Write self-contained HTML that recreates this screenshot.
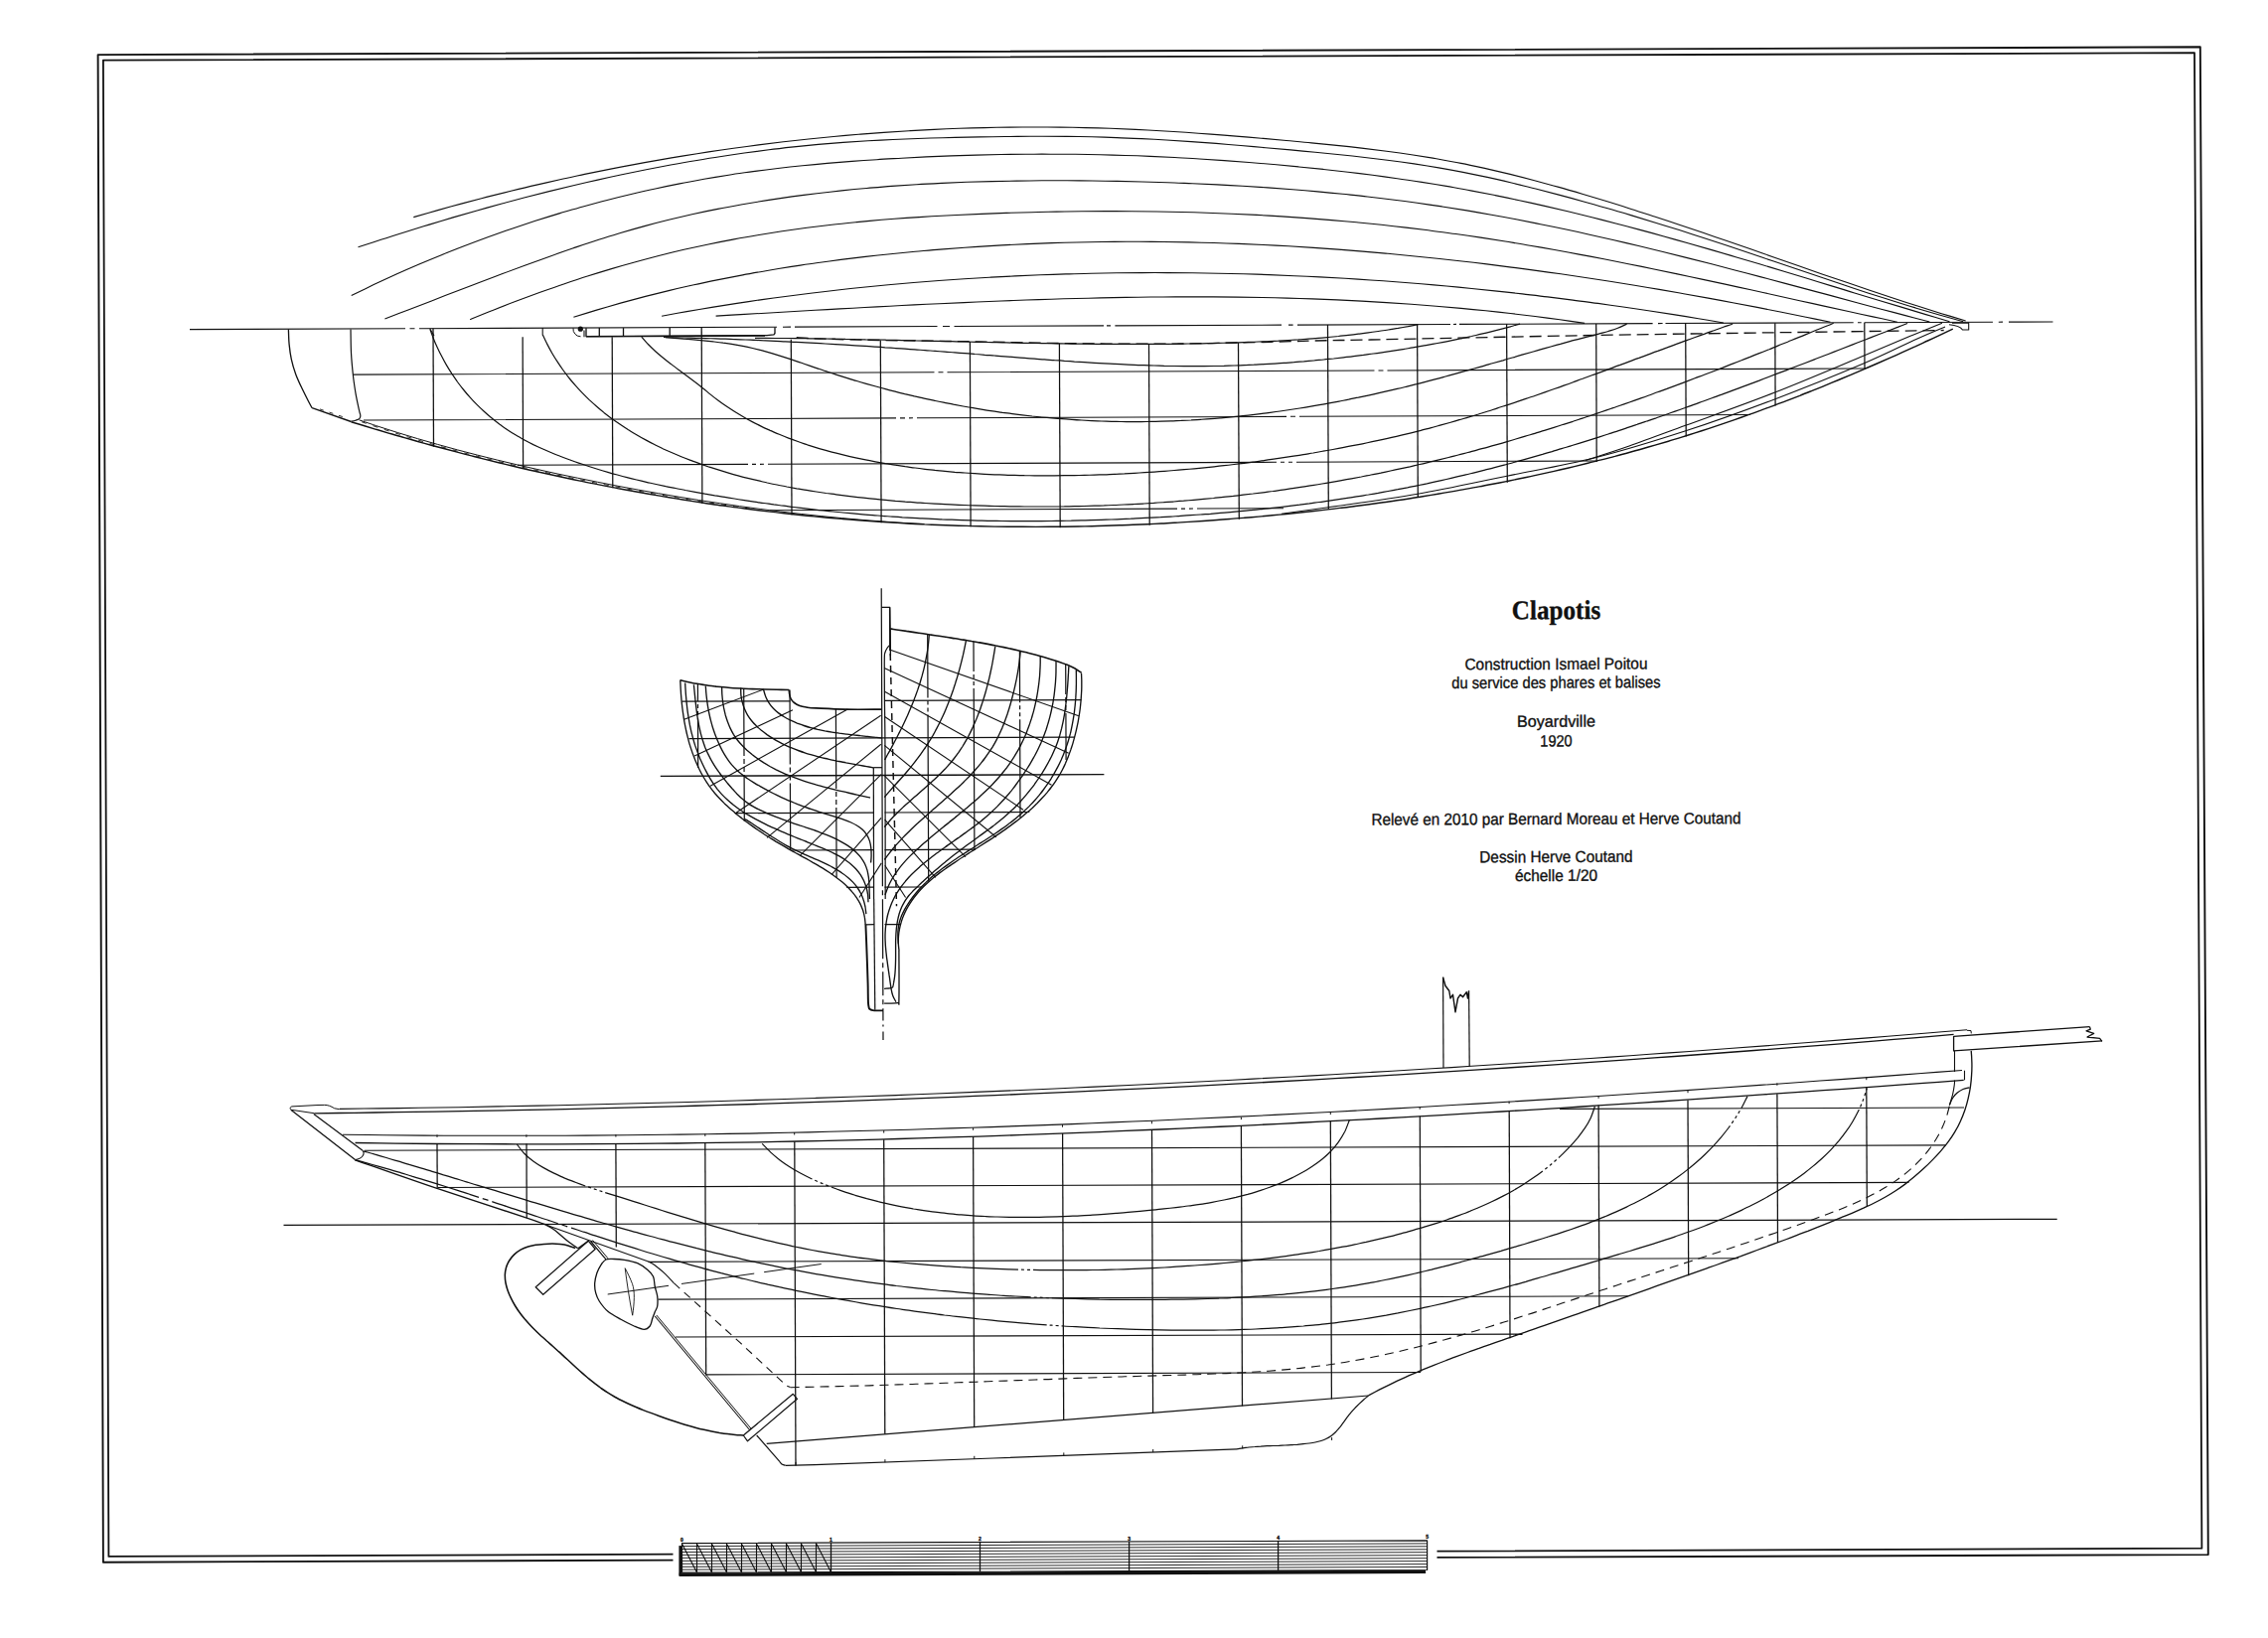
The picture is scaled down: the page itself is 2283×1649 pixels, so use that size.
<!DOCTYPE html>
<html><head><meta charset="utf-8"><title>Clapotis</title>
<style>
html,body{margin:0;padding:0;background:#fff;}
body{width:2283px;height:1649px;overflow:hidden;font-family:"Liberation Sans",sans-serif;}
svg{display:block;}
svg path{fill:none;stroke:#111;stroke-linecap:butt;stroke-linejoin:round;}
svg text{fill:#111;stroke:#111;stroke-width:0.35px;}
</style></head><body>
<svg xmlns="http://www.w3.org/2000/svg" width="2283" height="1649" viewBox="0 0 2283 1649">
<rect width="2283" height="1649" fill="#fff"/>
<path d="M677.5 1570.6L103.9 1572.7L98.6 55.1L2214.8 47.3L2222.8 1565.1L1446.5 1567.9" stroke-width="1.9"/>
<path d="M677.5 1564.7L109.4 1566.9L103.9 60.7L2209 53.2L2216.4 1558.7L1446.5 1561.7" stroke-width="1.8"/>
<path d="M416.3 218.6C420.4 217.4 432.6 213.9 440.7 211.6C448.9 209.3 457 207.1 465.2 204.9C473.3 202.7 481.5 200.5 489.7 198.4C497.9 196.3 506.1 194.3 514.3 192.3C522.5 190.3 530.7 188.3 539 186.4C547.2 184.5 555.5 182.6 563.7 180.8C572 178.9 580.2 177.2 588.5 175.4C596.8 173.7 605.1 172 613.4 170.4C621.7 168.7 630 167.1 638.3 165.6C646.6 164 654.9 162.5 663.2 161.1C671.6 159.6 679.9 158.2 688.2 156.9C696.6 155.5 704.9 154.2 713.3 152.9C721.7 151.6 730 150.4 738.4 149.3C746.8 148.1 755.1 147 763.5 145.9C771.9 144.8 780.3 143.8 788.7 142.8C797.1 141.8 805.5 140.9 813.9 140C822.3 139.1 830.7 138.3 839.1 137.5C847.5 136.7 856 136 864.4 135.3C872.8 134.6 881.2 134 889.7 133.4C898.1 132.8 906.5 132.2 915 131.7C923.4 131.2 931.8 130.8 940.3 130.4C948.7 130 957.2 129.6 965.6 129.3C974.1 129 982.5 128.8 991 128.6C999.4 128.4 1007.9 128.2 1016.3 128.1C1024.8 128 1033.2 128 1041.7 128C1050.1 128 1058.6 128 1067 128.1C1075.5 128.2 1083.9 128.4 1092.4 128.6C1100.8 128.8 1109.3 129 1117.7 129.3C1126.2 129.6 1134.6 130 1143 130.4C1151.5 130.8 1159.9 131.2 1168.4 131.7C1176.8 132.2 1185.3 132.7 1193.7 133.3C1202.1 133.9 1210.6 134.5 1219 135.1C1227.4 135.7 1235.9 136.4 1244.3 137.1C1252.7 137.8 1261.2 138.5 1269.6 139.2C1278 140 1286.4 140.7 1294.9 141.5C1303.3 142.3 1311.7 143 1320.1 143.9C1328.6 144.7 1337 145.5 1345.4 146.4C1353.8 147.2 1362.2 148.1 1370.6 149.1C1379 150.1 1387.4 151.1 1395.8 152.2C1404.1 153.3 1412.5 154.5 1420.8 155.7C1429.2 157 1437.5 158.3 1445.8 159.7C1454.1 161.2 1462.4 162.7 1470.7 164.4C1479 166 1487.2 167.8 1495.5 169.6C1503.7 171.5 1511.9 173.4 1520.1 175.4C1528.3 177.4 1536.5 179.5 1544.7 181.7C1552.9 183.9 1561 186.1 1569.1 188.4C1577.3 190.7 1585.4 193.1 1593.5 195.5C1601.6 197.9 1609.7 200.3 1617.8 202.8C1625.9 205.3 1634 207.8 1642 210.4C1650.1 212.9 1658.2 215.6 1666.2 218.2C1674.2 220.8 1682.3 223.5 1690.3 226.2C1698.3 228.9 1706.3 231.6 1714.3 234.3C1722.3 237 1730.3 239.8 1738.3 242.5C1746.3 245.3 1754.3 248.1 1762.3 250.8C1770.3 253.6 1778.2 256.4 1786.2 259.2C1794.2 262 1802.2 264.8 1810.1 267.5C1818.1 270.3 1826.1 273.1 1834.1 275.9C1842.1 278.6 1850.1 281.4 1858.1 284.1C1866 286.8 1874 289.5 1882.1 292.2C1890.1 294.9 1898.1 297.6 1906.1 300.2C1914.1 302.9 1922.2 305.5 1930.2 308C1938.3 310.6 1946.4 313.2 1954.4 315.7C1962.5 318.1 1974.7 321.8 1978.7 323" stroke-width="1.1"/>
<path d="M360.5 248.8C364.5 247.5 376.4 243.6 384.3 241.1C392.2 238.5 400.2 236 408.2 233.5C416.1 231 424.1 228.5 432.1 226.1C440.1 223.7 448.1 221.3 456.1 218.9C464.1 216.6 472.1 214.3 480.2 212C488.2 209.7 496.3 207.5 504.3 205.3C512.4 203.1 520.4 200.9 528.5 198.8C536.6 196.7 544.7 194.6 552.8 192.6C560.9 190.6 569 188.6 577.1 186.7C585.3 184.8 593.4 182.9 601.6 181.1C609.7 179.2 617.9 177.4 626 175.7C634.2 174 642.4 172.3 650.5 170.7C658.7 169.1 666.9 167.5 675.1 166C683.3 164.5 691.6 163 699.8 161.7C708 160.3 716.2 158.9 724.5 157.7C732.7 156.4 741 155.2 749.2 154C757.5 152.9 765.8 151.8 774 150.8C782.3 149.7 790.6 148.8 798.9 147.9C807.2 147 815.5 146.2 823.8 145.4C832.1 144.7 840.4 144 848.8 143.4C857.1 142.8 865.4 142.3 873.7 141.8C882.1 141.3 890.4 140.9 898.8 140.5C907.1 140.1 915.5 139.8 923.8 139.5C932.2 139.2 940.5 138.9 948.9 138.7C957.2 138.5 965.6 138.3 973.9 138.1C982.3 138 990.6 137.8 999 137.7C1007.3 137.6 1015.7 137.5 1024 137.4C1032.4 137.3 1040.7 137.3 1049.1 137.3C1057.4 137.3 1065.7 137.3 1074.1 137.4C1082.4 137.5 1090.8 137.6 1099.1 137.8C1107.4 138 1115.8 138.3 1124.1 138.6C1132.4 138.8 1140.8 139.2 1149.1 139.6C1157.4 140 1165.8 140.5 1174.1 141C1182.4 141.5 1190.7 142 1199.1 142.6C1207.4 143.2 1215.7 143.8 1224.1 144.4C1232.4 145.1 1240.7 145.8 1249 146.5C1257.3 147.2 1265.7 147.9 1274 148.7C1282.3 149.4 1290.6 150.2 1299 150.9C1307.3 151.7 1315.6 152.5 1323.9 153.3C1332.2 154.1 1340.5 154.9 1348.9 155.8C1357.2 156.6 1365.5 157.5 1373.8 158.5C1382 159.4 1390.3 160.4 1398.6 161.5C1406.9 162.6 1415.1 163.7 1423.4 164.9C1431.6 166.2 1439.9 167.5 1448.1 168.9C1456.3 170.3 1464.5 171.8 1472.7 173.4C1480.8 175 1489 176.7 1497.1 178.4C1505.3 180.2 1513.4 182.1 1521.5 184C1529.6 185.9 1537.7 188 1545.8 190C1553.9 192.1 1562 194.2 1570.1 196.4C1578.1 198.5 1586.2 200.7 1594.2 203C1602.3 205.2 1610.3 207.5 1618.3 209.8C1626.4 212.1 1634.4 214.5 1642.4 216.9C1650.4 219.3 1658.4 221.7 1666.4 224.2C1674.4 226.6 1682.3 229.1 1690.3 231.6C1698.2 234.1 1706.2 236.7 1714.1 239.3C1722.1 241.9 1730 244.5 1737.9 247.1C1745.9 249.7 1753.8 252.4 1761.7 255C1769.6 257.7 1777.5 260.4 1785.4 263.1C1793.3 265.7 1801.2 268.4 1809.1 271.1C1817 273.8 1824.9 276.5 1832.8 279.1C1840.7 281.8 1848.6 284.4 1856.5 287C1864.4 289.7 1872.4 292.3 1880.3 294.9C1888.2 297.4 1896.2 300 1904.2 302.5C1912.1 305 1920.1 307.5 1928.1 309.9C1936.1 312.3 1944.1 314.7 1952.1 317C1960.1 319.3 1972.2 322.6 1976.2 323.8" stroke-width="1.1"/>
<path d="M353.7 297.5C357.5 295.7 368.7 290.2 376.2 286.6C383.8 283.1 391.4 279.6 399 276.1C406.6 272.7 414.2 269.4 421.9 266.1C429.6 262.8 437.3 259.6 445 256.5C452.7 253.3 460.5 250.3 468.3 247.3C476 244.3 483.8 241.4 491.7 238.5C499.5 235.7 507.4 232.9 515.3 230.2C523.2 227.5 531.1 224.9 539 222.3C547 219.8 554.9 217.3 562.9 214.9C570.9 212.6 578.9 210.2 586.9 208C594.9 205.8 603 203.6 611.1 201.5C619.1 199.4 627.2 197.4 635.3 195.5C643.4 193.6 651.6 191.7 659.7 190C667.8 188.2 676 186.5 684.2 184.9C692.3 183.3 700.5 181.8 708.7 180.3C716.9 178.9 725.2 177.5 733.4 176.2C741.6 174.9 749.9 173.8 758.1 172.6C766.4 171.5 774.6 170.5 782.9 169.5C791.2 168.5 799.5 167.6 807.8 166.8C816.1 165.9 824.4 165.1 832.7 164.4C841 163.7 849.3 163 857.6 162.4C865.9 161.8 874.3 161.2 882.6 160.7C890.9 160.1 899.2 159.7 907.6 159.2C915.9 158.7 924.2 158.3 932.5 157.9C940.9 157.6 949.2 157.2 957.5 156.9C965.9 156.6 974.2 156.3 982.5 156.1C990.9 155.9 999.2 155.7 1007.5 155.5C1015.9 155.4 1024.2 155.3 1032.5 155.2C1040.9 155.2 1049.2 155.1 1057.5 155.2C1065.9 155.2 1074.2 155.2 1082.5 155.3C1090.8 155.4 1099.2 155.6 1107.5 155.8C1115.8 156 1124.2 156.2 1132.5 156.5C1140.8 156.7 1149.1 157 1157.5 157.4C1165.8 157.7 1174.1 158.1 1182.4 158.5C1190.8 159 1199.1 159.4 1207.4 160C1215.7 160.5 1224 161 1232.4 161.6C1240.7 162.2 1249 162.8 1257.3 163.5C1265.6 164.1 1273.9 164.8 1282.2 165.5C1290.5 166.3 1298.8 167.1 1307.1 167.9C1315.4 168.7 1323.7 169.5 1332 170.4C1340.3 171.3 1348.6 172.2 1356.9 173.2C1365.2 174.2 1373.4 175.2 1381.7 176.3C1390 177.4 1398.2 178.5 1406.5 179.7C1414.7 180.8 1423 182.1 1431.2 183.4C1439.4 184.7 1447.7 186 1455.9 187.4C1464.1 188.9 1472.3 190.3 1480.4 191.9C1488.6 193.4 1496.8 195 1505 196.6C1513.1 198.3 1521.3 200 1529.4 201.7C1537.5 203.5 1545.7 205.3 1553.8 207.1C1561.9 209 1570 210.9 1578.1 212.8C1586.2 214.8 1594.3 216.8 1602.4 218.8C1610.5 220.8 1618.5 222.9 1626.6 225C1634.7 227.1 1642.7 229.2 1650.8 231.4C1658.8 233.5 1666.9 235.7 1674.9 238C1682.9 240.2 1691 242.5 1699 244.7C1707 247 1715 249.3 1723 251.6C1731.1 254 1739.1 256.3 1747.1 258.7C1755.1 261 1763.1 263.4 1771.1 265.8C1779.1 268.2 1787 270.6 1795 273C1803 275.4 1811 277.8 1819 280.3C1827 282.7 1834.9 285.1 1842.9 287.6C1850.9 290 1858.9 292.4 1866.8 294.9C1874.8 297.3 1882.8 299.7 1890.8 302.2C1898.7 304.6 1906.7 307 1914.7 309.4C1922.6 311.8 1930.6 314.2 1938.6 316.6C1946.5 319 1958.5 322.5 1962.5 323.7" stroke-width="1.1"/>
<path d="M387.4 321C391.4 319.5 403.1 315 410.9 312C418.8 308.9 426.6 305.9 434.4 302.9C442.3 299.8 450.1 296.8 458 293.8C465.8 290.8 473.7 287.7 481.6 284.7C489.4 281.7 497.3 278.7 505.2 275.8C513.1 272.8 521 269.9 528.9 267C536.8 264.1 544.7 261.2 552.6 258.4C560.6 255.5 568.5 252.7 576.5 250C584.5 247.3 592.4 244.6 600.5 242C608.5 239.5 616.5 236.9 624.6 234.5C632.6 232.1 640.7 229.8 648.8 227.6C656.9 225.4 665.1 223.3 673.2 221.3C681.4 219.3 689.6 217.4 697.8 215.5C706 213.7 714.2 212 722.5 210.4C730.7 208.7 739 207.2 747.3 205.7C755.6 204.3 763.9 202.9 772.2 201.6C780.5 200.3 788.8 199.1 797.2 197.9C805.5 196.8 813.9 195.7 822.2 194.7C830.6 193.7 838.9 192.8 847.3 191.9C855.7 191 864 190.2 872.4 189.5C880.8 188.7 889.2 188.1 897.5 187.4C905.9 186.8 914.3 186.3 922.7 185.8C931.1 185.2 939.5 184.8 947.9 184.4C956.3 184 964.7 183.6 973.1 183.3C981.5 183 989.9 182.8 998.3 182.6C1006.7 182.4 1015.1 182.2 1023.5 182.1C1031.9 182 1040.4 181.9 1048.8 181.8C1057.2 181.8 1065.6 181.8 1074 181.8C1082.4 181.9 1090.9 181.9 1099.3 182C1107.7 182.1 1116.1 182.3 1124.5 182.4C1133 182.6 1141.4 182.8 1149.8 183C1158.2 183.2 1166.6 183.5 1175.1 183.8C1183.5 184 1191.9 184.4 1200.3 184.7C1208.7 185.1 1217.1 185.5 1225.5 185.9C1233.9 186.3 1242.4 186.8 1250.8 187.3C1259.2 187.8 1267.6 188.3 1276 188.9C1284.4 189.5 1292.8 190.1 1301.1 190.8C1309.5 191.4 1317.9 192.1 1326.3 192.9C1334.7 193.7 1343 194.5 1351.4 195.3C1359.8 196.2 1368.1 197 1376.5 198C1384.8 198.9 1393.2 199.9 1401.5 201C1409.9 202 1418.2 203.1 1426.5 204.3C1434.8 205.5 1443.2 206.7 1451.5 207.9C1459.8 209.2 1468.1 210.5 1476.4 211.9C1484.7 213.3 1492.9 214.7 1501.2 216.2C1509.5 217.7 1517.7 219.2 1526 220.8C1534.3 222.4 1542.5 224 1550.7 225.7C1559 227.3 1567.2 229 1575.4 230.8C1583.7 232.5 1591.9 234.3 1600.1 236.2C1608.3 238 1616.5 239.9 1624.7 241.8C1632.9 243.7 1641.1 245.6 1649.3 247.5C1657.5 249.5 1665.7 251.5 1673.9 253.5C1682 255.5 1690.2 257.5 1698.4 259.6C1706.5 261.7 1714.7 263.7 1722.9 265.8C1731 267.9 1739.2 270 1747.3 272.2C1755.5 274.3 1763.6 276.4 1771.8 278.6C1779.9 280.7 1788 282.9 1796.2 285.1C1804.3 287.2 1812.4 289.4 1820.6 291.6C1828.7 293.8 1836.8 296 1845 298.1C1853.1 300.3 1861.2 302.5 1869.3 304.7C1877.5 306.8 1885.6 309 1893.7 311.2C1901.8 313.3 1909.9 315.5 1918 317.6C1926.2 319.7 1938.3 322.9 1942.4 324" stroke-width="1.1"/>
<path d="M473.1 321.6C477 320 488.6 315.2 496.5 312.2C504.3 309.1 512.1 306 520 303.1C527.9 300.1 535.8 297.2 543.7 294.3C551.6 291.5 559.5 288.7 567.5 286C575.4 283.3 583.4 280.6 591.4 278.1C599.4 275.5 607.4 273 615.5 270.6C623.5 268.2 631.6 265.9 639.7 263.7C647.8 261.4 655.9 259.3 664 257.2C672.2 255.2 680.3 253.2 688.5 251.3C696.7 249.5 704.9 247.7 713.1 246C721.3 244.2 729.5 242.6 737.7 241.1C746 239.5 754.2 238 762.5 236.7C770.8 235.3 779.1 234 787.4 232.7C795.7 231.5 804 230.3 812.3 229.2C820.6 228.1 828.9 227.1 837.3 226.2C845.6 225.2 854 224.4 862.3 223.6C870.7 222.8 879 222 887.4 221.3C895.8 220.6 904.1 220 912.5 219.4C920.9 218.9 929.3 218.3 937.7 217.8C946.1 217.3 954.5 216.9 962.8 216.5C971.2 216.1 979.6 215.7 988 215.4C996.4 215 1004.8 214.7 1013.2 214.4C1021.6 214.1 1030 213.9 1038.4 213.7C1046.7 213.4 1055.1 213.3 1063.5 213.1C1071.9 213 1080.3 212.8 1088.7 212.8C1097.1 212.7 1105.5 212.6 1113.9 212.6C1122.3 212.6 1130.7 212.6 1139.1 212.7C1147.5 212.7 1155.9 212.8 1164.3 213C1172.7 213.1 1181.1 213.3 1189.5 213.5C1197.9 213.7 1206.2 213.9 1214.6 214.2C1223 214.5 1231.4 214.9 1239.8 215.2C1248.2 215.6 1256.6 216 1265 216.4C1273.4 216.9 1281.7 217.4 1290.1 217.9C1298.5 218.4 1306.9 219 1315.3 219.6C1323.6 220.2 1332 220.9 1340.4 221.6C1348.7 222.3 1357.1 223 1365.4 223.8C1373.8 224.6 1382.2 225.5 1390.5 226.3C1398.8 227.2 1407.2 228.2 1415.5 229.1C1423.9 230.1 1432.2 231.1 1440.5 232.2C1448.8 233.2 1457.2 234.4 1465.5 235.5C1473.8 236.7 1482.1 237.9 1490.4 239.1C1498.7 240.4 1507 241.7 1515.2 243C1523.5 244.4 1531.8 245.7 1540.1 247.2C1548.4 248.6 1556.6 250 1564.9 251.5C1573.1 253 1581.4 254.5 1589.6 256.1C1597.9 257.6 1606.1 259.2 1614.4 260.8C1622.6 262.4 1630.9 264 1639.1 265.7C1647.3 267.3 1655.6 269 1663.8 270.7C1672 272.4 1680.2 274.1 1688.5 275.9C1696.7 277.6 1704.9 279.4 1713.1 281.1C1721.3 282.9 1729.5 284.7 1737.7 286.4C1745.9 288.2 1754.2 290 1762.4 291.8C1770.6 293.6 1778.8 295.4 1787 297.2C1795.2 299.1 1803.4 300.9 1811.6 302.7C1819.8 304.5 1827.9 306.3 1836.1 308.1C1844.3 309.9 1852.5 311.7 1860.7 313.5C1868.9 315.3 1877.1 317.1 1885.3 318.9C1893.5 320.6 1905.8 323.3 1909.9 324.2" stroke-width="1.1"/>
<path d="M577.4 319.3C581.4 318.1 593.4 314.3 601.4 311.9C609.4 309.5 617.5 307.2 625.5 304.9C633.6 302.7 641.7 300.5 649.8 298.4C657.9 296.4 666 294.4 674.1 292.4C682.2 290.5 690.3 288.6 698.5 286.8C706.6 285 714.8 283.3 723 281.6C731.2 280 739.4 278.4 747.6 276.9C755.8 275.3 764 273.9 772.2 272.5C780.4 271.1 788.7 269.7 796.9 268.4C805.2 267.2 813.4 265.9 821.7 264.8C830 263.6 838.2 262.5 846.5 261.4C854.8 260.4 863.1 259.4 871.4 258.4C879.7 257.4 888 256.5 896.3 255.7C904.6 254.8 912.9 254 921.3 253.2C929.6 252.5 937.9 251.7 946.2 251.1C954.6 250.4 962.9 249.8 971.2 249.2C979.6 248.6 987.9 248.1 996.3 247.6C1004.6 247.1 1013 246.6 1021.3 246.2C1029.7 245.8 1038 245.4 1046.4 245.1C1054.7 244.8 1063.1 244.5 1071.4 244.3C1079.8 244.1 1088.2 243.9 1096.5 243.7C1104.9 243.6 1113.2 243.5 1121.6 243.4C1130 243.3 1138.3 243.3 1146.7 243.3C1155 243.3 1163.4 243.4 1171.7 243.5C1180.1 243.6 1188.5 243.7 1196.8 243.9C1205.2 244.1 1213.5 244.3 1221.9 244.5C1230.2 244.8 1238.6 245.1 1246.9 245.4C1255.3 245.7 1263.6 246.1 1271.9 246.5C1280.3 246.9 1288.6 247.4 1297 247.8C1305.3 248.3 1313.6 248.8 1322 249.4C1330.3 249.9 1338.6 250.5 1347 251.1C1355.3 251.8 1363.6 252.4 1371.9 253.1C1380.3 253.8 1388.6 254.5 1396.9 255.3C1405.2 256 1413.5 256.8 1421.8 257.7C1430.1 258.5 1438.4 259.3 1446.8 260.2C1455.1 261.1 1463.4 262 1471.7 263C1480 263.9 1488.2 264.9 1496.5 265.9C1504.8 266.9 1513.1 268 1521.4 269.1C1529.7 270.1 1538 271.2 1546.2 272.4C1554.5 273.5 1562.8 274.7 1571.1 275.8C1579.3 277 1587.6 278.2 1595.9 279.5C1604.1 280.7 1612.4 282 1620.6 283.3C1628.9 284.6 1637.2 285.9 1645.4 287.3C1653.6 288.6 1661.9 290 1670.1 291.4C1678.4 292.8 1686.6 294.2 1694.8 295.7C1703.1 297.1 1711.3 298.6 1719.5 300.1C1727.7 301.6 1736 303.1 1744.2 304.7C1752.4 306.2 1760.6 307.8 1768.8 309.4C1777 311 1785.2 312.6 1793.4 314.2C1801.6 315.8 1809.8 317.5 1818 319.2C1826.1 320.9 1838.4 323.4 1842.5 324.3" stroke-width="1.1"/>
<path d="M666.1 318.2C670.3 317.4 682.9 315.1 691.3 313.6C699.7 312.2 708.1 310.8 716.5 309.4C725 308 733.4 306.7 741.8 305.4C750.2 304.1 758.7 302.8 767.1 301.6C775.5 300.4 784 299.3 792.4 298.2C800.9 297.1 809.3 296 817.8 295C826.3 293.9 834.7 292.9 843.2 292C851.7 291 860.1 290.1 868.6 289.3C877.1 288.4 885.6 287.6 894.1 286.8C902.6 286 911.1 285.2 919.6 284.5C928.1 283.8 936.6 283.2 945.1 282.5C953.6 281.9 962.1 281.3 970.6 280.8C979.1 280.2 987.6 279.7 996.1 279.2C1004.6 278.7 1013.1 278.3 1021.7 277.9C1030.2 277.5 1038.7 277.1 1047.2 276.8C1055.7 276.5 1064.3 276.2 1072.8 275.9C1081.3 275.7 1089.8 275.4 1098.4 275.3C1106.9 275.1 1115.4 274.9 1123.9 274.8C1132.5 274.7 1141 274.6 1149.5 274.6C1158 274.5 1166.6 274.5 1175.1 274.6C1183.6 274.6 1192.1 274.7 1200.7 274.8C1209.2 274.9 1217.7 275 1226.3 275.2C1234.8 275.4 1243.3 275.6 1251.8 275.8C1260.3 276 1268.9 276.3 1277.4 276.6C1285.9 276.9 1294.4 277.3 1302.9 277.7C1311.5 278 1320 278.4 1328.5 278.9C1337 279.3 1345.5 279.8 1354 280.3C1362.5 280.8 1371.1 281.4 1379.6 282C1388.1 282.5 1396.6 283.1 1405.1 283.8C1413.6 284.4 1422.1 285.1 1430.6 285.8C1439.1 286.5 1447.6 287.3 1456.1 288C1464.6 288.8 1473 289.6 1481.5 290.5C1490 291.3 1498.5 292.2 1507 293.1C1515.5 294 1523.9 294.9 1532.4 295.9C1540.9 296.9 1549.3 297.8 1557.8 298.9C1566.3 299.9 1574.7 301 1583.2 302.1C1591.6 303.1 1600.1 304.3 1608.5 305.4C1617 306.6 1625.4 307.8 1633.9 309C1642.3 310.2 1650.8 311.4 1659.2 312.7C1667.6 314 1676 315.3 1684.5 316.6C1692.9 318 1701.3 319.3 1709.7 320.7C1718.1 322.1 1730.7 324.3 1734.9 325" stroke-width="1.1"/>
<path d="M720.6 318.1C724.7 317.8 737.2 317.1 745.5 316.6C753.8 316.2 762.1 315.7 770.5 315.2C778.8 314.7 787.1 314.2 795.4 313.7C803.8 313.3 812.1 312.8 820.4 312.3C828.7 311.8 837.1 311.4 845.4 310.9C853.7 310.5 862.1 310 870.4 309.5C878.7 309.1 887.1 308.6 895.4 308.2C903.7 307.8 912.1 307.3 920.4 306.9C928.7 306.5 937.1 306.1 945.4 305.7C953.8 305.3 962.1 304.9 970.4 304.6C978.8 304.2 987.1 303.8 995.5 303.5C1003.8 303.1 1012.2 302.8 1020.5 302.5C1028.8 302.2 1037.2 301.9 1045.5 301.6C1053.9 301.3 1062.2 301.1 1070.6 300.8C1078.9 300.6 1087.3 300.4 1095.6 300.2C1103.9 300 1112.3 299.8 1120.6 299.6C1129 299.5 1137.3 299.3 1145.7 299.2C1154 299.1 1162.4 299 1170.7 299C1179 298.9 1187.4 298.9 1195.7 298.9C1204.1 298.9 1212.4 298.9 1220.8 298.9C1229.1 299 1237.4 299 1245.8 299.1C1254.1 299.2 1262.4 299.4 1270.8 299.5C1279.1 299.7 1287.5 299.9 1295.8 300.1C1304.1 300.4 1312.5 300.6 1320.8 300.9C1329.1 301.2 1337.5 301.6 1345.8 301.9C1354.1 302.3 1362.4 302.7 1370.8 303.1C1379.1 303.6 1387.4 304.1 1395.7 304.6C1404.1 305.1 1412.4 305.7 1420.7 306.3C1429 306.9 1437.3 307.5 1445.7 308.2C1454 308.9 1462.3 309.6 1470.6 310.4C1478.9 311.1 1487.2 311.9 1495.5 312.8C1503.8 313.7 1512.1 314.6 1520.4 315.5C1528.7 316.5 1537 317.5 1545.3 318.5C1553.6 319.6 1561.9 320.7 1570.2 321.8C1578.5 323 1590.9 324.8 1595.1 325.4" stroke-width="1.1"/>
<path d="M191.0 331.65L408.0 330.76M412.5 330.74L417.5 330.72M422.0 330.70L782.0 329.23M788.0 329.20L796.0 329.17M800.0 329.15L943.5 328.56M949.0 328.54L956.0 328.51M960.5 328.50L1111.0 327.88M1114.0 327.87L1118.0 327.85M1122.4 327.83L1290.0 327.14M1297.0 327.12L1301.6 327.10M1306.0 327.08L1460.0 326.45M1463.0 326.43L1466.0 326.42M1469.0 326.41L1663.6 325.61M1669.0 325.59L1673.6 325.57M1676.5 325.56L1865.7 324.78M1870.0 324.77L1873.7 324.75M1876.5 324.74L2006.0 324.21M2011.8 324.18L2016.0 324.17M2022.0 324.14L2066.5 323.96" stroke-width="1.1"/>
<path d="M353.5 424.7C355.7 425.4 362.4 427.4 366.9 428.8C371.3 430.1 375.8 431.5 380.3 432.8C384.7 434.1 389.2 435.5 393.7 436.8C398.2 438.1 402.6 439.4 407.1 440.6C411.6 441.9 416.1 443.2 420.6 444.5C425.1 445.7 429.6 447 434.1 448.2C438.6 449.4 443.1 450.6 447.6 451.8C452.1 453 456.6 454.2 461.1 455.4C465.6 456.6 470.2 457.8 474.7 458.9C479.2 460.1 483.7 461.2 488.3 462.4C492.8 463.5 497.3 464.6 501.9 465.7C506.4 466.8 511 467.9 515.5 469C520 470 524.6 471.1 529.1 472.2C533.7 473.2 538.3 474.2 542.8 475.3C547.4 476.3 551.9 477.3 556.5 478.3C561.1 479.3 565.6 480.3 570.2 481.3C574.8 482.2 579.3 483.2 583.9 484.1C588.5 485.1 593.1 486 597.7 486.9C602.2 487.8 606.8 488.7 611.4 489.6C616 490.5 620.6 491.4 625.2 492.2C629.8 493.1 634.4 493.9 639 494.8C643.6 495.6 648.2 496.4 652.8 497.2C657.4 498 662 498.8 666.6 499.6C671.2 500.4 675.8 501.1 680.4 501.9C685 502.6 689.6 503.4 694.2 504.1C698.9 504.8 703.5 505.5 708.1 506.2C712.7 506.9 717.3 507.6 722 508.2C726.6 508.9 731.2 509.5 735.8 510.1C740.5 510.8 745.1 511.4 749.7 512C754.4 512.6 759 513.2 763.6 513.8C768.3 514.3 772.9 514.9 777.5 515.4C782.2 516 786.8 516.5 791.5 517C796.1 517.5 800.7 518 805.4 518.5C810 519 814.7 519.4 819.3 519.9C824 520.3 828.6 520.8 833.3 521.2C837.9 521.6 842.5 522 847.2 522.4C851.9 522.8 856.5 523.2 861.2 523.5C865.8 523.9 870.5 524.2 875.1 524.6C879.8 524.9 884.4 525.2 889.1 525.5C893.7 525.8 898.4 526.1 903.1 526.4C907.7 526.7 912.4 526.9 917 527.2C921.7 527.4 926.4 527.6 931 527.9C935.7 528.1 940.3 528.3 945 528.5C949.7 528.7 954.3 528.8 959 529C963.7 529.2 968.3 529.3 973 529.4C977.6 529.6 982.3 529.7 987 529.8C991.6 529.9 996.3 530 1001 530.1C1005.6 530.1 1010.3 530.2 1015 530.2C1019.6 530.3 1024.3 530.3 1029 530.3C1033.6 530.4 1038.3 530.4 1043 530.4C1047.6 530.4 1052.3 530.3 1057 530.3C1061.6 530.3 1066.3 530.2 1071 530.2C1075.7 530.1 1080.3 530 1085 530C1089.7 529.9 1094.3 529.8 1099 529.7C1103.7 529.5 1108.3 529.4 1113 529.3C1117.7 529.1 1122.3 529 1127 528.8C1131.7 528.7 1136.3 528.5 1141 528.3C1145.7 528.1 1150.3 527.9 1155 527.7C1159.7 527.5 1164.3 527.2 1169 527C1173.7 526.8 1178.3 526.5 1183 526.2C1187.6 526 1192.3 525.7 1197 525.4C1201.6 525.1 1206.3 524.8 1211 524.5C1215.6 524.2 1220.3 523.8 1224.9 523.5C1229.6 523.2 1234.2 522.8 1238.9 522.4C1243.6 522.1 1248.2 521.7 1252.9 521.3C1257.5 520.9 1262.2 520.5 1266.8 520.1C1271.5 519.7 1276.1 519.3 1280.8 518.8C1285.5 518.4 1290.1 517.9 1294.8 517.5C1299.4 517 1304 516.5 1308.7 516C1313.3 515.5 1318 515 1322.6 514.5C1327.3 514 1331.9 513.5 1336.6 512.9C1341.2 512.4 1345.8 511.8 1350.5 511.2C1355.1 510.7 1359.7 510.1 1364.4 509.5C1369 508.9 1373.6 508.3 1378.3 507.7C1382.9 507 1387.5 506.4 1392.2 505.7C1396.8 505.1 1401.4 504.4 1406 503.7C1410.6 503.1 1415.3 502.4 1419.9 501.7C1424.5 500.9 1429.1 500.2 1433.7 499.5C1438.3 498.7 1442.9 498 1447.5 497.2C1452.1 496.5 1456.8 495.7 1461.4 494.9C1466 494.1 1470.6 493.3 1475.1 492.4C1479.7 491.6 1484.3 490.8 1488.9 489.9C1493.5 489.1 1498.1 488.2 1502.7 487.3C1507.3 486.4 1511.8 485.5 1516.4 484.6C1521 483.7 1525.6 482.7 1530.1 481.8C1534.7 480.8 1539.3 479.9 1543.8 478.9C1548.4 477.9 1553 476.9 1557.5 475.9C1562.1 474.9 1566.6 473.8 1571.2 472.8C1575.7 471.7 1580.3 470.7 1584.8 469.6C1589.4 468.5 1593.9 467.4 1598.4 466.3C1603 465.2 1607.5 464 1612 462.9C1616.5 461.7 1621 460.5 1625.6 459.4C1630.1 458.2 1634.6 457 1639.1 455.7C1643.6 454.5 1648.1 453.3 1652.6 452C1657.1 450.7 1661.5 449.4 1666 448.1C1670.5 446.8 1675 445.5 1679.4 444.2C1683.9 442.8 1688.4 441.5 1692.8 440.1C1697.3 438.7 1701.7 437.3 1706.2 435.9C1710.6 434.5 1715.1 433 1719.5 431.6C1723.9 430.1 1728.4 428.6 1732.8 427.1C1737.2 425.6 1741.6 424.1 1746 422.6C1750.4 421 1754.8 419.5 1759.2 417.9C1763.6 416.3 1768 414.8 1772.4 413.2C1776.8 411.5 1781.2 409.9 1785.5 408.3C1789.9 406.6 1794.3 405 1798.6 403.3C1803 401.6 1807.3 400 1811.7 398.3C1816 396.5 1820.4 394.8 1824.7 393.1C1829.1 391.4 1833.4 389.6 1837.7 387.9C1842 386.1 1846.4 384.3 1850.7 382.5C1855 380.7 1859.3 378.9 1863.6 377.1C1867.9 375.3 1872.2 373.4 1876.5 371.6C1880.8 369.8 1885.1 367.9 1889.4 366C1893.6 364.2 1897.9 362.3 1902.2 360.4C1906.5 358.5 1910.7 356.6 1915 354.7C1919.3 352.7 1923.5 350.8 1927.8 348.9C1932 346.9 1936.2 345 1940.5 343C1944.7 341.1 1949 339.1 1953.2 337.1C1957.4 335.1 1963.7 332.1 1965.8 331.1" stroke-width="1.43"/>
<path d="M314.1 410.7L353.5 424.5" stroke-width="1.43"/>
<path d="M361.5 422.8C364.8 423.9 374.6 427.3 381.1 429.4C387.7 431.6 394.2 433.7 400.8 435.7C407.4 437.8 414 439.8 420.6 441.7C427.3 443.7 433.9 445.6 440.5 447.4C447.2 449.3 453.8 451.1 460.5 452.9C467.2 454.7 473.8 456.4 480.5 458.1C487.2 459.8 493.9 461.5 500.6 463.1C507.3 464.7 514 466.3 520.7 467.9C527.5 469.5 534.2 471 540.9 472.5C547.7 474 554.4 475.5 561.2 477C567.9 478.4 574.7 479.8 581.4 481.2C588.2 482.6 594.9 484 601.7 485.3C608.5 486.7 615.3 488 622 489.3C628.8 490.6 635.6 491.8 642.4 493.1C649.2 494.3 656 495.5 662.8 496.7C669.6 497.9 676.4 499.1 683.2 500.2C690 501.3 696.8 502.4 703.6 503.5C710.5 504.6 717.3 505.6 724.1 506.6C730.9 507.7 737.8 508.6 744.6 509.6C751.4 510.6 758.3 511.5 765.1 512.4C771.9 513.3 778.8 514.1 785.6 515C792.5 515.8 799.3 516.6 806.2 517.4C813 518.1 819.9 518.9 826.8 519.6C833.6 520.3 840.5 520.9 847.4 521.6C854.3 522.2 861.1 522.8 868 523.4C874.9 524 881.8 524.5 888.7 525C895.5 525.5 902.4 525.9 909.3 526.4C916.2 526.8 926.6 527.3 930 527.5" stroke-width="0.99"/>
<path d="M364 424.7C367.2 425.8 376.8 429.1 383.2 431.2C389.7 433.4 396.1 435.4 402.6 437.4C409 439.5 415.5 441.4 422 443.4C428.5 445.3 435 447.1 441.5 449C448 450.8 454.6 452.6 461.1 454.3C467.6 456.1 474.2 457.8 480.8 459.4C487.3 461.1 493.9 462.7 500.5 464.3C507 465.9 513.6 467.5 520.2 469C526.8 470.5 533.4 472 540 473.5C546.6 475 553.3 476.4 559.9 477.9C566.5 479.3 573.1 480.7 579.8 482C586.4 483.4 593 484.7 599.7 486.1C606.3 487.4 613 488.6 619.6 489.9C626.3 491.2 633 492.4 639.6 493.6C646.3 494.8 653 496 659.6 497.2C666.3 498.3 673 499.5 679.7 500.6C686.3 501.7 693 502.8 699.7 503.8C706.4 504.9 713.1 505.9 719.8 506.9C726.5 508 733.2 508.9 739.9 509.9C746.6 510.9 756.6 512.3 760 512.8" stroke-width="0.88" stroke-dasharray="5 7"/>
<path d="M1290 517.3C1297.8 516.2 1314.2 514.1 1337 510.8C1359.8 507.5 1397 502.6 1427 497.3C1457 492 1487 485.3 1517 479.2C1547 473.1 1576.8 468.1 1606.8 460.5C1636.7 452.9 1666.7 443.6 1696.8 433.8C1726.8 424 1757.1 413 1787 401.7C1816.9 390.4 1852.5 375.9 1876.3 365.8C1900.1 355.7 1916.4 347.1 1930 341C1943.6 334.9 1953.3 331 1958 329" stroke-width="1.1"/>
<path d="M1596 463.5C1603.3 461.1 1623.2 454.9 1640 449C1656.8 443.1 1672.2 437.3 1696.7 428.3C1721.2 419.3 1756.8 406.7 1786.7 395C1816.6 383.3 1853.2 367.6 1876.3 358C1899.3 348.4 1911.9 342.9 1925 337.5C1938.1 332.1 1950 327.3 1955 325.3" stroke-width="1.1"/>
<path d="M290.4 331.5C290.5 334 290.6 341.6 291.1 346.6C291.6 351.6 292.2 356.6 293.3 361.6C294.4 366.6 295.9 371.8 297.7 376.7C299.5 381.6 301.8 386.4 303.9 390.8C306 395.2 308.4 399.9 310.1 403.2C311.8 406.5 313.4 409.4 314.1 410.7" stroke-width="1.32"/>
<path d="M353 331.5C353.1 335.5 353.1 347.9 353.5 355.4C353.9 362.9 354.6 370 355.3 376.7C356 383.4 356.9 389.2 357.9 395.3C358.9 401.4 360.7 409.2 361.5 413C362.3 416.8 362.7 416.9 362.8 418.3C362.9 419.7 362.7 420.6 361.9 421.4C361.1 422.2 359.3 422.8 357.9 423.3C356.5 423.8 354.2 424.1 353.5 424.2" stroke-width="1.21"/>
<path d="M322 411.9L350 421.3" stroke-width="0.88" stroke-dasharray="4 6"/>
<path d="M432.8 331.4C433.4 332.9 435.1 337.6 436.3 340.7C437.5 343.8 438.8 346.8 440.2 349.8C441.6 352.9 443.1 355.9 444.7 358.8C446.2 361.8 447.8 364.8 449.5 367.6C451.2 370.5 453 373.4 454.8 376.2C456.7 379 458.6 381.8 460.5 384.5C462.5 387.2 464.6 389.9 466.7 392.5C468.8 395.1 470.9 397.6 473.2 400.1C475.4 402.6 477.7 405 480.1 407.4C482.4 409.7 484.8 412 487.3 414.3C489.7 416.5 492.3 418.7 494.8 420.8C497.4 422.9 500 425 502.7 427C505.4 428.9 508.1 430.9 510.8 432.7C513.6 434.6 516.4 436.4 519.3 438.1C522.1 439.8 525 441.4 527.9 443C530.9 444.6 533.8 446.1 536.8 447.6C539.8 449 542.9 450.4 545.9 451.8C549 453.2 552 454.5 555.1 455.7C558.2 457 561.3 458.3 564.4 459.5C567.5 460.7 570.6 461.9 573.8 463C576.9 464.2 580 465.3 583.2 466.3C586.3 467.4 589.5 468.5 592.7 469.5C595.8 470.5 599 471.5 602.2 472.5C605.4 473.5 608.6 474.4 611.8 475.3C615 476.3 618.2 477.2 621.4 478C624.6 478.9 627.9 479.8 631.1 480.6C634.3 481.4 637.6 482.2 640.8 483C644.1 483.8 647.3 484.5 650.6 485.3C653.8 486 657.1 486.8 660.4 487.5C663.6 488.2 666.9 488.9 670.2 489.6C673.5 490.2 676.7 490.9 680 491.5C683.3 492.2 686.6 492.8 689.9 493.5C693.2 494.1 696.5 494.7 699.7 495.3C703 495.9 706.3 496.5 709.6 497.1C712.9 497.6 716.2 498.2 719.5 498.8C722.8 499.3 726.1 499.9 729.4 500.4C732.7 501 736 501.5 739.3 502C742.6 502.6 745.9 503.1 749.2 503.6C752.5 504.1 755.8 504.6 759.1 505.1C762.4 505.6 765.7 506 769 506.5C772.3 507 775.6 507.4 778.9 507.9C782.2 508.3 785.5 508.8 788.9 509.2C792.2 509.6 795.5 510.1 798.8 510.5C802.1 510.9 805.4 511.3 808.7 511.7C812 512.1 815.3 512.5 818.7 512.8C822 513.2 825.3 513.6 828.6 513.9C831.9 514.3 835.2 514.7 838.6 515C841.9 515.3 845.2 515.7 848.5 516C851.8 516.3 855.1 516.6 858.5 516.9C861.8 517.2 865.1 517.5 868.4 517.8C871.7 518.1 875.1 518.4 878.4 518.6C881.7 518.9 885 519.1 888.4 519.4C891.7 519.6 895 519.9 898.3 520.1C901.7 520.3 905 520.5 908.3 520.8C911.6 521 915 521.2 918.3 521.4C921.6 521.6 924.9 521.7 928.3 521.9C931.6 522.1 934.9 522.3 938.3 522.4C941.6 522.6 944.9 522.7 948.3 522.9C951.6 523 954.9 523.1 958.2 523.2C961.6 523.4 964.9 523.5 968.2 523.6C971.6 523.7 974.9 523.8 978.2 523.9C981.6 524 984.9 524.1 988.2 524.1C991.6 524.2 994.9 524.3 998.2 524.3C1001.6 524.4 1004.9 524.4 1008.3 524.5C1011.6 524.5 1014.9 524.5 1018.3 524.6C1021.6 524.6 1024.9 524.6 1028.3 524.6C1031.6 524.6 1034.9 524.6 1038.3 524.6C1041.6 524.6 1045 524.6 1048.3 524.6C1051.6 524.5 1055 524.5 1058.3 524.5C1061.6 524.4 1065 524.4 1068.3 524.3C1071.7 524.3 1075 524.2 1078.3 524.2C1081.7 524.1 1085 524 1088.3 523.9C1091.7 523.9 1095 523.8 1098.4 523.7C1101.7 523.6 1105 523.5 1108.4 523.4C1111.7 523.3 1115 523.1 1118.4 523C1121.7 522.9 1125.1 522.8 1128.4 522.6C1131.7 522.5 1135.1 522.3 1138.4 522.2C1141.8 522 1145.1 521.9 1148.4 521.7C1151.8 521.6 1155.1 521.4 1158.4 521.2C1161.8 521 1165.1 520.8 1168.4 520.7C1171.8 520.5 1175.1 520.3 1178.5 520.1C1181.8 519.9 1185.1 519.6 1188.5 519.4C1191.8 519.2 1195.1 519 1198.5 518.7C1201.8 518.5 1205.1 518.3 1208.5 518C1211.8 517.8 1215.1 517.5 1218.5 517.3C1221.8 517 1225.1 516.7 1228.5 516.4C1231.8 516.2 1235.1 515.9 1238.4 515.6C1241.8 515.3 1245.1 515 1248.4 514.7C1251.8 514.4 1255.1 514.1 1258.4 513.7C1261.7 513.4 1265.1 513.1 1268.4 512.7C1271.7 512.4 1275 512 1278.3 511.7C1281.7 511.3 1285 510.9 1288.3 510.5C1291.6 510.2 1294.9 509.8 1298.2 509.4C1301.6 509 1304.9 508.6 1308.2 508.2C1311.5 507.7 1314.8 507.3 1318.1 506.9C1321.4 506.4 1324.7 506 1328 505.5C1331.3 505.1 1334.6 504.6 1337.9 504.2C1341.2 503.7 1344.5 503.2 1347.8 502.7C1351.1 502.2 1354.4 501.7 1357.7 501.2C1361 500.7 1364.3 500.1 1367.6 499.6C1370.9 499.1 1374.2 498.5 1377.5 498C1380.8 497.4 1384.1 496.8 1387.3 496.3C1390.6 495.7 1393.9 495.1 1397.2 494.5C1400.5 493.9 1403.7 493.3 1407 492.7C1410.3 492 1413.5 491.4 1416.8 490.8C1420.1 490.1 1423.4 489.5 1426.6 488.8C1429.9 488.1 1433.1 487.4 1436.4 486.8C1439.7 486.1 1442.9 485.4 1446.2 484.6C1449.4 483.9 1452.7 483.2 1455.9 482.5C1459.2 481.7 1462.4 481 1465.7 480.2C1468.9 479.5 1472.1 478.7 1475.4 477.9C1478.6 477.1 1481.9 476.4 1485.1 475.6C1488.3 474.8 1491.6 473.9 1494.8 473.1C1498 472.3 1501.3 471.5 1504.5 470.6C1507.7 469.8 1510.9 469 1514.1 468.1C1517.4 467.2 1520.6 466.4 1523.8 465.5C1527 464.6 1530.2 463.7 1533.4 462.8C1536.7 461.9 1539.9 461 1543.1 460.1C1546.3 459.2 1549.5 458.3 1552.7 457.4C1555.9 456.4 1559.1 455.5 1562.3 454.6C1565.5 453.6 1568.7 452.7 1571.9 451.7C1575.1 450.7 1578.3 449.8 1581.5 448.8C1584.7 447.8 1587.9 446.8 1591 445.8C1594.2 444.8 1597.4 443.8 1600.6 442.8C1603.8 441.8 1607 440.8 1610.1 439.8C1613.3 438.8 1616.5 437.8 1619.7 436.7C1622.9 435.7 1626 434.6 1629.2 433.6C1632.4 432.6 1635.5 431.5 1638.7 430.4C1641.9 429.4 1645 428.3 1648.2 427.2C1651.4 426.2 1654.5 425.1 1657.7 424C1660.9 422.9 1664 421.8 1667.2 420.8C1670.3 419.7 1673.5 418.6 1676.7 417.5C1679.8 416.4 1683 415.2 1686.1 414.1C1689.3 413 1692.4 411.9 1695.6 410.8C1698.7 409.6 1701.9 408.5 1705 407.4C1708.2 406.3 1711.3 405.1 1714.4 404C1717.6 402.8 1720.7 401.7 1723.9 400.5C1727 399.4 1730.1 398.2 1733.3 397.1C1736.4 395.9 1739.6 394.8 1742.7 393.6C1745.8 392.4 1749 391.3 1752.1 390.1C1755.2 388.9 1758.4 387.8 1761.5 386.6C1764.6 385.4 1767.7 384.2 1770.9 383.1C1774 381.9 1777.1 380.7 1780.2 379.5C1783.4 378.3 1786.5 377.1 1789.6 375.9C1792.7 374.8 1795.8 373.6 1799 372.4C1802.1 371.2 1805.2 370 1808.3 368.8C1811.4 367.6 1814.5 366.4 1817.7 365.2C1820.8 364 1823.9 362.8 1827 361.6C1830.1 360.4 1833.2 359.2 1836.3 358C1839.4 356.8 1842.6 355.6 1845.7 354.4C1848.8 353.2 1851.9 352 1855 350.7C1858.1 349.5 1861.2 348.3 1864.3 347.1C1867.4 345.9 1870.5 344.7 1873.6 343.5C1876.7 342.3 1879.8 341.1 1882.9 339.9C1886 338.7 1889.1 337.5 1892.2 336.3C1895.3 335.1 1898.4 333.9 1901.5 332.7C1904.6 331.5 1907.7 330.3 1910.8 329.1C1913.9 327.8 1918.5 326.1 1920.1 325.5" stroke-width="1.21"/>
<path d="M546.3 337C547 338.5 549.2 343.3 550.8 346.4C552.4 349.5 554 352.5 555.7 355.5C557.4 358.4 559.2 361.3 561.1 364.2C562.9 367 564.8 369.8 566.8 372.5C568.7 375.2 570.8 377.9 572.8 380.5C574.9 383.1 577.1 385.6 579.3 388.1C581.5 390.6 583.7 393 586 395.4C588.3 397.8 590.6 400.1 593 402.4C595.4 404.6 597.9 406.9 600.4 409C602.9 411.2 605.4 413.3 608 415.4C610.6 417.4 613.2 419.4 615.8 421.4C618.5 423.3 621.2 425.2 623.9 427.1C626.7 429 629.4 430.8 632.2 432.6C635.1 434.3 637.9 436 640.8 437.7C643.6 439.4 646.5 441 649.5 442.6C652.4 444.2 655.3 445.8 658.3 447.3C661.3 448.8 664.3 450.2 667.3 451.7C670.4 453.1 673.4 454.5 676.5 455.8C679.6 457.1 682.7 458.4 685.8 459.7C688.9 461 692 462.2 695.1 463.4C698.3 464.6 701.4 465.8 704.6 466.9C707.7 468 710.9 469.1 714.1 470.2C717.3 471.2 720.5 472.2 723.7 473.2C726.9 474.2 730.1 475.2 733.3 476.1C736.5 477.1 739.7 478 743 478.8C746.2 479.7 749.5 480.6 752.7 481.4C755.9 482.2 759.2 483 762.5 483.7C765.7 484.5 769 485.2 772.3 486C775.5 486.7 778.8 487.4 782.1 488C785.4 488.7 788.7 489.3 792 490C795.3 490.6 798.6 491.2 801.9 491.8C805.2 492.3 808.5 492.9 811.8 493.4C815.1 494 818.4 494.5 821.7 495C825 495.5 828.3 496 831.6 496.5C835 496.9 838.3 497.4 841.6 497.8C844.9 498.3 848.2 498.7 851.5 499.1C854.9 499.5 858.2 499.9 861.5 500.3C864.8 500.7 868.1 501 871.4 501.4C874.8 501.8 878.1 502.1 881.4 502.4C884.7 502.8 888 503.1 891.4 503.4C894.7 503.7 898 504 901.3 504.3C904.7 504.5 908 504.8 911.3 505.1C914.6 505.3 917.9 505.6 921.3 505.8C924.6 506 927.9 506.3 931.2 506.5C934.6 506.7 937.9 506.9 941.2 507.1C944.6 507.3 947.9 507.5 951.2 507.6C954.5 507.8 957.9 508 961.2 508.1C964.5 508.3 967.9 508.4 971.2 508.5C974.5 508.7 977.8 508.8 981.2 508.9C984.5 509 987.8 509.1 991.2 509.2C994.5 509.3 997.9 509.4 1001.2 509.5C1004.5 509.6 1007.9 509.7 1011.2 509.7C1014.5 509.8 1017.9 509.8 1021.2 509.9C1024.5 509.9 1027.9 510 1031.2 510C1034.6 510 1037.9 510 1041.2 510C1044.6 510 1047.9 510 1051.3 510C1054.6 510 1057.9 510 1061.3 510C1064.6 509.9 1068 509.9 1071.3 509.9C1074.6 509.8 1078 509.8 1081.3 509.7C1084.7 509.6 1088 509.6 1091.4 509.5C1094.7 509.4 1098 509.3 1101.4 509.2C1104.7 509.1 1108.1 509 1111.4 508.9C1114.7 508.7 1118.1 508.6 1121.4 508.5C1124.8 508.3 1128.1 508.2 1131.4 508C1134.8 507.9 1138.1 507.7 1141.5 507.5C1144.8 507.4 1148.1 507.2 1151.5 507C1154.8 506.8 1158.1 506.6 1161.5 506.4C1164.8 506.1 1168.2 505.9 1171.5 505.7C1174.8 505.4 1178.2 505.2 1181.5 505C1184.8 504.7 1188.2 504.4 1191.5 504.2C1194.8 503.9 1198.2 503.6 1201.5 503.3C1204.8 503 1208.2 502.7 1211.5 502.4C1214.8 502.1 1218.1 501.8 1221.5 501.5C1224.8 501.1 1228.1 500.8 1231.4 500.4C1234.8 500.1 1238.1 499.7 1241.4 499.4C1244.7 499 1248.1 498.6 1251.4 498.2C1254.7 497.8 1258 497.4 1261.3 497C1264.7 496.6 1268 496.2 1271.3 495.8C1274.6 495.4 1277.9 494.9 1281.2 494.5C1284.5 494 1287.9 493.6 1291.2 493.1C1294.5 492.6 1297.8 492.2 1301.1 491.7C1304.4 491.2 1307.7 490.7 1311 490.2C1314.3 489.7 1317.6 489.1 1320.9 488.6C1324.2 488.1 1327.5 487.6 1330.8 487C1334.1 486.5 1337.4 485.9 1340.7 485.3C1344 484.8 1347.3 484.2 1350.5 483.6C1353.8 483 1357.1 482.4 1360.4 481.8C1363.7 481.2 1367 480.6 1370.3 480C1373.5 479.3 1376.8 478.7 1380.1 478C1383.4 477.4 1386.6 476.7 1389.9 476.1C1393.2 475.4 1396.4 474.7 1399.7 474C1403 473.3 1406.2 472.6 1409.5 471.9C1412.8 471.2 1416 470.5 1419.3 469.8C1422.5 469 1425.8 468.3 1429 467.5C1432.3 466.8 1435.5 466 1438.8 465.2C1442 464.5 1445.3 463.7 1448.5 462.9C1451.8 462.1 1455 461.3 1458.2 460.5C1461.5 459.7 1464.7 458.8 1467.9 458C1471.2 457.2 1474.4 456.3 1477.6 455.5C1480.9 454.6 1484.1 453.8 1487.3 452.9C1490.5 452 1493.7 451.2 1497 450.3C1500.2 449.4 1503.4 448.5 1506.6 447.6C1509.8 446.7 1513 445.8 1516.2 444.8C1519.4 443.9 1522.6 443 1525.8 442C1529.1 441.1 1532.3 440.2 1535.4 439.2C1538.6 438.2 1541.8 437.3 1545 436.3C1548.2 435.3 1551.4 434.4 1554.6 433.4C1557.8 432.4 1561 431.4 1564.2 430.4C1567.4 429.4 1570.5 428.4 1573.7 427.3C1576.9 426.3 1580.1 425.3 1583.3 424.3C1586.4 423.2 1589.6 422.2 1592.8 421.1C1596 420.1 1599.1 419 1602.3 418C1605.5 416.9 1608.6 415.9 1611.8 414.8C1615 413.7 1618.1 412.6 1621.3 411.5C1624.4 410.5 1627.6 409.4 1630.8 408.3C1633.9 407.2 1637.1 406.1 1640.2 405C1643.4 403.8 1646.5 402.7 1649.7 401.6C1652.8 400.5 1656 399.4 1659.1 398.2C1662.3 397.1 1665.4 395.9 1668.5 394.8C1671.7 393.7 1674.8 392.5 1678 391.4C1681.1 390.2 1684.2 389 1687.4 387.9C1690.5 386.7 1693.6 385.5 1696.8 384.4C1699.9 383.2 1703 382 1706.1 380.8C1709.3 379.6 1712.4 378.5 1715.5 377.3C1718.6 376.1 1721.8 374.9 1724.9 373.7C1728 372.5 1731.1 371.3 1734.2 370.1C1737.3 368.8 1740.5 367.6 1743.6 366.4C1746.7 365.2 1749.8 364 1752.9 362.8C1756 361.5 1759.1 360.3 1762.2 359.1C1765.3 357.8 1768.4 356.6 1771.5 355.4C1774.6 354.1 1777.8 352.9 1780.9 351.7C1784 350.4 1787.1 349.2 1790.1 347.9C1793.2 346.7 1796.3 345.4 1799.4 344.2C1802.5 342.9 1805.6 341.7 1808.7 340.4C1811.8 339.2 1814.9 337.9 1818 336.6C1821.1 335.4 1824.2 334.1 1827.2 332.8C1830.3 331.6 1833.4 330.3 1836.5 329C1839.6 327.8 1844.2 325.9 1845.7 325.2" stroke-width="1.21"/>
<path d="M645.8 339.2C646.9 340.5 650.2 344.4 652.6 346.8C654.9 349.2 657.4 351.5 659.8 353.7C662.3 356 664.9 358.1 667.5 360.2C670.1 362.4 672.7 364.4 675.4 366.4C678 368.5 680.7 370.5 683.4 372.5C686.1 374.5 688.8 376.4 691.5 378.4C694.2 380.4 696.9 382.4 699.5 384.5C702.2 386.5 704.8 388.6 707.4 390.7C710 392.8 712.6 395 715.2 397.1C717.8 399.2 720.4 401.3 723.1 403.3C725.8 405.3 728.5 407.3 731.3 409.1C734.1 411 736.9 412.8 739.7 414.6C742.6 416.4 745.5 418.1 748.4 419.7C751.3 421.4 754.2 423 757.2 424.6C760.1 426.1 763.1 427.6 766.1 429.1C769.1 430.6 772.2 432 775.2 433.4C778.3 434.7 781.3 436.1 784.4 437.3C787.5 438.6 790.6 439.9 793.8 441.1C796.9 442.3 800 443.4 803.2 444.5C806.3 445.7 809.5 446.7 812.7 447.8C815.9 448.8 819.1 449.8 822.3 450.8C825.5 451.8 828.8 452.7 832 453.6C835.2 454.5 838.5 455.4 841.8 456.2C845 457 848.3 457.8 851.6 458.6C854.8 459.4 858.1 460.1 861.4 460.8C864.7 461.5 868 462.2 871.3 462.9C874.6 463.6 877.9 464.2 881.2 464.8C884.6 465.4 887.9 466 891.2 466.6C894.5 467.1 897.8 467.7 901.1 468.2C904.5 468.7 907.8 469.2 911.1 469.7C914.4 470.1 917.7 470.6 921.1 471C924.4 471.5 927.7 471.9 931.1 472.3C934.4 472.7 937.7 473 941.1 473.4C944.4 473.7 947.7 474.1 951.1 474.4C954.4 474.7 957.7 475 961.1 475.3C964.4 475.5 967.7 475.8 971.1 476C974.4 476.3 977.8 476.5 981.1 476.7C984.5 476.9 987.8 477.1 991.1 477.3C994.5 477.5 997.8 477.6 1001.2 477.8C1004.5 477.9 1007.9 478 1011.2 478.1C1014.6 478.3 1017.9 478.4 1021.3 478.4C1024.6 478.5 1028 478.6 1031.3 478.7C1034.7 478.7 1038 478.8 1041.4 478.8C1044.7 478.8 1048.1 478.8 1051.4 478.8C1054.8 478.8 1058.1 478.8 1061.5 478.8C1064.8 478.8 1068.2 478.8 1071.5 478.7C1074.9 478.7 1078.2 478.7 1081.6 478.6C1084.9 478.5 1088.3 478.5 1091.7 478.4C1095 478.3 1098.4 478.2 1101.7 478.1C1105.1 478 1108.4 477.9 1111.8 477.8C1115.1 477.6 1118.5 477.5 1121.8 477.3C1125.2 477.2 1128.5 477 1131.9 476.9C1135.2 476.7 1138.6 476.5 1141.9 476.3C1145.3 476.1 1148.6 475.9 1152 475.7C1155.3 475.5 1158.7 475.3 1162 475.1C1165.4 474.8 1168.7 474.6 1172.1 474.3C1175.4 474.1 1178.8 473.8 1182.1 473.5C1185.5 473.3 1188.8 473 1192.1 472.7C1195.5 472.4 1198.8 472.1 1202.2 471.8C1205.5 471.5 1208.9 471.1 1212.2 470.8C1215.5 470.5 1218.9 470.1 1222.2 469.8C1225.5 469.4 1228.9 469 1232.2 468.6C1235.5 468.3 1238.9 467.9 1242.2 467.5C1245.5 467.1 1248.9 466.7 1252.2 466.3C1255.5 465.8 1258.9 465.4 1262.2 465C1265.5 464.5 1268.9 464.1 1272.2 463.6C1275.5 463.2 1278.8 462.7 1282.1 462.2C1285.5 461.7 1288.8 461.2 1292.1 460.7C1295.4 460.2 1298.7 459.7 1302.1 459.2C1305.4 458.7 1308.7 458.2 1312 457.6C1315.3 457.1 1318.6 456.5 1321.9 456C1325.2 455.4 1328.5 454.8 1331.8 454.2C1335.1 453.7 1338.4 453.1 1341.7 452.5C1345 451.9 1348.3 451.3 1351.6 450.6C1354.9 450 1358.2 449.4 1361.5 448.7C1364.8 448.1 1368.1 447.5 1371.4 446.8C1374.7 446.1 1377.9 445.4 1381.2 444.7C1384.5 444.1 1387.8 443.4 1391 442.6C1394.3 441.9 1397.6 441.2 1400.9 440.4C1404.1 439.7 1407.4 438.9 1410.6 438.2C1413.9 437.4 1417.2 436.6 1420.4 435.8C1423.7 435 1426.9 434.2 1430.2 433.4C1433.4 432.5 1436.6 431.7 1439.9 430.8C1443.1 430 1446.3 429.1 1449.6 428.2C1452.8 427.3 1456 426.4 1459.3 425.5C1462.5 424.6 1465.7 423.7 1468.9 422.7C1472.1 421.8 1475.3 420.8 1478.6 419.9C1481.8 418.9 1485 417.9 1488.2 417C1491.4 416 1494.6 415 1497.8 414C1501 413 1504.2 411.9 1507.4 410.9C1510.6 409.9 1513.8 408.8 1516.9 407.8C1520.1 406.8 1523.3 405.7 1526.5 404.6C1529.7 403.6 1532.9 402.5 1536 401.4C1539.2 400.3 1542.4 399.3 1545.6 398.2C1548.7 397.1 1551.9 396 1555.1 394.9C1558.3 393.7 1561.4 392.6 1564.6 391.5C1567.8 390.4 1570.9 389.3 1574.1 388.1C1577.3 387 1580.4 385.9 1583.6 384.7C1586.7 383.6 1589.9 382.4 1593.1 381.3C1596.2 380.1 1599.4 379 1602.5 377.8C1605.7 376.7 1608.8 375.5 1612 374.4C1615.1 373.2 1618.3 372 1621.4 370.9C1624.6 369.7 1627.7 368.5 1630.9 367.4C1634 366.2 1637.2 365 1640.3 363.9C1643.5 362.7 1646.6 361.5 1649.8 360.4C1652.9 359.2 1656.1 358 1659.2 356.9C1662.4 355.7 1665.5 354.5 1668.7 353.4C1671.8 352.2 1675 351 1678.1 349.9C1681.2 348.7 1684.4 347.5 1687.5 346.4C1690.7 345.2 1693.8 344.1 1697 342.9C1700.1 341.8 1703.3 340.6 1706.4 339.5C1709.6 338.3 1712.7 337.2 1715.9 336.1C1719 334.9 1722.2 333.8 1725.3 332.7C1728.5 331.6 1731.6 330.4 1734.8 329.3C1737.9 328.2 1742.7 326.6 1744.2 326" stroke-width="1.21"/>
<path d="M668 339.5C669.7 339.6 674.6 340 677.9 340.3C681.2 340.5 684.5 340.8 687.8 341.1C691.1 341.3 694.5 341.6 697.8 341.9C701.2 342.2 704.5 342.5 707.8 342.8C711.2 343.2 714.5 343.5 717.9 343.9C721.2 344.3 724.6 344.7 727.9 345.2C731.2 345.6 734.5 346.1 737.9 346.6C741.2 347.2 744.5 347.8 747.7 348.4C751 349 754.3 349.7 757.5 350.5C760.8 351.3 764 352.1 767.2 352.9C770.5 353.8 773.7 354.7 776.8 355.6C780 356.6 783.2 357.6 786.4 358.6C789.6 359.6 792.7 360.6 795.9 361.6C799 362.7 802.2 363.8 805.3 364.8C808.5 365.9 811.6 367 814.8 368.1C817.9 369.2 821.1 370.3 824.2 371.3C827.4 372.4 830.6 373.5 833.7 374.5C836.9 375.6 840.1 376.6 843.2 377.6C846.4 378.6 849.6 379.6 852.8 380.6C856 381.6 859.2 382.6 862.4 383.5C865.6 384.5 868.8 385.4 872 386.3C875.2 387.2 878.4 388.1 881.6 389C884.8 389.9 888 390.8 891.3 391.6C894.5 392.5 897.7 393.3 901 394.1C904.2 395 907.4 395.8 910.7 396.6C913.9 397.3 917.2 398.1 920.4 398.9C923.7 399.6 927 400.4 930.2 401.1C933.5 401.8 936.7 402.5 940 403.2C943.3 403.9 946.5 404.6 949.8 405.2C953.1 405.9 956.4 406.5 959.7 407.2C962.9 407.8 966.2 408.4 969.5 409C972.8 409.6 976.1 410.2 979.4 410.7C982.7 411.3 986 411.8 989.3 412.3C992.6 412.9 995.9 413.4 999.2 413.9C1002.5 414.4 1005.8 414.8 1009.1 415.3C1012.4 415.7 1015.7 416.2 1019 416.6C1022.4 417 1025.7 417.4 1029 417.8C1032.3 418.2 1035.6 418.6 1039 419C1042.3 419.3 1045.6 419.7 1048.9 420C1052.2 420.3 1055.6 420.6 1058.9 420.9C1062.2 421.2 1065.6 421.5 1068.9 421.7C1072.2 422 1075.5 422.2 1078.9 422.4C1082.2 422.7 1085.5 422.9 1088.9 423C1092.2 423.2 1095.5 423.4 1098.9 423.6C1102.2 423.7 1105.6 423.8 1108.9 424C1112.2 424.1 1115.6 424.2 1118.9 424.3C1122.2 424.4 1125.6 424.4 1128.9 424.5C1132.2 424.5 1135.6 424.6 1138.9 424.6C1142.3 424.6 1145.6 424.6 1148.9 424.6C1152.3 424.5 1155.6 424.5 1158.9 424.4C1162.3 424.4 1165.6 424.3 1168.9 424.2C1172.3 424.1 1175.6 424 1178.9 423.9C1182.3 423.8 1185.6 423.6 1188.9 423.5C1192.3 423.3 1195.6 423.1 1198.9 423C1202.2 422.8 1205.6 422.6 1208.9 422.3C1212.2 422.1 1215.6 421.9 1218.9 421.6C1222.2 421.4 1225.5 421.1 1228.9 420.8C1232.2 420.5 1235.5 420.2 1238.8 419.9C1242.1 419.6 1245.5 419.2 1248.8 418.9C1252.1 418.5 1255.4 418.2 1258.7 417.8C1262 417.4 1265.3 417 1268.7 416.6C1272 416.2 1275.3 415.8 1278.6 415.3C1281.9 414.9 1285.2 414.5 1288.5 414C1291.8 413.5 1295.1 413 1298.4 412.5C1301.7 412 1305 411.5 1308.3 411C1311.6 410.5 1314.9 410 1318.2 409.4C1321.5 408.9 1324.8 408.3 1328.1 407.7C1331.4 407.1 1334.6 406.5 1337.9 405.9C1341.2 405.3 1344.5 404.7 1347.8 404.1C1351 403.5 1354.3 402.8 1357.6 402.2C1360.9 401.5 1364.2 400.8 1367.4 400.2C1370.7 399.5 1374 398.8 1377.2 398.1C1380.5 397.4 1383.8 396.7 1387 395.9C1390.3 395.2 1393.5 394.5 1396.8 393.7C1400 393 1403.3 392.2 1406.5 391.4C1409.8 390.7 1413 389.9 1416.3 389.1C1419.5 388.3 1422.8 387.5 1426 386.7C1429.2 385.8 1432.5 385 1435.7 384.2C1438.9 383.3 1442.2 382.5 1445.4 381.6C1448.6 380.8 1451.8 379.9 1455.1 379C1458.3 378.2 1461.5 377.3 1464.7 376.4C1467.9 375.5 1471.1 374.6 1474.4 373.7C1477.6 372.8 1480.8 371.9 1484 371C1487.2 370.1 1490.4 369.2 1493.6 368.3C1496.8 367.4 1500 366.4 1503.2 365.5C1506.5 364.6 1509.7 363.7 1512.9 362.8C1516.1 361.8 1519.3 360.9 1522.5 360C1525.7 359.1 1528.9 358.2 1532.1 357.2C1535.3 356.3 1538.5 355.4 1541.7 354.5C1544.9 353.6 1548.2 352.7 1551.4 351.7C1554.6 350.8 1557.8 349.9 1561 349C1564.2 348.1 1567.4 347.2 1570.6 346.4C1573.9 345.5 1577.1 344.6 1580.3 343.7C1583.5 342.8 1586.7 342 1590 341.1C1593.2 340.3 1596.4 339.4 1599.6 338.6C1602.9 337.7 1606.1 336.9 1609.3 336.1C1612.6 335.2 1615.8 334.5 1619 333.5C1622.2 332.5 1625.4 331.6 1628.5 330.3C1631.6 329.1 1636.1 326.8 1637.6 326.1" stroke-width="1.21"/>
<path d="M670 339.6C671.7 339.7 676.7 339.8 680.1 339.8C683.4 339.9 686.8 340 690.1 340C693.5 340.1 696.8 340.2 700.2 340.3C703.5 340.4 706.9 340.5 710.2 340.6C713.6 340.7 716.9 340.8 720.3 340.9C723.6 341 727 341.1 730.3 341.2C733.7 341.3 737 341.5 740.4 341.6C743.7 341.7 747.1 341.9 750.4 342C753.8 342.1 757.1 342.3 760.5 342.4C763.8 342.5 767.2 342.7 770.5 342.8C773.9 343 777.2 343.1 780.6 343.3C783.9 343.5 787.3 343.6 790.6 343.8C793.9 344 797.3 344.1 800.6 344.3C804 344.5 807.3 344.7 810.7 344.8C814 345 817.4 345.2 820.7 345.4C824.1 345.6 827.4 345.8 830.8 346C834.1 346.2 837.4 346.4 840.8 346.6C844.1 346.8 847.5 347 850.8 347.2C854.2 347.4 857.5 347.6 860.8 347.8C864.2 348 867.5 348.2 870.9 348.4C874.2 348.7 877.6 348.9 880.9 349.1C884.3 349.3 887.6 349.5 890.9 349.8C894.3 350 897.6 350.2 901 350.5C904.3 350.7 907.7 350.9 911 351.2C914.3 351.4 917.7 351.7 921 351.9C924.4 352.1 927.7 352.4 931.1 352.6C934.4 352.9 937.7 353.1 941.1 353.4C944.4 353.6 947.8 353.9 951.1 354.1C954.4 354.4 957.8 354.6 961.1 354.9C964.5 355.2 967.8 355.4 971.2 355.7C974.5 355.9 977.8 356.2 981.2 356.5C984.5 356.7 987.9 357 991.2 357.3C994.6 357.5 997.9 357.8 1001.2 358C1004.6 358.3 1007.9 358.6 1011.3 358.8C1014.6 359.1 1018 359.4 1021.3 359.6C1024.6 359.9 1028 360.2 1031.3 360.4C1034.7 360.7 1038 360.9 1041.4 361.2C1044.7 361.4 1048 361.7 1051.4 361.9C1054.7 362.2 1058.1 362.4 1061.4 362.7C1064.8 362.9 1068.1 363.1 1071.4 363.4C1074.8 363.6 1078.1 363.8 1081.5 364.1C1084.8 364.3 1088.2 364.5 1091.5 364.7C1094.9 364.9 1098.2 365.1 1101.5 365.3C1104.9 365.5 1108.2 365.7 1111.6 365.9C1114.9 366.1 1118.3 366.3 1121.6 366.4C1125 366.6 1128.3 366.8 1131.7 366.9C1135 367.1 1138.4 367.2 1141.7 367.3C1145 367.5 1148.4 367.6 1151.7 367.7C1155.1 367.8 1158.4 367.9 1161.8 368C1165.1 368.1 1168.5 368.2 1171.8 368.3C1175.2 368.3 1178.5 368.4 1181.9 368.5C1185.2 368.5 1188.6 368.5 1191.9 368.6C1195.3 368.6 1198.6 368.6 1202 368.6C1205.3 368.6 1208.7 368.6 1212 368.6C1215.4 368.5 1218.7 368.5 1222.1 368.5C1225.4 368.4 1228.8 368.3 1232.1 368.3C1235.5 368.2 1238.8 368.1 1242.2 368C1245.5 367.9 1248.9 367.8 1252.2 367.6C1255.6 367.5 1258.9 367.3 1262.3 367.2C1265.6 367 1269 366.9 1272.3 366.7C1275.7 366.5 1279 366.3 1282.4 366.1C1285.7 365.9 1289.1 365.7 1292.4 365.4C1295.8 365.2 1299.1 364.9 1302.5 364.7C1305.8 364.4 1309.1 364.1 1312.5 363.9C1315.8 363.6 1319.2 363.3 1322.5 363C1325.9 362.7 1329.2 362.3 1332.5 362C1335.9 361.7 1339.2 361.3 1342.5 361C1345.9 360.6 1349.2 360.2 1352.5 359.8C1355.9 359.4 1359.2 359.1 1362.5 358.6C1365.9 358.2 1369.2 357.8 1372.5 357.4C1375.8 356.9 1379.2 356.5 1382.5 356C1385.8 355.6 1389.1 355.1 1392.5 354.6C1395.8 354.1 1399.1 353.6 1402.4 353.1C1405.7 352.6 1409 352.1 1412.3 351.6C1415.6 351 1419 350.5 1422.3 349.9C1425.6 349.4 1428.9 348.8 1432.2 348.2C1435.5 347.6 1438.8 347.1 1442.1 346.4C1445.4 345.8 1448.6 345.2 1451.9 344.6C1455.2 344 1458.5 343.3 1461.8 342.6C1465.1 342 1468.3 341.3 1471.6 340.6C1474.9 339.9 1478.2 339.2 1481.4 338.5C1484.7 337.7 1488 337 1491.2 336.2C1494.5 335.4 1497.7 334.7 1501 333.9C1504.2 333.1 1507.5 332.2 1510.7 331.4C1513.9 330.5 1517.2 329.7 1520.4 328.8C1523.6 327.9 1528.4 326.5 1530.1 326.1" stroke-width="1.21"/>
<path d="M760 340.4C761.7 340.4 766.8 340.4 770.1 340.4C773.5 340.4 776.9 340.4 780.3 340.5C783.6 340.5 787 340.5 790.4 340.5C793.8 340.6 797.1 340.6 800.5 340.6C803.9 340.7 807.3 340.7 810.6 340.7C814 340.8 817.4 340.8 820.8 340.9C824.1 340.9 827.5 341 830.9 341C834.3 341.1 837.6 341.1 841 341.2C844.4 341.2 847.8 341.3 851.1 341.4C854.5 341.4 857.9 341.5 861.3 341.6C864.6 341.6 868 341.7 871.4 341.8C874.8 341.8 878.2 341.9 881.5 342C884.9 342 888.3 342.1 891.7 342.2C895 342.2 898.4 342.3 901.8 342.4C905.2 342.5 908.5 342.6 911.9 342.6C915.3 342.7 918.7 342.8 922.1 342.9C925.4 342.9 928.8 343 932.2 343.1C935.6 343.2 938.9 343.3 942.3 343.3C945.7 343.4 949.1 343.5 952.4 343.6C955.8 343.7 959.2 343.7 962.6 343.8C966 343.9 969.3 344 972.7 344C976.1 344.1 979.5 344.2 982.8 344.3C986.2 344.4 989.6 344.4 993 344.5C996.3 344.6 999.7 344.7 1003.1 344.7C1006.5 344.8 1009.9 344.9 1013.2 344.9C1016.6 345 1020 345.1 1023.4 345.1C1026.7 345.2 1030.1 345.3 1033.5 345.3C1036.9 345.4 1040.3 345.5 1043.6 345.5C1047 345.6 1050.4 345.6 1053.8 345.7C1057.1 345.7 1060.5 345.8 1063.9 345.8C1067.3 345.9 1070.6 345.9 1074 346C1077.4 346 1080.8 346.1 1084.2 346.1C1087.5 346.2 1090.9 346.2 1094.3 346.2C1097.7 346.3 1101 346.3 1104.4 346.3C1107.8 346.3 1111.2 346.4 1114.6 346.4C1117.9 346.4 1121.3 346.4 1124.7 346.4C1128.1 346.4 1131.4 346.4 1134.8 346.4C1138.2 346.4 1141.6 346.4 1144.9 346.4C1148.3 346.4 1151.7 346.4 1155.1 346.4C1158.5 346.4 1161.8 346.4 1165.2 346.4C1168.6 346.3 1172 346.3 1175.3 346.3C1178.7 346.2 1182.1 346.2 1185.5 346.2C1188.8 346.1 1192.2 346.1 1195.6 346C1199 346 1202.3 345.9 1205.7 345.8C1209.1 345.8 1212.5 345.7 1215.8 345.6C1219.2 345.6 1222.6 345.5 1226 345.4C1229.4 345.3 1232.7 345.2 1236.1 345.1C1239.5 345 1242.9 344.9 1246.2 344.8C1249.6 344.7 1253 344.6 1256.4 344.4C1259.7 344.3 1263.1 344.2 1266.5 344C1269.9 343.9 1273.2 343.7 1276.6 343.6C1280 343.4 1283.3 343.2 1286.7 343.1C1290.1 342.9 1293.5 342.7 1296.8 342.5C1300.2 342.3 1303.6 342.1 1306.9 341.9C1310.3 341.6 1313.7 341.4 1317 341.1C1320.4 340.9 1323.8 340.6 1327.1 340.3C1330.5 340.1 1333.8 339.8 1337.2 339.5C1340.6 339.2 1343.9 338.8 1347.3 338.5C1350.6 338.1 1354 337.8 1357.3 337.4C1360.7 337 1364 336.6 1367.4 336.2C1370.7 335.8 1374.1 335.4 1377.4 334.9C1380.8 334.5 1384.1 334 1387.4 333.5C1390.8 333.1 1394.1 332.5 1397.4 332C1400.8 331.5 1404.1 330.9 1407.4 330.4C1410.7 329.8 1414.1 329.2 1417.4 328.6C1420.7 327.9 1425.7 326.9 1427.3 326.6" stroke-width="1.21"/>
<path d="M546.2 330L546.2 337.5" stroke-width="1.1"/>
<path d="M433 331.3L437 338" stroke-width="1.1"/>
<path d="M801.7 339.7C806.4 340 815.9 340.8 830 341.2C844.1 341.7 862 342.1 886.5 342.5C911 342.9 946.7 343.2 976.8 343.8C1006.8 344.2 1037 345.1 1067 345.5C1097 345.9 1126.8 346.3 1156.8 346.2C1186.7 346.2 1216.7 345.6 1246.8 345C1276.8 344.4 1314.8 343.2 1337 342.7C1359.2 342.2 1335 342.9 1380 342C1425 341.1 1536.8 338.7 1606.8 337.5C1676.8 336.3 1741.7 335.4 1800 334.6C1858.3 333.8 1930.6 332.9 1956.7 332.5" stroke-width="1.32" stroke-dasharray="12 6"/>
<path d="M355.5 377.1L1878 371" stroke-width="1.1" stroke-dasharray="585 4 5 4 430 4 5 4 2000"/>
<path d="M366 423L1762 417.5" stroke-width="1.1" stroke-dasharray="536 4 5 4 4 4 372 4 5 4 2000"/>
<path d="M521 468.3L1607 464" stroke-width="1.1" stroke-dasharray="232 4 4 4 4 4 512 4 4 4 4 4 2000"/>
<path d="M775 513.8L1292 511.7" stroke-width="1.1" stroke-dasharray="410 4 4 4 4 4 2000"/>
<path d="M436 330.7L436.5 449.7" stroke-width="1.26"/>
<path d="M526.1 339.2L526.6 471.8" stroke-width="1.26"/>
<path d="M616.2 339.2L616.8 491.2" stroke-width="1.26"/>
<path d="M706.2 329.6L706.9 506.9" stroke-width="1.26"/>
<path d="M796.3 341.7L797 518.3" stroke-width="1.26"/>
<path d="M886.3 342.5L887.1 526.2" stroke-width="1.26"/>
<path d="M976.4 343.9L977.1 530.3" stroke-width="1.26"/>
<path d="M1066.4 345.5L1067.2 531.3" stroke-width="1.26"/>
<path d="M1156.5 346.2L1157.2 528.8" stroke-width="1.26"/>
<path d="M1246.5 345L1247.3 522.8" stroke-width="1.26"/>
<path d="M1336.5 327.1L1337.3 512.8" stroke-width="1.26"/>
<path d="M1426.6 326.7L1427.3 500.8" stroke-width="1.26"/>
<path d="M1516.6 326.3L1517.3 485.7" stroke-width="1.26"/>
<path d="M1606.7 326L1607.2 465.1" stroke-width="1.26"/>
<path d="M1696.7 325.6L1697.2 439.6" stroke-width="1.26"/>
<path d="M1786.8 325.3L1787.1 408.6" stroke-width="1.26"/>
<path d="M1876.8 324.9L1877 371.7" stroke-width="1.26"/>
<path d="M590 330.2L590 338.7L772 337.6L779 336.9L780 335.5L780 329.4" stroke-width="1.32"/>
<path d="M590 338.9L770 338" stroke-width="1.32"/>
<path d="M603.3 330.1L603.3 338.6" stroke-width="1.32"/>
<path d="M627.5 330.1L627.5 338.6" stroke-width="1.32"/>
<path d="M674.2 330.1L674.2 338.6" stroke-width="1.32"/>
<circle cx="584.3" cy="331.2" r="2.6" fill="#111"/>
<path d="M577 330.3A7.6 7.6 0 0 0 584.5 338.8" stroke-width="1"/>
<path d="M588 332.5L588 339.3" stroke-width="1.1"/>
<path d="M1965 325.2L1981.7 325.1L1981.7 332L1975.5 332C1974 329.5 1969 327.5 1962 326.8" stroke-width="1.1"/>
<path d="M887.2 592.3L888.9 1017.5" stroke-width="1.22" stroke-dasharray="300 4 5 4 60 4 5 4 24 4 5 4 200"/>
<path d="M888.9 1017.5L889 1047" stroke-width="1.22" stroke-dasharray="10 4 2 5 10"/>
<path d="M664.8 781.4L1111.4 779.6" stroke-width="1.34"/>
<path d="M686.2 706.2L795.4 705.8" stroke-width="1.22"/>
<path d="M890.5 705.4L1088.5 704.6" stroke-width="1.22"/>
<path d="M693.5 743.7L1082 742.2" stroke-width="1.22"/>
<path d="M739.8 818.6L879.3 818.1" stroke-width="1.22"/>
<path d="M890.5 818L1036.3 817.5" stroke-width="1.22"/>
<path d="M796.5 856L879.3 855.6" stroke-width="1.22"/>
<path d="M890.5 855.6L981.6 855.2" stroke-width="1.22"/>
<path d="M852.3 893.3L879.3 893.2" stroke-width="1.22"/>
<path d="M890.5 893.1L927.8 893" stroke-width="1.22"/>
<path d="M871.4 930.8L880 930.7" stroke-width="1.22"/>
<path d="M890.5 930.7L906.5 930.6" stroke-width="1.22"/>
<path d="M841.4 714L842.1 883.3" stroke-width="1.22" stroke-dasharray="80 3 5 3 5 3 200"/>
<path d="M795 694.5L795.7 855.4" stroke-width="1.22" stroke-dasharray="75 3 5 3 5 3 200"/>
<path d="M748.7 693L749.3 826.7" stroke-width="1.22" stroke-dasharray="68 3 5 3 5 3 200"/>
<path d="M933.7 638.5L934.7 887.4" stroke-width="1.22" stroke-dasharray="64 3 4 3 4 3 300"/>
<path d="M980 646.1L980.9 856" stroke-width="1.22" stroke-dasharray="30 3 4 3 4 3 300"/>
<path d="M1026.4 655.3L1027 823" stroke-width="1.22" stroke-dasharray="52 3 4 3 4 3 300"/>
<path d="M1072.7 669L1073.1 765" stroke-width="1.22" stroke-dasharray="30 3 5 3 5 3 60"/>
<path d="M684.8 684.8C686.8 685.3 692.7 686.7 696.7 687.5C700.7 688.3 704.8 688.9 708.8 689.5C712.8 690.1 716.9 690.6 720.9 691.1C725 691.5 729 691.9 733.1 692.2C737.1 692.6 741.2 692.8 745.3 693C749.4 693.3 753.4 693.4 757.5 693.6C761.6 693.7 765.7 693.9 769.8 694C773.8 694.1 777.9 694.2 782 694.3C786.1 694.4 792.2 694.5 794.2 694.5" stroke-width="1.59"/>
<path d="M794.2 694.5C794.3 695.3 794.4 698 794.8 699.5C795.1 701 795.5 702.5 796.3 703.8C797.1 705.1 798.1 706.4 799.5 707.5C800.9 708.6 802.8 709.8 804.9 710.6C807 711.4 809.2 711.7 812 712.1C814.8 712.5 815 712.6 821.5 712.9C828 713.2 839.8 713.9 850.8 714.1C861.8 714.3 881.4 714.1 887.5 714.1" stroke-width="1.59"/>
<path d="M684.8 684.6C684.8 685.8 685 689.3 685.1 691.7C685.2 694.1 685.4 696.4 685.5 698.8C685.7 701.2 685.9 703.5 686.1 705.9C686.4 708.3 686.6 710.6 686.9 713C687.2 715.4 687.5 717.7 687.9 720.1C688.2 722.5 688.6 724.8 689 727.2C689.4 729.5 689.9 731.9 690.4 734.2C690.9 736.5 691.4 738.9 692 741.2C692.6 743.5 693.2 745.8 693.8 748.1C694.5 750.4 695.2 752.6 696 754.9C696.7 757.2 697.5 759.4 698.4 761.6C699.2 763.8 700.1 766 701.1 768.2C702 770.4 703 772.6 704.1 774.7C705.1 776.8 706.2 778.9 707.4 781C708.6 783.1 709.8 785.1 711.1 787.1C712.4 789.1 713.7 791 715.1 792.9C716.5 794.8 718 796.7 719.5 798.5C721.1 800.3 722.7 802.1 724.3 803.8C725.9 805.5 727.6 807.2 729.3 808.9C731.1 810.5 732.8 812.1 734.6 813.7C736.4 815.3 738.2 816.8 740 818.4C741.9 819.9 743.7 821.4 745.6 822.9C747.4 824.3 749.3 825.8 751.2 827.2C753.1 828.6 755 830 757 831.4C758.9 832.8 760.9 834.2 762.8 835.5C764.8 836.8 766.8 838.2 768.7 839.5C770.7 840.8 772.7 842.1 774.7 843.3C776.8 844.6 778.8 845.8 780.8 847.1C782.9 848.3 784.9 849.5 787 850.7C789 851.9 791.1 853.1 793.2 854.3C795.3 855.5 797.4 856.7 799.5 857.8C801.5 859 803.6 860.1 805.7 861.3C807.8 862.4 810 863.6 812 864.7C814.1 865.9 816.2 867.1 818.3 868.3C820.4 869.4 822.5 870.6 824.5 871.9C826.5 873.1 828.6 874.3 830.6 875.6C832.6 876.9 834.6 878.2 836.6 879.5C838.5 880.9 840.4 882.3 842.3 883.7C844.2 885.1 846.1 886.6 847.9 888.1C849.7 889.7 851.5 891.3 853.2 892.9C854.8 894.6 856.5 896.3 858 898.1C859.5 899.8 860.9 901.7 862.2 903.6C863.5 905.5 864.7 907.5 865.8 909.6C866.8 911.7 867.7 913.9 868.5 916.1C869.3 918.4 869.9 920.7 870.3 923.2C870.8 925.6 871 929.5 871.2 930.8" stroke-width="1.34"/>
<path d="M750 824.6C751 825.2 754 827.1 755.9 828.3C757.9 829.6 759.8 830.9 761.8 832.2C763.7 833.5 765.7 834.8 767.6 836.1C769.6 837.4 771.5 838.7 773.5 840C775.4 841.3 777.4 842.6 779.4 843.8C781.3 845.1 783.3 846.3 785.3 847.5C787.3 848.7 789.3 849.9 791.4 851.1C793.4 852.2 795.5 853.3 797.6 854.4C799.7 855.4 801.8 856.4 803.9 857.4C806 858.4 808.2 859.4 810.3 860.3C812.5 861.3 814.7 862.2 816.8 863.1C819 864.1 821.1 865 823.3 865.9C825.4 866.9 827.6 867.9 829.7 868.9C831.8 869.9 833.9 870.9 836 872C838 873.1 840.1 874.2 842.1 875.4C844.1 876.6 846.1 877.8 848 879.2C850 880.5 851.8 881.9 853.6 883.4C855.4 884.9 857.1 886.5 858.6 888.1C860.2 889.8 861.7 891.6 863 893.5C864.3 895.4 865.5 897.4 866.6 899.5C867.6 901.5 868.5 903.8 869.2 906C870 908.3 870.5 910.6 871 913C871.4 915.3 871.7 918.9 871.9 920.1" stroke-width="1.34"/>
<path d="M689.7 687.6C689.7 688.8 689.9 692.3 690.1 694.7C690.2 697.1 690.4 699.4 690.6 701.8C690.8 704.1 691 706.5 691.3 708.8C691.5 711.2 691.8 713.6 692.1 715.9C692.4 718.2 692.8 720.6 693.2 722.9C693.6 725.2 694 727.6 694.4 729.9C694.9 732.2 695.4 734.5 695.9 736.8C696.5 739.1 697.1 741.4 697.7 743.6C698.3 745.9 699 748.2 699.7 750.4C700.5 752.7 701.3 754.9 702.1 757.1C702.9 759.3 703.8 761.5 704.7 763.7C705.7 765.9 706.7 768.1 707.7 770.2C708.7 772.4 709.8 774.5 710.9 776.6C712 778.7 713.1 780.8 714.3 782.8C715.5 784.9 716.8 786.9 718.1 788.9C719.4 790.8 720.8 792.7 722.2 794.6C723.7 796.4 725.2 798.2 726.8 799.9C728.4 801.6 730.1 803.2 731.8 804.8C733.5 806.4 735.3 808 737.2 809.4C739 810.9 740.9 812.3 742.8 813.7C744.7 815.1 746.7 816.4 748.7 817.7C750.7 819 752.8 820.2 754.8 821.4C756.9 822.6 759 823.8 761.1 824.9C763.2 826 765.3 827.1 767.4 828.2C769.5 829.3 771.7 830.3 773.8 831.3C775.9 832.3 778.1 833.3 780.2 834.2C782.4 835.2 784.5 836.2 786.7 837.1C788.8 838 791 838.9 793.1 839.8C795.3 840.7 797.4 841.6 799.6 842.5C801.8 843.4 804 844.3 806.2 845.2C808.3 846 810.5 846.9 812.8 847.8C815 848.7 817.2 849.6 819.4 850.5C821.7 851.4 823.9 852.2 826.1 853.2C828.4 854.1 830.6 855 832.8 856C835 857 837.2 858 839.4 859.1C841.5 860.1 843.7 861.2 845.7 862.4C847.7 863.6 849.7 864.9 851.6 866.2C853.5 867.5 855.4 868.9 857.1 870.4C858.8 871.9 860.5 873.5 862 875.2C863.5 876.9 864.9 878.7 866.2 880.6C867.4 882.6 868.6 884.6 869.6 886.7C870.5 888.9 871.4 891.1 872.1 893.5C872.7 895.8 873.2 898.2 873.6 900.7C873.9 903.1 873.9 907 874 908.3" stroke-width="1.34"/>
<path d="M698.4 689.4C698.5 690.6 698.9 694.1 699.1 696.4C699.3 698.8 699.6 701.2 699.8 703.5C700.1 705.9 700.3 708.3 700.6 710.6C700.9 713 701.2 715.4 701.5 717.8C701.8 720.1 702.2 722.5 702.6 724.9C703 727.2 703.4 729.6 703.9 731.9C704.4 734.2 704.9 736.6 705.5 738.9C706.1 741.2 706.7 743.4 707.5 745.7C708.2 747.9 709 750.2 709.8 752.4C710.7 754.6 711.6 756.7 712.7 758.9C713.7 761 714.8 763.1 715.9 765.2C717.1 767.2 718.3 769.3 719.6 771.3C720.9 773.3 722.2 775.2 723.6 777.2C725 779.1 726.4 781.1 727.9 782.9C729.3 784.8 730.9 786.7 732.4 788.5C733.9 790.4 735.5 792.2 737.1 794C738.7 795.7 740.3 797.5 741.9 799.2C743.6 800.9 745.2 802.6 747 804.1C748.8 805.7 750.6 807.1 752.5 808.4C754.4 809.8 756.4 811 758.5 812.1C760.5 813.3 762.7 814.4 764.8 815.4C766.9 816.4 769.1 817.4 771.3 818.3C773.5 819.3 775.7 820.2 777.9 821.1C780.1 822 782.3 822.9 784.6 823.7C786.8 824.6 789 825.4 791.3 826.2C793.5 827 795.8 827.8 798 828.6C800.3 829.4 802.6 830.1 804.8 830.9C807.1 831.6 809.3 832.3 811.6 833.1C813.9 833.8 816.1 834.6 818.4 835.4C820.6 836.2 822.9 836.9 825.1 837.8C827.3 838.6 829.5 839.4 831.8 840.3C834 841.2 836.2 842.2 838.3 843.2C840.5 844.2 842.7 845.2 844.8 846.3C846.9 847.4 849 848.6 851.1 849.9C853.1 851.1 855.1 852.5 857 853.9C858.8 855.3 860.6 856.8 862.3 858.5C863.9 860.1 865.5 861.8 866.9 863.6C868.2 865.5 869.5 867.4 870.5 869.5C871.5 871.6 872.3 873.8 873 876.1C873.6 878.4 874 880.9 874.4 883.4C874.7 885.8 874.8 888.4 875 890.9C875.1 893.3 875.1 895.9 875.2 898.2C875.3 900.6 875.4 903.9 875.4 905" stroke-width="1.34"/>
<path d="M710.3 690.5C710.4 691.7 710.6 695.2 710.8 697.5C711 699.9 711.3 702.2 711.6 704.6C711.9 706.9 712.2 709.2 712.6 711.6C713 713.9 713.4 716.2 713.9 718.5C714.4 720.9 714.9 723.2 715.5 725.4C716.1 727.7 716.7 730 717.4 732.3C718.1 734.5 718.9 736.8 719.7 739C720.5 741.2 721.4 743.4 722.3 745.6C723.2 747.8 724.2 749.9 725.3 752.1C726.3 754.2 727.4 756.3 728.6 758.3C729.8 760.3 731 762.3 732.4 764.3C733.7 766.2 735.1 768.1 736.6 769.9C738.1 771.6 739.7 773.4 741.4 775C743.1 776.6 744.9 778.1 746.7 779.6C748.5 781.1 750.4 782.4 752.4 783.8C754.3 785.1 756.4 786.4 758.4 787.6C760.4 788.9 762.5 790.1 764.5 791.2C766.6 792.4 768.6 793.6 770.7 794.7C772.8 795.8 774.9 796.9 777 798C779.1 799.1 781.3 800.1 783.4 801.1C785.5 802.2 787.7 803.2 789.8 804.1C792 805.1 794.1 806 796.3 806.9C798.5 807.8 800.6 808.7 802.8 809.6C805 810.4 807.2 811.3 809.4 812.1C811.6 812.9 813.8 813.6 816 814.4C818.2 815.2 820.5 815.9 822.7 816.6C824.9 817.3 827.1 818.1 829.4 818.8C831.7 819.5 833.9 820.2 836.2 820.9C838.5 821.6 840.8 822.3 843.1 823.1C845.4 823.8 847.8 824.6 850 825.4C852.3 826.2 854.6 827.1 856.7 828C858.9 829 861 830.1 862.9 831.3C864.9 832.5 866.7 833.8 868.3 835.3C869.9 836.8 871.3 838.4 872.5 840.3C873.7 842.2 874.6 844.3 875.4 846.6C876.1 848.8 876.5 851.3 876.8 853.8C877.1 856.2 877.1 858.9 877.1 861.3C877.1 863.8 876.7 867.3 876.6 868.5" stroke-width="1.34"/>
<path d="M726.6 691.4C726.6 692.6 726.7 696.1 726.8 698.5C727 700.9 727.2 703.3 727.5 705.6C727.8 708 728.2 710.4 728.6 712.7C729.1 715.1 729.6 717.4 730.2 719.7C730.9 722 731.6 724.3 732.4 726.5C733.2 728.7 734.1 730.9 735.1 733.1C736.1 735.2 737.2 737.3 738.4 739.3C739.6 741.2 740.9 743.2 742.3 745C743.8 746.9 745.3 748.6 746.9 750.3C748.5 752.1 750.2 753.7 751.9 755.3C753.7 756.8 755.5 758.3 757.3 759.8C759.2 761.3 761.1 762.7 763 764C764.9 765.3 766.9 766.6 768.9 767.9C770.9 769.1 772.9 770.3 774.9 771.5C777 772.6 779.1 773.7 781.2 774.8C783.3 775.8 785.4 776.8 787.6 777.8C789.7 778.8 791.9 779.7 794.1 780.6C796.3 781.5 798.5 782.4 800.7 783.2C803 784 805.2 784.8 807.5 785.6C809.7 786.4 812 787.1 814.3 787.8C816.6 788.5 818.9 789.2 821.2 789.9C823.5 790.5 825.8 791.2 828.1 791.8C830.4 792.4 832.7 793 835 793.6C837.3 794.2 839.6 794.8 841.9 795.3C844.3 795.9 846.6 796.4 848.9 796.9C851.2 797.5 853.5 798 855.7 798.5C858 799 860.3 799.5 862.6 800.1C864.8 800.6 867.1 801.1 869.3 801.6C871.6 802.1 874.9 802.8 876 803.1" stroke-width="1.34"/>
<path d="M745.7 692.4C745.7 693.7 745.7 697.4 745.9 699.8C746.2 702.3 746.6 704.6 747.2 706.9C747.8 709.2 748.5 711.4 749.4 713.6C750.3 715.7 751.3 717.8 752.5 719.8C753.7 721.8 755.1 723.7 756.5 725.5C757.9 727.3 759.5 729 761.2 730.6C762.8 732.3 764.6 733.8 766.4 735.3C768.3 736.8 770.2 738.2 772.1 739.6C774 740.9 776 742.2 778 743.4C780 744.7 782 745.8 784.1 746.9C786.2 748 788.3 749.1 790.4 750.1C792.5 751.1 794.7 752 796.8 752.9C799 753.8 801.2 754.7 803.4 755.5C805.6 756.3 807.8 757.1 810.1 757.8C812.3 758.6 814.6 759.2 816.9 759.9C819.1 760.6 821.4 761.2 823.7 761.8C826 762.4 828.3 763 830.6 763.5C833 764 835.3 764.6 837.6 765.1C839.9 765.6 842.3 766 844.6 766.5C846.9 767 849.2 767.4 851.6 767.9C853.9 768.3 856.2 768.7 858.5 769.1C860.8 769.6 863.1 770 865.4 770.4C867.7 770.8 870 771.2 872.3 771.6C874.6 772 877.9 772.6 879.1 772.8" stroke-width="1.34"/>
<path d="M768.5 694C768.9 695.3 769.8 699.1 770.8 701.4C771.7 703.7 772.9 705.8 774.2 707.8C775.4 709.7 776.9 711.5 778.5 713.2C780.1 714.9 781.8 716.4 783.7 717.9C785.5 719.3 787.5 720.6 789.5 721.8C791.5 723.1 793.6 724.2 795.8 725.2C797.9 726.2 800.1 727.2 802.4 728.1C804.6 728.9 806.9 729.8 809.2 730.5C811.5 731.3 813.8 732 816.1 732.6C818.4 733.2 820.8 733.8 823.1 734.4C825.5 734.9 827.9 735.4 830.3 735.9C832.7 736.3 835.1 736.7 837.5 737.1C839.9 737.5 842.3 737.8 844.7 738.2C847.1 738.5 849.5 738.8 851.9 739.1C854.4 739.4 856.8 739.7 859.2 739.9C861.6 740.2 864 740.4 866.3 740.7C868.7 740.9 871.1 741.2 873.5 741.4C875.8 741.7 878.2 741.9 880.5 742.2C882.8 742.4 886.2 742.9 887.4 743" stroke-width="1.34"/>
<path d="M879.2 772.7L888 772.7" stroke-width="1.22"/>
<path d="M702.4 689L702.7 773" stroke-width="1.22" stroke-dasharray="17 3 4 3 4 3 200"/>
<path d="M896.2 632.9C897.6 633.1 901.7 633.8 904.4 634.2C907.1 634.6 909.8 635 912.5 635.4C915.3 635.8 918 636.2 920.7 636.6C923.4 637 926.2 637.4 928.9 637.8C931.6 638.3 934.4 638.7 937.1 639.1C939.8 639.5 942.6 639.9 945.3 640.3C948 640.7 950.7 641.1 953.5 641.5C956.2 641.9 958.9 642.4 961.7 642.8C964.4 643.2 967.1 643.7 969.8 644.1C972.6 644.6 975.3 645 978 645.5C980.7 645.9 983.4 646.4 986.2 646.9C988.9 647.4 991.6 647.9 994.3 648.4C997 648.9 999.7 649.4 1002.4 650C1005.1 650.5 1007.8 651 1010.5 651.6C1013.2 652.2 1015.9 652.8 1018.6 653.4C1021.3 654 1024 654.6 1026.7 655.2C1029.4 655.8 1032 656.5 1034.7 657.2C1037.4 657.9 1040.1 658.6 1042.7 659.3C1045.4 660 1048 660.7 1050.7 661.5C1053.3 662.3 1056 663.1 1058.6 663.9C1061.3 664.7 1063.9 665.5 1066.5 666.4C1069.1 667.3 1071.7 668.2 1074.3 669.3C1076.8 670.4 1079.3 671.5 1081.7 672.8C1084.1 674.2 1087.4 676.6 1088.6 677.4" stroke-width="1.59"/>
<path d="M935.3 639C935.2 640.2 935 643.7 934.7 646.1C934.5 648.5 934.2 650.8 933.9 653.2C933.5 655.5 933.2 657.9 932.7 660.2C932.3 662.5 931.9 664.8 931.4 667.2C930.9 669.5 930.4 671.8 929.8 674.1C929.2 676.3 928.6 678.6 928 680.9C927.3 683.2 926.7 685.4 926 687.7C925.3 689.9 924.5 692.2 923.8 694.4C923 696.7 922.2 698.9 921.4 701.1C920.5 703.3 919.7 705.5 918.8 707.7C917.9 709.9 917 712.1 916.1 714.3C915.2 716.5 914.2 718.6 913.3 720.8C912.3 723 911.3 725.1 910.3 727.3C909.3 729.4 908.2 731.6 907.2 733.7C906.1 735.8 905.1 737.9 904 740C902.9 742.2 901.8 744.3 900.7 746.3C899.6 748.4 898.5 750.5 897.4 752.6C896.2 754.7 895.1 756.8 893.9 758.8C892.8 760.9 891.1 763.9 890.5 765" stroke-width="1.34"/>
<path d="M972.4 645.2C972.2 646.3 971.5 649.8 971 652.2C970.5 654.5 970 656.9 969.5 659.2C968.9 661.5 968.4 663.9 967.8 666.2C967.2 668.5 966.6 670.9 966 673.2C965.4 675.5 964.7 677.9 964 680.2C963.4 682.5 962.6 684.8 961.9 687.1C961.2 689.4 960.4 691.7 959.7 694C958.9 696.3 958.1 698.6 957.2 700.9C956.4 703.1 955.5 705.4 954.7 707.6C953.8 709.9 952.8 712.1 951.9 714.4C951 716.6 950 718.8 949 721C948 723.2 946.9 725.4 945.9 727.5C944.8 729.7 943.7 731.8 942.6 733.9C941.4 736.1 940.3 738.2 939.1 740.3C937.9 742.3 936.6 744.4 935.4 746.4C934.1 748.5 932.8 750.5 931.5 752.5C930.1 754.5 928.8 756.5 927.4 758.4C926 760.4 924.6 762.3 923.1 764.2C921.7 766.2 920.2 768.1 918.7 769.9C917.2 771.8 915.7 773.7 914.1 775.5C912.6 777.3 911 779.2 909.4 781C907.8 782.8 906.2 784.6 904.6 786.3C903 788.1 901.3 789.9 899.7 791.7C898.1 793.5 896.5 795.3 894.9 797.1C893.3 798.9 891 801.7 890.3 802.6" stroke-width="1.34"/>
<path d="M1001.8 650.8C1001.6 651.9 1001.1 655.4 1000.7 657.7C1000.3 660 999.9 662.3 999.5 664.6C999.1 666.9 998.7 669.3 998.2 671.6C997.7 673.9 997.2 676.2 996.7 678.5C996.2 680.8 995.7 683.2 995.1 685.5C994.5 687.8 993.9 690.1 993.3 692.4C992.7 694.7 992.1 697 991.4 699.3C990.7 701.6 990 703.9 989.3 706.1C988.5 708.4 987.8 710.7 987 712.9C986.2 715.2 985.4 717.4 984.5 719.6C983.7 721.9 982.8 724.1 981.8 726.3C980.9 728.5 979.9 730.6 978.9 732.8C977.9 734.9 976.9 737.1 975.8 739.2C974.7 741.3 973.6 743.4 972.5 745.4C971.3 747.5 970.1 749.5 968.9 751.5C967.6 753.5 966.3 755.4 965 757.4C963.6 759.3 962.2 761.2 960.8 763C959.4 764.9 957.9 766.7 956.4 768.5C954.8 770.2 953.3 772 951.7 773.7C950 775.4 948.4 777.1 946.7 778.8C945 780.4 943.3 782.1 941.6 783.7C939.9 785.3 938.1 786.9 936.4 788.5C934.6 790.1 932.8 791.7 931 793.2C929.2 794.8 927.4 796.4 925.6 797.9C923.9 799.5 922.1 801.1 920.3 802.6C918.5 804.2 916.7 805.8 914.9 807.4C913.1 808.9 911.4 810.5 909.6 812.1C907.9 813.8 906.2 815.4 904.5 817C902.8 818.7 901.1 820.3 899.5 822C897.9 823.7 896.3 825.5 894.8 827.2C893.2 829 891 831.7 890.2 832.6" stroke-width="1.34"/>
<path d="M1027.2 655.7C1027.1 656.9 1026.8 660.4 1026.5 662.7C1026.2 665.1 1025.9 667.4 1025.6 669.8C1025.3 672.1 1024.9 674.5 1024.5 676.8C1024.1 679.2 1023.6 681.5 1023.2 683.9C1022.7 686.2 1022.2 688.6 1021.7 690.9C1021.2 693.3 1020.6 695.6 1020 698C1019.4 700.3 1018.8 702.7 1018.2 705C1017.5 707.4 1016.9 709.7 1016.2 712C1015.5 714.4 1014.7 716.7 1014 719C1013.2 721.3 1012.4 723.6 1011.5 725.9C1010.7 728.1 1009.8 730.4 1008.9 732.6C1007.9 734.8 1007 737 1005.9 739.2C1004.9 741.4 1003.8 743.5 1002.7 745.6C1001.6 747.7 1000.4 749.8 999.2 751.8C997.9 753.8 996.6 755.8 995.3 757.7C994 759.7 992.6 761.6 991.2 763.5C989.8 765.4 988.3 767.2 986.8 769.1C985.3 770.9 983.8 772.7 982.2 774.5C980.6 776.3 979 778 977.4 779.7C975.8 781.5 974.1 783.2 972.4 784.9C970.7 786.6 969 788.2 967.3 789.9C965.5 791.6 963.8 793.2 962 794.8C960.2 796.5 958.5 798.1 956.7 799.7C954.9 801.3 953.1 802.9 951.2 804.5C949.4 806.1 947.6 807.7 945.8 809.3C944 810.9 942.1 812.5 940.3 814.1C938.5 815.7 936.6 817.3 934.8 818.9C933 820.5 931.2 822.1 929.4 823.7C927.6 825.3 925.8 826.9 924 828.6C922.2 830.2 920.5 831.8 918.7 833.5C917 835.2 915.3 836.8 913.6 838.5C911.9 840.2 910.2 841.9 908.5 843.6C906.9 845.3 905.3 847.1 903.7 848.9C902.1 850.6 900.5 852.4 899 854.2C897.5 856 896 857.9 894.5 859.8C893.1 861.6 891 864.5 890.3 865.5" stroke-width="1.34"/>
<path d="M1047.2 660.4C1047.2 661.6 1047.2 665 1047.2 667.3C1047.1 669.7 1047.1 672 1046.9 674.4C1046.8 676.7 1046.7 679.1 1046.5 681.4C1046.2 683.8 1046 686.1 1045.7 688.5C1045.4 690.8 1045.1 693.2 1044.7 695.5C1044.4 697.9 1043.9 700.3 1043.5 702.6C1043 704.9 1042.5 707.3 1042 709.6C1041.5 711.9 1040.9 714.3 1040.3 716.6C1039.6 718.9 1039 721.2 1038.3 723.5C1037.5 725.7 1036.8 728 1036 730.3C1035.2 732.5 1034.4 734.7 1033.5 736.9C1032.6 739.2 1031.7 741.3 1030.7 743.5C1029.7 745.7 1028.7 747.8 1027.6 749.9C1026.6 752 1025.4 754.1 1024.3 756.2C1023.1 758.2 1021.9 760.2 1020.7 762.2C1019.4 764.2 1018.1 766.2 1016.8 768.1C1015.5 770 1014.1 771.9 1012.7 773.8C1011.2 775.6 1009.8 777.4 1008.3 779.2C1006.8 781 1005.2 782.8 1003.7 784.5C1002.1 786.3 1000.5 788 998.9 789.7C997.2 791.4 995.6 793.1 993.9 794.7C992.2 796.4 990.5 798 988.8 799.6C987 801.2 985.3 802.8 983.5 804.4C981.7 806 979.9 807.6 978.1 809.1C976.3 810.7 974.5 812.2 972.6 813.8C970.8 815.3 969 816.8 967.1 818.3C965.3 819.9 963.4 821.4 961.5 822.9C959.7 824.4 957.8 825.9 955.9 827.4C954.1 828.9 952.2 830.4 950.3 831.9C948.5 833.5 946.6 835 944.8 836.5C942.9 838 941.1 839.5 939.2 841.1C937.4 842.6 935.6 844.1 933.8 845.7C932 847.2 930.2 848.8 928.4 850.3C926.6 851.9 924.9 853.5 923.1 855.1C921.4 856.7 919.7 858.3 918 859.9C916.3 861.6 914.7 863.2 913.1 864.9C911.5 866.6 909.9 868.4 908.4 870.1C906.9 871.9 905.4 873.7 904.1 875.6C902.7 877.5 901.3 879.4 900.1 881.3C898.8 883.3 897.6 885.3 896.5 887.5C895.4 889.6 894.4 891.7 893.5 894C892.6 896.2 891.4 899.8 891 900.9" stroke-width="1.34"/>
<path d="M1063 665.4C1063 666.6 1063.1 670.1 1063 672.4C1063 674.8 1063 677.1 1062.9 679.5C1062.8 681.8 1062.6 684.2 1062.5 686.5C1062.3 688.9 1062.1 691.2 1061.8 693.6C1061.6 695.9 1061.3 698.3 1061 700.6C1060.6 702.9 1060.3 705.3 1059.9 707.6C1059.5 709.9 1059 712.2 1058.5 714.5C1058 716.9 1057.5 719.1 1056.9 721.4C1056.3 723.7 1055.7 726 1055 728.2C1054.4 730.5 1053.6 732.7 1052.9 735C1052.1 737.2 1051.3 739.4 1050.5 741.6C1049.6 743.8 1048.7 745.9 1047.8 748.1C1046.8 750.2 1045.8 752.4 1044.8 754.5C1043.8 756.6 1042.7 758.7 1041.6 760.7C1040.4 762.8 1039.3 764.9 1038.1 766.9C1036.9 768.9 1035.7 771 1034.4 773C1033.2 775 1031.9 776.9 1030.6 778.9C1029.2 780.9 1027.9 782.8 1026.5 784.7C1025.1 786.7 1023.7 788.6 1022.3 790.5C1020.9 792.4 1019.4 794.2 1018 796.1C1016.5 797.9 1015 799.7 1013.4 801.5C1011.9 803.3 1010.3 805.1 1008.7 806.8C1007.1 808.5 1005.5 810.2 1003.9 811.9C1002.2 813.6 1000.5 815.2 998.8 816.8C997.1 818.4 995.4 819.9 993.6 821.5C991.9 823 990.1 824.5 988.3 825.9C986.5 827.4 984.6 828.8 982.8 830.3C980.9 831.7 979.1 833.1 977.2 834.5C975.3 835.9 973.4 837.2 971.5 838.6C969.6 840 967.7 841.3 965.8 842.7C963.8 844.1 961.9 845.4 960 846.8C958 848.2 956.1 849.5 954.1 850.9C952.2 852.3 950.2 853.7 948.3 855.1C946.3 856.5 944.4 857.9 942.4 859.3C940.5 860.8 938.6 862.2 936.7 863.7C934.8 865.2 932.9 866.7 931 868.2C929.2 869.8 927.3 871.3 925.5 872.9C923.7 874.5 922 876.1 920.3 877.8C918.6 879.4 916.9 881.1 915.3 882.8C913.7 884.6 912.1 886.3 910.7 888.1C909.2 889.9 907.7 891.8 906.4 893.6C905.1 895.5 903.8 897.5 902.6 899.4C901.4 901.4 900.3 903.4 899.3 905.5C898.3 907.6 897.3 909.7 896.5 911.9C895.7 914.1 894.9 916.3 894.3 918.5C893.6 920.8 893.1 923 892.7 925.3C892.2 927.6 891.9 929.9 891.6 932.3C891.3 934.6 891.2 936.9 891.1 939.3C891 941.6 891 944 891.1 946.4C891.2 948.7 891.3 951.1 891.5 953.5C891.7 955.9 891.9 958.2 892.2 960.6C892.4 963 892.7 965.4 893.1 967.7C893.4 970.1 893.7 972.5 894.1 974.8C894.4 977.2 894.8 979.5 895.1 981.9C895.5 984.2 895.8 986.5 896.1 988.8C896.5 991.1 896.7 993.4 897.1 995.7C897.5 997.9 897.9 1000.2 898.7 1002.3C899.5 1004.5 901.4 1007.6 901.9 1008.7" stroke-width="1.34"/>
<path d="M1075.9 670.6C1075.8 671.7 1075.6 675.1 1075.5 677.4C1075.3 679.7 1075.2 682.1 1075.1 684.4C1074.9 686.7 1074.8 689.1 1074.6 691.4C1074.4 693.8 1074.2 696.1 1074 698.5C1073.8 700.8 1073.6 703.2 1073.3 705.5C1073 707.9 1072.8 710.2 1072.4 712.6C1072.1 714.9 1071.8 717.3 1071.4 719.6C1071 721.9 1070.6 724.2 1070.1 726.6C1069.6 728.9 1069.1 731.2 1068.6 733.4C1068 735.7 1067.4 738 1066.8 740.2C1066.1 742.4 1065.4 744.7 1064.6 746.9C1063.8 749.1 1063 751.2 1062.1 753.4C1061.2 755.5 1060.3 757.7 1059.3 759.8C1058.3 761.9 1057.2 763.9 1056.1 766C1055.1 768.1 1053.9 770.1 1052.7 772.1C1051.6 774.1 1050.3 776.1 1049.1 778.1C1047.8 780.1 1046.6 782.1 1045.2 784C1043.9 786 1042.5 787.9 1041.2 789.8C1039.8 791.7 1038.3 793.6 1036.9 795.4C1035.4 797.3 1033.9 799.1 1032.4 800.9C1030.9 802.7 1029.3 804.5 1027.7 806.3C1026.2 808 1024.5 809.7 1022.9 811.4C1021.2 813.1 1019.6 814.7 1017.8 816.3C1016.1 817.9 1014.4 819.5 1012.6 821C1010.9 822.6 1009.1 824.1 1007.3 825.6C1005.5 827.1 1003.6 828.5 1001.8 830C999.9 831.4 998.1 832.8 996.2 834.2C994.3 835.6 992.4 837 990.5 838.4C988.6 839.8 986.7 841.2 984.8 842.5C982.9 843.9 981 845.3 979.1 846.7C977.2 848 975.3 849.4 973.4 850.8C971.6 852.2 969.7 853.6 967.8 855C965.9 856.4 964.1 857.8 962.2 859.3C960.4 860.7 958.5 862.1 956.7 863.6C954.9 865.1 953.1 866.5 951.3 868C949.4 869.5 947.6 871 945.9 872.5C944.1 874.1 942.3 875.6 940.5 877.1C938.8 878.7 937 880.2 935.2 881.8C933.5 883.4 931.7 885 930 886.5C928.3 888.1 926.5 889.7 924.8 891.4C923.1 893 921.4 894.6 919.7 896.3C918.1 898 916.4 899.7 914.9 901.5C913.5 903.3 912.1 905.2 910.9 907.1C909.7 909.1 908.6 911.2 907.6 913.3C906.7 915.4 905.9 917.6 905.2 919.8C904.6 922 904 924.2 903.6 926.5C903.1 928.8 902.8 931.1 902.5 933.4C902.2 935.7 902.1 938.1 901.9 940.5C901.8 942.8 901.7 945.2 901.6 947.6C901.6 950 901.6 952.4 901.6 954.8C901.6 957.2 901.6 959.6 901.6 962C901.6 964.4 901.6 966.8 901.5 969.1C901.4 971.5 901.4 973.9 901.2 976.2C901.1 978.5 900.9 980.8 900.6 983.1C900.3 985.4 899.7 988.8 899.5 989.9" stroke-width="1.34"/>
<path d="M1083.3 674.5C1083.3 675.7 1083.4 679.2 1083.4 681.6C1083.4 683.9 1083.4 686.3 1083.4 688.7C1083.3 691 1083.3 693.4 1083.2 695.8C1083.1 698.1 1082.9 700.5 1082.8 702.9C1082.6 705.3 1082.4 707.7 1082.2 710C1081.9 712.4 1081.7 714.8 1081.4 717.1C1081.1 719.5 1080.7 721.9 1080.3 724.2C1079.9 726.6 1079.5 728.9 1079 731.2C1078.6 733.5 1078 735.9 1077.5 738.2C1076.9 740.5 1076.3 742.8 1075.6 745C1074.9 747.3 1074.2 749.6 1073.4 751.8C1072.7 754 1071.8 756.3 1070.9 758.5C1070.1 760.7 1069.1 762.8 1068.2 765C1067.2 767.2 1066.2 769.3 1065.1 771.4C1064 773.5 1062.9 775.6 1061.7 777.7C1060.6 779.7 1059.3 781.8 1058.1 783.8C1056.8 785.8 1055.5 787.8 1054.2 789.7C1052.8 791.7 1051.4 793.6 1050 795.5C1048.6 797.4 1047.1 799.2 1045.6 801.1C1044.1 802.9 1042.5 804.7 1040.9 806.5C1039.4 808.2 1037.7 809.9 1036.1 811.6C1034.4 813.3 1032.7 815 1030.9 816.6C1029.2 818.2 1027.4 819.8 1025.6 821.3C1023.8 822.9 1022 824.4 1020.1 825.9C1018.2 827.4 1016.3 828.8 1014.4 830.2C1012.5 831.7 1010.6 833.1 1008.6 834.4C1006.6 835.8 1004.7 837.2 1002.7 838.5C1000.7 839.9 998.7 841.2 996.7 842.5C994.7 843.8 992.6 845.2 990.6 846.5C988.6 847.8 986.5 849 984.5 850.3C982.5 851.6 980.4 852.9 978.4 854.2C976.4 855.5 974.3 856.8 972.3 858.1C970.3 859.4 968.3 860.7 966.3 862C964.3 863.3 962.3 864.7 960.3 866C958.3 867.3 956.4 868.7 954.5 870.1C952.5 871.5 950.6 872.9 948.7 874.3C946.8 875.7 945 877.1 943.1 878.6C941.3 880.1 939.5 881.6 937.7 883.1C936 884.7 934.2 886.2 932.5 887.9C930.9 889.5 929.2 891.1 927.6 892.8C926 894.5 924.4 896.2 922.9 898C921.4 899.8 919.9 901.6 918.5 903.5C917.1 905.4 915.7 907.3 914.4 909.3C913.1 911.3 911.8 913.3 910.7 915.4C909.6 917.5 908.5 919.6 907.6 921.8C906.7 924 905.9 926.2 905.3 928.5C904.8 930.8 904.3 933.2 904.1 935.6C903.8 937.9 903.8 940.4 903.9 942.8C903.9 945.2 904.3 948.8 904.4 950.1" stroke-width="1.34"/>
<path d="M1088.5 677.7C1088.6 678.8 1088.7 682.4 1088.8 684.7C1088.8 687 1088.8 689.4 1088.8 691.7C1088.8 694.1 1088.7 696.5 1088.5 698.8C1088.4 701.2 1088.2 703.5 1088 705.9C1087.8 708.2 1087.6 710.6 1087.3 713C1087 715.3 1086.7 717.7 1086.3 720C1085.9 722.4 1085.5 724.7 1085.1 727.1C1084.6 729.4 1084.1 731.8 1083.6 734.1C1083.1 736.5 1082.5 738.8 1081.9 741.1C1081.3 743.4 1080.6 745.8 1080 748.1C1079.3 750.4 1078.5 752.7 1077.8 754.9C1077 757.2 1076.2 759.4 1075.3 761.7C1074.5 763.9 1073.5 766.1 1072.6 768.3C1071.6 770.4 1070.6 772.6 1069.5 774.7C1068.4 776.8 1067.3 778.8 1066.1 780.9C1064.9 782.9 1063.6 784.9 1062.3 786.8C1061 788.8 1059.6 790.7 1058.2 792.5C1056.8 794.4 1055.3 796.2 1053.8 798.1C1052.3 799.9 1050.7 801.6 1049.1 803.3C1047.5 805.1 1045.9 806.8 1044.2 808.5C1042.5 810.1 1040.8 811.8 1039.1 813.4C1037.3 815 1035.5 816.6 1033.7 818.1C1031.9 819.7 1030.1 821.2 1028.2 822.7C1026.4 824.2 1024.5 825.7 1022.6 827.1C1020.7 828.6 1018.8 830 1016.9 831.4C1014.9 832.8 1013 834.2 1011.1 835.6C1009.1 836.9 1007.2 838.3 1005.2 839.6C1003.2 840.9 1001.2 842.3 999.3 843.6C997.3 844.9 995.3 846.2 993.3 847.4C991.3 848.7 989.3 850 987.3 851.3C985.3 852.6 983.3 853.8 981.3 855.1C979.3 856.4 977.3 857.6 975.3 858.9C973.3 860.2 971.3 861.5 969.3 862.8C967.3 864 965.3 865.3 963.3 866.7C961.4 868 959.4 869.3 957.4 870.6C955.4 872 953.4 873.3 951.5 874.7C949.5 876.1 947.6 877.5 945.7 878.9C943.8 880.4 941.9 881.8 940 883.3C938.2 884.8 936.4 886.4 934.6 888C932.9 889.5 931.1 891.2 929.5 892.8C927.8 894.5 926.2 896.2 924.6 898C923.1 899.8 921.6 901.6 920.1 903.5C918.7 905.4 917.4 907.3 916.1 909.3C914.8 911.3 913.6 913.3 912.5 915.4C911.5 917.4 910.4 919.6 909.5 921.7C908.7 923.9 907.8 926.1 907.2 928.3C906.5 930.6 905.9 932.8 905.5 935.2C905 937.5 904.7 939.9 904.5 942.3C904.3 944.7 904.2 947.1 904.3 949.6C904.4 952 904.9 955.8 905 957.1" stroke-width="1.34"/>
<path d="M768.8 693.9L688.6 724.2" stroke-width="1.1"/>
<path d="M896.2 654.3L1085.9 720.7" stroke-width="1.1"/>
<path d="M798 714.7L699.2 760.9" stroke-width="1.1"/>
<path d="M890.1 672.5L1075.7 758.2" stroke-width="1.1"/>
<path d="M853.3 713.9L715 791.2" stroke-width="1.1"/>
<path d="M890.1 696.1L1058.5 790.2" stroke-width="1.1"/>
<path d="M886.7 720.3L741 818.2" stroke-width="1.1"/>
<path d="M890.2 721.3L1030 815.2" stroke-width="1.1"/>
<path d="M886.8 749.2L772 843.4" stroke-width="1.1"/>
<path d="M890.3 750.4L1002.8 842.7" stroke-width="1.1"/>
<path d="M887 779.6L805.5 861.1" stroke-width="1.1"/>
<path d="M890.5 781.1L972 862.6" stroke-width="1.1"/>
<path d="M887.1 823.4L837 880.6" stroke-width="1.1"/>
<path d="M890.6 825.1L941.7 883.4" stroke-width="1.1"/>
<path d="M887.3 868.9L865 903.5" stroke-width="1.1"/>
<path d="M890.8 871.3L911.6 903.5" stroke-width="1.1"/>
<path d="M887.3 611.4L895.7 611.4L896.4 660L896.2 633" stroke-width="1.34"/>
<path d="M895.6 611.4L895.8 655" stroke-width="1.34"/>
<path d="M895.6 649.5C895.2 650 893.8 651.2 893 652.5C892.2 653.8 891.4 655.1 890.9 657C890.4 658.9 890.4 656.8 890.3 664C890.2 671.2 890.3 684 890.4 700C890.5 716 890.9 725.8 891 760C891.1 794.2 891.2 880.8 891.2 905" stroke-width="1.22"/>
<path d="M896.2 658L902.5 912.3" stroke-width="1.46" stroke-dasharray="7 5"/>
<path d="M879.3 772.7L879.6 905" stroke-width="1.22"/>
<path d="M871.4 930.5C871.5 933.8 871.8 940.1 872.2 950C872.6 959.9 873.3 979.6 873.6 989.9C873.9 1000.2 873.6 1007.4 874.2 1011.9C874.9 1016.4 875 1015.9 877.5 1016.8C880 1017.7 887.1 1017.3 889 1017.4" stroke-width="1.95"/>
<path d="M879.7 905L880.8 1016.8" stroke-width="1.22"/>
<path d="M904.9 956.9C904.9 965.1 905.2 997.6 904.9 1006.4C904.6 1015.2 905.8 1009.1 903.3 1009.7C900.8 1010.3 892.3 1010.1 890.1 1010.2" stroke-width="1.34"/>
<path d="M899.5 989.9C899.4 990.3 899.3 991.8 899 992.5C898.7 993.2 899.3 993.8 897.8 994.3C896.3 994.8 891.4 995.2 890.1 995.4" stroke-width="1.22"/>
<path d="M341.7 1116.4C348.4 1116.3 368.4 1116 381.7 1115.9C395 1115.7 408.4 1115.5 421.7 1115.3C435.1 1115.1 448.4 1114.9 461.7 1114.7C475.1 1114.4 488.4 1114.2 501.7 1113.9C515.1 1113.7 528.4 1113.4 541.7 1113.1C555.1 1112.9 568.4 1112.6 581.8 1112.3C595.1 1112 608.4 1111.6 621.8 1111.3C635.1 1111 648.4 1110.6 661.8 1110.3C675.1 1109.9 688.4 1109.6 701.8 1109.2C715.1 1108.8 728.4 1108.4 741.8 1108C755.1 1107.6 768.4 1107.2 781.7 1106.8C795.1 1106.3 808.4 1105.9 821.7 1105.4C835.1 1105 848.4 1104.5 861.7 1104C875.1 1103.6 888.4 1103.1 901.7 1102.6C915 1102.1 928.4 1101.6 941.7 1101C955 1100.5 968.3 1100 981.7 1099.4C995 1098.9 1008.3 1098.3 1021.6 1097.7C1035 1097.2 1048.3 1096.6 1061.6 1096C1074.9 1095.4 1088.3 1094.8 1101.6 1094.1C1114.9 1093.5 1128.2 1092.9 1141.6 1092.2C1154.9 1091.6 1168.2 1090.9 1181.5 1090.3C1194.8 1089.6 1208.2 1088.9 1221.5 1088.2C1234.8 1087.5 1248.1 1086.8 1261.4 1086.1C1274.8 1085.4 1288.1 1084.7 1301.4 1084C1314.7 1083.2 1328 1082.5 1341.3 1081.7C1354.7 1080.9 1368 1080.2 1381.3 1079.4C1394.6 1078.6 1407.9 1077.8 1421.2 1077C1434.5 1076.2 1447.9 1075.4 1461.2 1074.6C1474.5 1073.7 1487.8 1072.9 1501.1 1072C1514.4 1071.2 1527.7 1070.3 1541 1069.5C1554.3 1068.6 1567.6 1067.7 1581 1066.8C1594.3 1065.9 1607.6 1065 1620.9 1064.1C1634.2 1063.2 1647.5 1062.2 1660.8 1061.3C1674.1 1060.4 1687.4 1059.4 1700.7 1058.5C1714 1057.5 1727.3 1056.5 1740.6 1055.5C1753.9 1054.6 1767.2 1053.6 1780.5 1052.6C1793.8 1051.6 1807.1 1050.6 1820.4 1049.5C1833.7 1048.5 1847 1047.5 1860.3 1046.4C1873.6 1045.4 1886.9 1044.3 1900.2 1043.3C1913.5 1042.2 1926.8 1041.1 1940.1 1040C1953.4 1038.9 1973.3 1037.3 1980 1036.7" stroke-width="1.1"/>
<path d="M316.7 1120.8C323.4 1120.7 343.6 1120.5 357 1120.3C370.4 1120.1 383.9 1119.9 397.3 1119.7C410.7 1119.6 424.1 1119.3 437.6 1119.1C451 1118.9 464.4 1118.7 477.9 1118.4C491.3 1118.2 504.7 1117.9 518.2 1117.7C531.6 1117.4 545 1117.1 558.5 1116.8C571.9 1116.5 585.3 1116.2 598.7 1115.9C612.2 1115.6 625.6 1115.2 639 1114.9C652.5 1114.5 665.9 1114.2 679.3 1113.8C692.7 1113.4 706.2 1113.1 719.6 1112.7C733 1112.3 746.4 1111.9 759.9 1111.5C773.3 1111 786.7 1110.6 800.1 1110.2C813.6 1109.7 827 1109.3 840.4 1108.8C853.8 1108.3 867.3 1107.9 880.7 1107.4C894.1 1106.9 907.5 1106.4 921 1105.9C934.4 1105.3 947.8 1104.8 961.2 1104.3C974.6 1103.7 988.1 1103.2 1001.5 1102.6C1014.9 1102.1 1028.3 1101.5 1041.7 1100.9C1055.2 1100.3 1068.6 1099.7 1082 1099.1C1095.4 1098.5 1108.8 1097.9 1122.2 1097.2C1135.7 1096.6 1149.1 1095.9 1162.5 1095.3C1175.9 1094.6 1189.3 1093.9 1202.7 1093.3C1216.2 1092.6 1229.6 1091.9 1243 1091.2C1256.4 1090.5 1269.8 1089.7 1283.2 1089C1296.6 1088.3 1310 1087.5 1323.5 1086.8C1336.9 1086 1350.3 1085.3 1363.7 1084.5C1377.1 1083.7 1390.5 1082.9 1403.9 1082.1C1417.3 1081.3 1430.7 1080.5 1444.1 1079.6C1457.5 1078.8 1470.9 1078 1484.4 1077.1C1497.8 1076.3 1511.2 1075.4 1524.6 1074.5C1538 1073.7 1551.4 1072.8 1564.8 1071.9C1578.2 1071 1591.6 1070.1 1605 1069.1C1618.4 1068.2 1631.8 1067.3 1645.2 1066.3C1658.6 1065.4 1672 1064.4 1685.4 1063.5C1698.8 1062.5 1712.2 1061.5 1725.6 1060.5C1739 1059.5 1752.4 1058.5 1765.7 1057.5C1779.1 1056.5 1792.5 1055.5 1805.9 1054.4C1819.3 1053.4 1832.7 1052.3 1846.1 1051.3C1859.5 1050.2 1872.9 1049.1 1886.3 1048.1C1899.7 1047 1913 1045.9 1926.4 1044.8C1939.8 1043.7 1959.9 1042 1966.6 1041.4" stroke-width="1.32"/>
<path d="M345 1142.2C351.8 1142.3 372.2 1142.6 385.8 1142.7C399.4 1142.9 413 1143 426.6 1143.1C440.2 1143.2 453.8 1143.2 467.4 1143.3C481 1143.3 494.6 1143.3 508.2 1143.3C521.8 1143.3 535.4 1143.3 549 1143.3C562.6 1143.2 576.2 1143.2 589.8 1143.1C603.4 1143 617 1142.9 630.6 1142.8C644.2 1142.6 657.8 1142.5 671.4 1142.3C685 1142.1 698.6 1142 712.2 1141.7C725.8 1141.5 739.4 1141.3 753 1141.1C766.6 1140.8 780.2 1140.5 793.8 1140.3C807.4 1140 820.9 1139.7 834.5 1139.3C848.1 1139 861.7 1138.7 875.3 1138.3C888.9 1137.9 902.5 1137.6 916.1 1137.2C929.7 1136.8 943.3 1136.3 956.9 1135.9C970.5 1135.5 984 1135 997.6 1134.6C1011.2 1134.1 1024.8 1133.6 1038.4 1133.1C1052 1132.6 1065.6 1132.1 1079.2 1131.6C1092.8 1131 1106.3 1130.5 1119.9 1129.9C1133.5 1129.3 1147.1 1128.8 1160.7 1128.2C1174.3 1127.6 1187.9 1127 1201.4 1126.3C1215 1125.7 1228.6 1125.1 1242.2 1124.4C1255.8 1123.7 1269.4 1123.1 1282.9 1122.4C1296.5 1121.7 1310.1 1121 1323.7 1120.3C1337.3 1119.6 1350.8 1118.9 1364.4 1118.1C1378 1117.4 1391.6 1116.6 1405.1 1115.9C1418.7 1115.1 1432.3 1114.3 1445.9 1113.5C1459.5 1112.7 1473 1111.9 1486.6 1111.1C1500.2 1110.3 1513.8 1109.5 1527.3 1108.6C1540.9 1107.8 1554.5 1107 1568 1106.1C1581.6 1105.2 1595.2 1104.4 1608.8 1103.5C1622.3 1102.6 1635.9 1101.7 1649.5 1100.8C1663 1099.9 1676.6 1099 1690.2 1098.1C1703.7 1097.1 1717.3 1096.2 1730.9 1095.3C1744.4 1094.3 1758 1093.4 1771.6 1092.4C1785.1 1091.5 1798.7 1090.5 1812.3 1089.5C1825.8 1088.5 1839.4 1087.5 1852.9 1086.6C1866.5 1085.6 1880.1 1084.6 1893.6 1083.6C1907.2 1082.6 1920.7 1081.6 1934.3 1080.5C1947.9 1079.5 1968.2 1078 1975 1077.5" stroke-width="1.1"/>
<path d="M357.5 1150.5C364.2 1150.6 384.5 1150.9 398 1151.1C411.5 1151.2 425 1151.4 438.6 1151.5C452.1 1151.6 465.6 1151.7 479.1 1151.7C492.6 1151.8 506.1 1151.8 519.6 1151.8C533.1 1151.9 546.6 1151.8 560.1 1151.8C573.7 1151.8 587.2 1151.7 600.7 1151.7C614.2 1151.6 627.7 1151.5 641.2 1151.4C654.7 1151.3 668.2 1151.1 681.7 1151C695.2 1150.8 708.7 1150.6 722.2 1150.4C735.7 1150.2 749.2 1150 762.7 1149.8C776.2 1149.5 789.8 1149.2 803.3 1149C816.8 1148.7 830.3 1148.4 843.8 1148.1C857.3 1147.7 870.8 1147.4 884.3 1147.1C897.8 1146.7 911.3 1146.3 924.8 1145.9C938.3 1145.5 951.8 1145.1 965.3 1144.7C978.8 1144.3 992.3 1143.8 1005.8 1143.4C1019.3 1142.9 1032.8 1142.4 1046.3 1141.9C1059.8 1141.4 1073.3 1140.9 1086.8 1140.4C1100.3 1139.8 1113.8 1139.3 1127.3 1138.7C1140.8 1138.2 1154.3 1137.6 1167.8 1137C1181.3 1136.4 1194.7 1135.8 1208.2 1135.2C1221.7 1134.6 1235.2 1133.9 1248.7 1133.3C1262.2 1132.6 1275.7 1132 1289.2 1131.3C1302.7 1130.6 1316.2 1129.9 1329.7 1129.2C1343.2 1128.5 1356.7 1127.8 1370.1 1127.1C1383.6 1126.4 1397.1 1125.6 1410.6 1124.9C1424.1 1124.1 1437.6 1123.3 1451.1 1122.6C1464.6 1121.8 1478 1121 1491.5 1120.2C1505 1119.4 1518.5 1118.6 1532 1117.8C1545.5 1116.9 1559 1116.1 1572.4 1115.3C1585.9 1114.4 1599.4 1113.6 1612.9 1112.7C1626.4 1111.8 1639.8 1111 1653.3 1110.1C1666.8 1109.2 1680.3 1108.3 1693.8 1107.4C1707.2 1106.5 1720.7 1105.6 1734.2 1104.7C1747.7 1103.8 1761.1 1102.9 1774.6 1101.9C1788.1 1101 1801.6 1100.1 1815 1099.1C1828.5 1098.2 1842 1097.2 1855.5 1096.3C1868.9 1095.3 1882.4 1094.3 1895.9 1093.3C1909.4 1092.4 1922.8 1091.4 1936.3 1090.4C1949.8 1089.4 1970 1087.9 1976.7 1087.4" stroke-width="1.32"/>
<path d="M771.7 1453.3L1377.5 1405" stroke-width="1.21"/>
<path d="M1377.5 1404.9C1379.2 1404 1384.6 1401.1 1388.2 1399.2C1391.8 1397.4 1395.4 1395.6 1399 1393.8C1402.6 1392 1406.3 1390.3 1410 1388.6C1413.6 1387 1417.3 1385.3 1421 1383.7C1424.7 1382.1 1428.4 1380.5 1432.1 1378.9C1435.9 1377.4 1439.6 1375.9 1443.4 1374.4C1447.1 1372.9 1450.9 1371.4 1454.6 1370C1458.4 1368.5 1462.2 1367.1 1466 1365.7C1469.7 1364.3 1473.5 1362.9 1477.3 1361.5C1481.1 1360.1 1484.9 1358.7 1488.8 1357.4C1492.6 1356 1496.4 1354.7 1500.2 1353.4C1504 1352 1507.8 1350.7 1511.7 1349.4C1515.5 1348 1519.3 1346.7 1523.1 1345.4C1526.9 1344 1530.7 1342.7 1534.6 1341.4C1538.4 1340 1542.2 1338.7 1546 1337.4C1549.8 1336.1 1553.6 1334.7 1557.5 1333.4C1561.3 1332.1 1565.1 1330.7 1568.9 1329.4C1572.7 1328.1 1576.5 1326.7 1580.3 1325.4C1584.2 1324.1 1588 1322.7 1591.8 1321.4C1595.6 1320.1 1599.4 1318.7 1603.2 1317.4C1607 1316 1610.8 1314.7 1614.6 1313.4C1618.4 1312 1622.3 1310.7 1626.1 1309.4C1629.9 1308 1633.7 1306.7 1637.5 1305.3C1641.3 1304 1645.1 1302.6 1648.9 1301.3C1652.7 1300 1656.5 1298.6 1660.3 1297.3C1664.2 1295.9 1668 1294.6 1671.8 1293.2C1675.6 1291.9 1679.4 1290.5 1683.2 1289.2C1687 1287.9 1690.8 1286.5 1694.6 1285.2C1698.4 1283.8 1702.2 1282.5 1706 1281.1C1709.8 1279.8 1713.6 1278.4 1717.4 1277.1C1721.3 1275.7 1725.1 1274.3 1728.9 1273C1732.7 1271.6 1736.5 1270.3 1740.3 1268.9C1744.1 1267.5 1747.9 1266.1 1751.7 1264.8C1755.5 1263.4 1759.3 1262 1763.1 1260.6C1766.9 1259.2 1770.6 1257.8 1774.4 1256.4C1778.2 1255 1782 1253.6 1785.8 1252.2C1789.6 1250.8 1793.4 1249.4 1797.1 1248C1800.9 1246.5 1804.7 1245.1 1808.5 1243.6C1812.2 1242.2 1816 1240.7 1819.8 1239.3C1823.5 1237.8 1827.3 1236.3 1831 1234.8C1834.8 1233.3 1838.5 1231.8 1842.3 1230.3C1846 1228.8 1849.8 1227.3 1853.5 1225.7C1857.2 1224.2 1861 1222.7 1864.7 1221.1C1868.4 1219.5 1872.1 1217.8 1875.8 1216.2C1879.4 1214.5 1883.1 1212.8 1886.7 1211C1890.4 1209.2 1894 1207.3 1897.5 1205.3C1901 1203.3 1904.4 1201.2 1907.8 1199C1911.2 1196.8 1914.5 1194.5 1917.7 1192.1C1920.9 1189.7 1924 1187.2 1927.1 1184.6C1930.2 1182 1933.2 1179.3 1936.2 1176.6C1939.2 1173.8 1942.1 1171 1944.9 1168.1C1947.8 1165.2 1950.6 1162.2 1953.3 1159.1C1955.9 1156.1 1958.6 1153 1961 1149.7C1963.4 1146.5 1965.7 1143.1 1967.7 1139.7C1969.8 1136.2 1971.7 1132.7 1973.3 1129C1975 1125.4 1976.5 1121.6 1977.8 1117.8C1979.1 1114 1980.2 1110.1 1981.1 1106.2C1982 1102.3 1982.8 1098.3 1983.4 1094.3C1984 1090.2 1984.4 1086.2 1984.6 1082.1C1984.9 1078.1 1985 1074 1984.9 1070C1984.8 1065.9 1984.4 1059.9 1984.2 1057.9" stroke-width="1.32"/>
<path d="M761.7 1445L785 1471.7" stroke-width="1.21"/>
<path d="M785 1471.7C785.4 1472.1 786.5 1473.7 787.5 1474.3C788.5 1474.9 790.2 1475.1 790.8 1475.3" stroke-width="1.21"/>
<path d="M790.8 1475.3L820 1474.6L1000 1468L1245 1458.8" stroke-width="1.21"/>
<path d="M1245 1458.8C1246 1458.6 1249 1458.1 1251 1457.8C1253 1457.5 1255.1 1457.3 1257.1 1457C1259.1 1456.8 1261.1 1456.6 1263.1 1456.5C1265.2 1456.3 1267.2 1456.2 1269.2 1456.1C1271.2 1455.9 1273.2 1455.8 1275.3 1455.7C1277.3 1455.6 1279.3 1455.6 1281.3 1455.5C1283.4 1455.4 1285.4 1455.3 1287.4 1455.3C1289.4 1455.2 1291.5 1455.1 1293.5 1455C1295.5 1454.9 1297.6 1454.8 1299.6 1454.7C1301.6 1454.6 1303.7 1454.4 1305.7 1454.3C1307.7 1454.1 1309.7 1453.9 1311.8 1453.7C1313.8 1453.5 1315.8 1453.3 1317.9 1453C1319.9 1452.7 1321.9 1452.4 1323.9 1452C1325.9 1451.6 1327.9 1451.1 1329.9 1450.5C1331.8 1449.9 1333.6 1449.2 1335.4 1448.3C1337.2 1447.4 1338.8 1446.3 1340.4 1445.2C1342 1444 1343.5 1442.6 1344.9 1441.2C1346.3 1439.7 1347.6 1438.2 1348.9 1436.6C1350.1 1435 1351.3 1433.3 1352.6 1431.6C1353.8 1430 1355 1428.2 1356.2 1426.6C1357.5 1425 1358.7 1423.4 1360 1421.8C1361.3 1420.3 1362.7 1418.8 1364.1 1417.3C1365.5 1415.9 1366.9 1414.5 1368.3 1413.1C1369.8 1411.7 1371.3 1410.3 1372.8 1409C1374.4 1407.6 1376.7 1405.7 1377.5 1405" stroke-width="1.21"/>
<path d="M440 1151L440.2 1196.8" stroke-width="1.26"/>
<path d="M440 1142.4L440 1144.9" stroke-width="0.99"/>
<path d="M530 1151.3L530.2 1226.3" stroke-width="1.26"/>
<path d="M529.9 1142.3L529.9 1144.8" stroke-width="0.99"/>
<path d="M619.9 1151.3L620.3 1255.5" stroke-width="1.26"/>
<path d="M619.9 1142.1L619.9 1144.6" stroke-width="0.99"/>
<path d="M709.8 1150.8L710.7 1384" stroke-width="1.26"/>
<path d="M709.8 1141.4L709.8 1143.9" stroke-width="0.99"/>
<path d="M799.8 1149.3L801 1475.5" stroke-width="1.26"/>
<path d="M799.7 1140L799.7 1142.5" stroke-width="0.99"/>
<path d="M801 1471.8L801 1474.8" stroke-width="0.99"/>
<path d="M889.7 1147.2L890.8 1443.8" stroke-width="1.26"/>
<path d="M889.7 1138.1L889.7 1140.6" stroke-width="0.99"/>
<path d="M890.9 1469.2L890.9 1472.2" stroke-width="0.99"/>
<path d="M979.6 1144.3L980.7 1436.7" stroke-width="1.26"/>
<path d="M979.6 1135.3L979.6 1137.8" stroke-width="0.99"/>
<path d="M980.8 1465.8L980.8 1468.8" stroke-width="0.99"/>
<path d="M1069.6 1141L1070.7 1429.7" stroke-width="1.26"/>
<path d="M1069.5 1132.2L1069.5 1134.7" stroke-width="0.99"/>
<path d="M1070.8 1462.4L1070.8 1465.4" stroke-width="0.99"/>
<path d="M1159.5 1137.1L1160.6 1422.6" stroke-width="1.26"/>
<path d="M1159.4 1128.8L1159.4 1131.3" stroke-width="0.99"/>
<path d="M1160.7 1459L1160.7 1462" stroke-width="0.99"/>
<path d="M1249.4 1133.1L1250.5 1415.5" stroke-width="1.26"/>
<path d="M1249.4 1124.6L1249.4 1127.1" stroke-width="0.99"/>
<path d="M1250.7 1455.3L1250.7 1458.3" stroke-width="0.99"/>
<path d="M1339.3 1128.7L1340.4 1408.5" stroke-width="1.26"/>
<path d="M1339.3 1119.6L1339.3 1122.1" stroke-width="0.99"/>
<path d="M1340.6 1447L1340.6 1450" stroke-width="0.99"/>
<path d="M1429.3 1123.7L1430.2 1380.7" stroke-width="1.26"/>
<path d="M1429.2 1114.3L1429.2 1116.8" stroke-width="0.99"/>
<path d="M1519.2 1117.9L1520 1347.3" stroke-width="1.26"/>
<path d="M1519.1 1108.7L1519.1 1111.2" stroke-width="0.99"/>
<path d="M1609.1 1112.7L1609.9 1315.4" stroke-width="1.26"/>
<path d="M1609.1 1103.3L1609.1 1105.8" stroke-width="0.99"/>
<path d="M1699 1107.6L1699.7 1284.3" stroke-width="1.26"/>
<path d="M1699 1097.7L1699 1100.2" stroke-width="0.99"/>
<path d="M1788.9 1101.3L1789.5 1251" stroke-width="1.26"/>
<path d="M1788.9 1090.3L1788.9 1092.8" stroke-width="0.99"/>
<path d="M1878.8 1094.6L1879.3 1214.5" stroke-width="1.26"/>
<path d="M1878.8 1084.7L1878.8 1087.2" stroke-width="0.99"/>
<path d="M285.5 1233.4L2070.7 1227.3" stroke-width="1.21"/>
<path d="M1570 1116.4L1977 1115" stroke-width="1.1"/>
<path d="M367 1158.3L1958.5 1152.9" stroke-width="1.1"/>
<path d="M441 1195.5L1921.5 1190.4" stroke-width="1.1"/>
<path d="M652.5 1270.4L1750 1266.7" stroke-width="1.1"/>
<path d="M662.5 1308.1L1638.8 1304.8" stroke-width="1.1"/>
<path d="M680 1346L1532.5 1343.1" stroke-width="1.1"/>
<path d="M710 1383.9L1430 1381.5" stroke-width="1.1"/>
<path d="M767.2 1151.4C768.7 1152.9 772.9 1157.4 775.8 1160.1C778.8 1162.9 781.9 1165.4 785.1 1167.9C788.3 1170.3 791.6 1172.6 794.9 1174.7C798.3 1176.9 801.7 1178.9 805.2 1180.8C808.7 1182.7 812.3 1184.5 815.9 1186.2C819.5 1188 823.2 1189.6 826.9 1191.1C830.6 1192.7 834.3 1194.1 838.1 1195.5C841.8 1197 845.6 1198.3 849.4 1199.6C853.2 1200.9 857 1202.1 860.8 1203.3C864.7 1204.5 868.5 1205.6 872.4 1206.7C876.3 1207.7 880.2 1208.7 884.1 1209.7C888 1210.6 891.9 1211.6 895.8 1212.4C899.7 1213.3 903.7 1214.1 907.6 1214.8C911.6 1215.6 915.6 1216.3 919.5 1217C923.5 1217.6 927.5 1218.3 931.5 1218.8C935.5 1219.4 939.5 1220 943.5 1220.4C947.5 1220.9 951.5 1221.4 955.6 1221.8C959.6 1222.2 963.6 1222.6 967.6 1222.9C971.7 1223.3 975.7 1223.6 979.7 1223.8C983.8 1224.1 987.8 1224.3 991.8 1224.5C995.9 1224.7 999.9 1224.9 1003.9 1225C1008 1225.1 1012 1225.2 1016 1225.3C1020 1225.4 1024.1 1225.4 1028.1 1225.4C1032.1 1225.4 1036.1 1225.4 1040.1 1225.4C1044.1 1225.3 1048.1 1225.3 1052.1 1225.2C1056.1 1225.1 1060.1 1225 1064 1224.9C1068 1224.7 1072 1224.6 1075.9 1224.4C1079.9 1224.2 1083.9 1224.1 1087.8 1223.8C1091.8 1223.6 1095.8 1223.4 1099.7 1223.1C1103.7 1222.9 1107.7 1222.6 1111.6 1222.3C1115.6 1222.1 1119.6 1221.8 1123.6 1221.4C1127.5 1221.1 1131.5 1220.8 1135.5 1220.4C1139.5 1220.1 1143.5 1219.7 1147.5 1219.4C1151.5 1219 1155.5 1218.6 1159.6 1218.2C1163.6 1217.8 1167.6 1217.4 1171.7 1216.9C1175.7 1216.5 1179.8 1216 1183.8 1215.6C1187.9 1215.1 1192 1214.6 1196 1214C1200.1 1213.5 1204.1 1212.9 1208.1 1212.3C1212.2 1211.7 1216.2 1211 1220.2 1210.3C1224.3 1209.6 1228.3 1208.8 1232.2 1208C1236.2 1207.2 1240.2 1206.3 1244.1 1205.4C1248.1 1204.4 1252 1203.4 1255.9 1202.4C1259.8 1201.3 1263.6 1200.1 1267.5 1198.9C1271.3 1197.7 1275.1 1196.4 1278.8 1195C1282.6 1193.6 1286.3 1192.1 1290 1190.6C1293.7 1189 1297.3 1187.4 1300.9 1185.6C1304.4 1183.8 1308 1182 1311.5 1180C1314.9 1178 1318.3 1176 1321.6 1173.7C1324.9 1171.5 1328.1 1169.2 1331.2 1166.7C1334.2 1164.2 1337.1 1161.5 1339.9 1158.7C1342.6 1155.8 1345.1 1152.8 1347.4 1149.6C1349.7 1146.3 1351.8 1142.9 1353.7 1139.3C1355.5 1135.6 1357.5 1129.6 1358.3 1127.7" stroke-width="1.21" stroke-dasharray="62 3 3 3 3 3 3 3 590 3 3 3 3 3 3 3 500"/>
<path d="M520.4 1152C521.6 1153.6 525.2 1158.7 528 1161.5C530.8 1164.4 533.9 1166.9 537.1 1169.2C540.3 1171.6 543.7 1173.6 547.2 1175.6C550.6 1177.6 554.2 1179.4 557.7 1181.1C561.3 1182.9 565 1184.5 568.6 1186.1C572.3 1187.6 576 1189.1 579.8 1190.5C583.5 1191.9 587.3 1193.3 591.1 1194.6C594.9 1195.9 598.8 1197.2 602.6 1198.4C606.4 1199.7 610.3 1200.9 614.1 1202.1C618 1203.3 621.8 1204.5 625.7 1205.7C629.6 1207 633.4 1208.2 637.3 1209.4C641.1 1210.6 645 1211.8 648.8 1213C652.7 1214.3 656.5 1215.5 660.4 1216.7C664.2 1217.9 668.1 1219.1 671.9 1220.3C675.8 1221.5 679.6 1222.7 683.5 1223.9C687.3 1225.1 691.2 1226.2 695 1227.4C698.9 1228.6 702.7 1229.7 706.6 1230.9C710.5 1232 714.3 1233.2 718.2 1234.3C722 1235.4 725.9 1236.5 729.8 1237.6C733.6 1238.7 737.5 1239.7 741.4 1240.8C745.3 1241.9 749.1 1242.9 753 1243.9C756.9 1244.9 760.8 1245.9 764.7 1246.9C768.6 1247.9 772.5 1248.8 776.4 1249.7C780.3 1250.7 784.2 1251.6 788.1 1252.4C792 1253.3 795.9 1254.2 799.8 1255C803.7 1255.8 807.7 1256.6 811.6 1257.4C815.5 1258.1 819.5 1258.9 823.4 1259.6C827.4 1260.3 831.3 1261 835.3 1261.7C839.2 1262.3 843.2 1262.9 847.1 1263.6C851.1 1264.2 855.1 1264.8 859 1265.3C863 1265.9 867 1266.4 871 1266.9C875 1267.5 878.9 1268 882.9 1268.4C886.9 1268.9 890.9 1269.4 894.9 1269.8C898.9 1270.2 902.9 1270.6 906.9 1271C910.9 1271.4 914.9 1271.8 918.9 1272.2C922.9 1272.5 926.9 1272.9 930.9 1273.2C935 1273.5 939 1273.8 943 1274.1C947 1274.4 951 1274.7 955 1274.9C959 1275.2 963.1 1275.4 967.1 1275.7C971.1 1275.9 975.1 1276.1 979.2 1276.3C983.2 1276.5 987.2 1276.7 991.2 1276.9C995.3 1277.1 999.3 1277.2 1003.3 1277.4C1007.3 1277.5 1011.4 1277.7 1015.4 1277.8C1019.4 1277.9 1023.4 1278.1 1027.5 1278.2C1031.5 1278.3 1035.5 1278.3 1039.5 1278.4C1043.6 1278.5 1047.6 1278.6 1051.6 1278.6C1055.6 1278.6 1059.7 1278.7 1063.7 1278.7C1067.7 1278.7 1071.8 1278.7 1075.8 1278.7C1079.8 1278.7 1083.8 1278.7 1087.9 1278.7C1091.9 1278.6 1095.9 1278.6 1099.9 1278.5C1104 1278.5 1108 1278.4 1112 1278.3C1116 1278.2 1120.1 1278.1 1124.1 1278C1128.1 1277.9 1132.1 1277.8 1136.1 1277.6C1140.2 1277.5 1144.2 1277.3 1148.2 1277.2C1152.2 1277 1156.2 1276.8 1160.2 1276.6C1164.3 1276.4 1168.3 1276.2 1172.3 1276C1176.3 1275.7 1180.3 1275.5 1184.3 1275.2C1188.3 1275 1192.3 1274.7 1196.4 1274.4C1200.4 1274.2 1204.4 1273.9 1208.4 1273.5C1212.4 1273.2 1216.4 1272.9 1220.4 1272.6C1224.4 1272.2 1228.4 1271.9 1232.4 1271.5C1236.4 1271.1 1240.4 1270.8 1244.4 1270.4C1248.4 1270 1252.3 1269.5 1256.3 1269.1C1260.3 1268.7 1264.3 1268.2 1268.3 1267.8C1272.3 1267.3 1276.3 1266.8 1280.2 1266.3C1284.2 1265.8 1288.2 1265.3 1292.2 1264.8C1296.1 1264.3 1300.1 1263.7 1304.1 1263.1C1308 1262.6 1312 1262 1316 1261.4C1319.9 1260.8 1323.9 1260.1 1327.9 1259.5C1331.8 1258.8 1335.8 1258.1 1339.7 1257.4C1343.7 1256.7 1347.6 1256 1351.6 1255.2C1355.5 1254.5 1359.4 1253.7 1363.4 1252.9C1367.3 1252.1 1371.2 1251.2 1375.2 1250.4C1379.1 1249.5 1383 1248.6 1386.9 1247.7C1390.9 1246.8 1394.8 1245.9 1398.7 1244.9C1402.6 1243.9 1406.5 1242.9 1410.4 1241.8C1414.3 1240.8 1418.2 1239.7 1422.1 1238.6C1426 1237.5 1429.9 1236.4 1433.8 1235.2C1437.7 1234 1441.6 1232.8 1445.5 1231.6C1449.3 1230.4 1453.2 1229.1 1457 1227.7C1460.9 1226.4 1464.7 1225 1468.5 1223.6C1472.3 1222.2 1476.1 1220.8 1479.9 1219.2C1483.6 1217.7 1487.4 1216.2 1491.1 1214.5C1494.8 1212.9 1498.4 1211.2 1502.1 1209.5C1505.7 1207.8 1509.3 1206 1512.9 1204.1C1516.4 1202.3 1520 1200.4 1523.4 1198.4C1526.9 1196.4 1530.3 1194.3 1533.7 1192.2C1537.1 1190.1 1540.4 1187.9 1543.7 1185.6C1547 1183.4 1550.2 1181 1553.3 1178.6C1556.5 1176.2 1559.6 1173.7 1562.6 1171.1C1565.6 1168.5 1568.6 1165.9 1571.5 1163.1C1574.4 1160.4 1577.2 1157.5 1580 1154.6C1582.7 1151.7 1585.4 1148.7 1588 1145.6C1590.5 1142.4 1593 1139.2 1595.2 1135.9C1597.5 1132.5 1599.5 1129 1601.2 1125.4C1602.9 1121.7 1604.7 1115.8 1605.4 1113.9" stroke-width="1.21" stroke-dasharray="82 3 3 3 3 3 3 3 425 3 3 3 3 3 530 3 3 3 3 3 3 3 500"/>
<path d="M365.9 1158.8C367.8 1159.4 373.6 1161 377.4 1162.2C381.2 1163.3 385.1 1164.4 388.9 1165.5C392.7 1166.7 396.6 1167.8 400.4 1168.9C404.3 1170.1 408.1 1171.2 411.9 1172.4C415.8 1173.5 419.6 1174.7 423.5 1175.8C427.3 1177 431.1 1178.1 435 1179.3C438.8 1180.4 442.7 1181.6 446.5 1182.8C450.3 1183.9 454.2 1185.1 458 1186.3C461.9 1187.5 465.7 1188.6 469.5 1189.8C473.4 1191 477.2 1192.2 481.1 1193.3C484.9 1194.5 488.8 1195.7 492.6 1196.9C496.4 1198 500.3 1199.2 504.1 1200.4C508 1201.6 511.8 1202.7 515.7 1203.9C519.5 1205.1 523.4 1206.2 527.2 1207.4C531.1 1208.6 534.9 1209.8 538.8 1210.9C542.6 1212.1 546.5 1213.2 550.3 1214.4C554.2 1215.6 558 1216.7 561.9 1217.9C565.8 1219 569.6 1220.2 573.5 1221.3C577.3 1222.5 581.2 1223.6 585 1224.7C588.9 1225.9 592.8 1227 596.6 1228.1C600.5 1229.3 604.4 1230.4 608.2 1231.5C612.1 1232.6 616 1233.7 619.8 1234.8C623.7 1235.9 627.6 1237 631.4 1238.1C635.3 1239.2 639.2 1240.3 643.1 1241.3C646.9 1242.4 650.8 1243.5 654.7 1244.5C658.6 1245.6 662.5 1246.6 666.4 1247.6C670.2 1248.7 674.1 1249.7 678 1250.7C681.9 1251.7 685.8 1252.7 689.7 1253.7C693.6 1254.7 697.5 1255.7 701.4 1256.7C705.3 1257.7 709.2 1258.6 713.1 1259.6C717 1260.6 720.9 1261.5 724.8 1262.4C728.7 1263.4 732.6 1264.3 736.5 1265.2C740.4 1266.1 744.3 1267 748.2 1267.8C752.1 1268.7 756.1 1269.6 760 1270.4C763.9 1271.3 767.8 1272.1 771.7 1272.9C775.7 1273.8 779.6 1274.6 783.5 1275.4C787.4 1276.2 791.4 1276.9 795.3 1277.7C799.3 1278.5 803.2 1279.2 807.1 1279.9C811.1 1280.7 815 1281.4 819 1282.1C822.9 1282.8 826.9 1283.4 830.8 1284.1C834.8 1284.8 838.7 1285.4 842.7 1286.1C846.6 1286.7 850.6 1287.3 854.6 1287.9C858.5 1288.5 862.5 1289.1 866.4 1289.7C870.4 1290.3 874.4 1290.8 878.4 1291.4C882.3 1291.9 886.3 1292.4 890.3 1292.9C894.2 1293.5 898.2 1294 902.2 1294.5C906.2 1294.9 910.2 1295.4 914.2 1295.9C918.1 1296.3 922.1 1296.8 926.1 1297.2C930.1 1297.6 934.1 1298.1 938.1 1298.5C942.1 1298.9 946.1 1299.3 950.1 1299.6C954.1 1300 958 1300.4 962 1300.7C966 1301.1 970 1301.4 974 1301.7C978.1 1302.1 982.1 1302.4 986.1 1302.7C990.1 1303 994.1 1303.3 998.1 1303.5C1002.1 1303.8 1006.1 1304.1 1010.1 1304.3C1014.1 1304.6 1018.1 1304.8 1022.1 1305C1026.2 1305.2 1030.2 1305.5 1034.2 1305.7C1038.2 1305.9 1042.2 1306.1 1046.2 1306.2C1050.2 1306.4 1054.3 1306.6 1058.3 1306.7C1062.3 1306.9 1066.3 1307 1070.3 1307.2C1074.4 1307.3 1078.4 1307.4 1082.4 1307.5C1086.4 1307.6 1090.5 1307.7 1094.5 1307.8C1098.5 1307.9 1102.5 1308 1106.6 1308.1C1110.6 1308.1 1114.6 1308.2 1118.6 1308.3C1122.7 1308.3 1126.7 1308.3 1130.7 1308.4C1134.8 1308.4 1138.8 1308.4 1142.8 1308.4C1146.8 1308.4 1150.9 1308.4 1154.9 1308.4C1158.9 1308.4 1163 1308.4 1167 1308.4C1171 1308.3 1175.1 1308.3 1179.1 1308.2C1183.1 1308.2 1187.1 1308.1 1191.2 1308.1C1195.2 1308 1199.2 1307.9 1203.3 1307.8C1207.3 1307.7 1211.3 1307.6 1215.3 1307.5C1219.4 1307.3 1223.4 1307.2 1227.4 1307C1231.4 1306.9 1235.4 1306.7 1239.5 1306.5C1243.5 1306.3 1247.5 1306.1 1251.5 1305.9C1255.5 1305.7 1259.5 1305.4 1263.5 1305.2C1267.5 1304.9 1271.6 1304.6 1275.6 1304.3C1279.6 1304 1283.6 1303.7 1287.6 1303.4C1291.5 1303.1 1295.5 1302.7 1299.5 1302.3C1303.5 1301.9 1307.5 1301.5 1311.5 1301.1C1315.5 1300.7 1319.4 1300.3 1323.4 1299.8C1327.4 1299.3 1331.3 1298.8 1335.3 1298.3C1339.3 1297.8 1343.2 1297.2 1347.2 1296.7C1351.1 1296.1 1355.1 1295.5 1359 1294.9C1362.9 1294.3 1366.9 1293.6 1370.8 1292.9C1374.7 1292.3 1378.6 1291.5 1382.6 1290.8C1386.5 1290.1 1390.4 1289.3 1394.3 1288.5C1398.2 1287.8 1402.1 1287 1406 1286.1C1409.9 1285.3 1413.8 1284.4 1417.7 1283.6C1421.6 1282.7 1425.5 1281.8 1429.4 1280.9C1433.3 1280 1437.1 1279 1441 1278.1C1444.9 1277.1 1448.8 1276.1 1452.7 1275.2C1456.6 1274.2 1460.4 1273.2 1464.3 1272.1C1468.2 1271.1 1472.1 1270.1 1476 1269C1479.9 1268 1483.7 1266.9 1487.6 1265.8C1491.5 1264.8 1495.4 1263.7 1499.3 1262.6C1503.2 1261.5 1507.1 1260.4 1511 1259.3C1514.9 1258.1 1518.8 1257 1522.7 1255.9C1526.6 1254.8 1530.5 1253.6 1534.4 1252.5C1538.3 1251.3 1542.2 1250.1 1546.1 1248.9C1550 1247.8 1554 1246.6 1557.8 1245.3C1561.7 1244.1 1565.6 1242.9 1569.5 1241.6C1573.4 1240.3 1577.2 1239 1581.1 1237.7C1584.9 1236.4 1588.8 1235 1592.6 1233.6C1596.4 1232.3 1600.2 1230.8 1604 1229.4C1607.8 1227.9 1611.5 1226.4 1615.2 1224.9C1619 1223.3 1622.7 1221.8 1626.4 1220.1C1630 1218.5 1633.7 1216.8 1637.3 1215.1C1640.9 1213.4 1644.5 1211.6 1648.1 1209.8C1651.6 1208 1655.1 1206.1 1658.6 1204.2C1662.1 1202.2 1665.5 1200.3 1668.9 1198.2C1672.3 1196.1 1675.7 1194 1679 1191.8C1682.3 1189.7 1685.5 1187.4 1688.7 1185.1C1692 1182.8 1695.1 1180.4 1698.2 1177.9C1701.3 1175.5 1704.4 1172.9 1707.4 1170.3C1710.4 1167.7 1713.3 1165 1716.2 1162.2C1719.1 1159.4 1721.9 1156.6 1724.7 1153.6C1727.4 1150.7 1730.1 1147.7 1732.7 1144.6C1735.3 1141.5 1737.8 1138.3 1740.3 1135C1742.7 1131.8 1745 1128.4 1747.2 1125C1749.4 1121.6 1751.5 1118.1 1753.5 1114.5C1755.4 1111 1758 1105.4 1759 1103.6" stroke-width="1.21" stroke-dasharray="690 3 3 3 3 3 3 3 725 3 3 3 3 3 3 3 500"/>
<path d="M357.5 1167.8C359.4 1168.3 365.2 1169.8 369.1 1170.9C373 1172 376.8 1173 380.7 1174.1C384.5 1175.2 388.4 1176.3 392.3 1177.4C396.1 1178.6 400 1179.7 403.8 1180.8C407.7 1182 411.5 1183.1 415.3 1184.3C419.2 1185.4 423 1186.6 426.9 1187.8C430.7 1189 434.5 1190.2 438.4 1191.4C442.2 1192.6 446 1193.8 449.9 1195C453.7 1196.2 457.5 1197.4 461.4 1198.6C465.2 1199.9 469 1201.1 472.8 1202.3C476.7 1203.6 480.5 1204.8 484.3 1206.1C488.1 1207.3 492 1208.6 495.8 1209.8C499.6 1211.1 503.4 1212.4 507.2 1213.6C511.1 1214.9 514.9 1216.2 518.7 1217.4C522.5 1218.7 526.3 1220 530.1 1221.2C534 1222.5 537.8 1223.8 541.6 1225C545.4 1226.3 549.2 1227.6 553.1 1228.8C556.9 1230.1 560.7 1231.4 564.5 1232.6C568.3 1233.9 572.2 1235.2 576 1236.4C579.8 1237.7 583.6 1238.9 587.4 1240.2C591.3 1241.4 595.1 1242.7 598.9 1243.9C602.7 1245.2 606.6 1246.4 610.4 1247.6C614.2 1248.9 618.1 1250.1 621.9 1251.3C625.7 1252.5 629.6 1253.7 633.4 1254.9C637.2 1256.1 641.1 1257.3 644.9 1258.5C648.7 1259.7 652.6 1260.9 656.4 1262C660.3 1263.2 664.1 1264.3 668 1265.5C671.8 1266.6 675.7 1267.8 679.5 1268.9C683.4 1270 687.3 1271.1 691.1 1272.2C695 1273.3 698.8 1274.4 702.7 1275.4C706.6 1276.5 710.5 1277.6 714.3 1278.6C718.2 1279.6 722.1 1280.6 726 1281.7C729.9 1282.7 733.8 1283.7 737.6 1284.6C741.5 1285.6 745.4 1286.6 749.3 1287.5C753.2 1288.5 757.1 1289.4 761 1290.3C764.9 1291.3 768.9 1292.2 772.8 1293.1C776.7 1293.9 780.6 1294.8 784.5 1295.7C788.4 1296.5 792.3 1297.4 796.3 1298.2C800.2 1299.1 804.1 1299.9 808.1 1300.7C812 1301.5 815.9 1302.3 819.9 1303.1C823.8 1303.9 827.7 1304.6 831.7 1305.4C835.6 1306.1 839.6 1306.9 843.5 1307.6C847.5 1308.3 851.4 1309 855.4 1309.7C859.3 1310.4 863.3 1311.1 867.2 1311.8C871.2 1312.5 875.1 1313.1 879.1 1313.8C883.1 1314.4 887 1315 891 1315.6C895 1316.3 898.9 1316.9 902.9 1317.5C906.9 1318.1 910.9 1318.6 914.8 1319.2C918.8 1319.8 922.8 1320.3 926.8 1320.9C930.8 1321.4 934.7 1321.9 938.7 1322.4C942.7 1323 946.7 1323.5 950.7 1324C954.7 1324.4 958.7 1324.9 962.7 1325.4C966.7 1325.9 970.6 1326.3 974.6 1326.7C978.6 1327.2 982.6 1327.6 986.6 1328C990.6 1328.4 994.6 1328.8 998.6 1329.2C1002.6 1329.6 1006.7 1330 1010.7 1330.4C1014.7 1330.7 1018.7 1331.1 1022.7 1331.4C1026.7 1331.8 1030.7 1332.1 1034.7 1332.4C1038.7 1332.8 1042.7 1333.1 1046.7 1333.4C1050.8 1333.7 1054.8 1333.9 1058.8 1334.2C1062.8 1334.5 1066.8 1334.8 1070.8 1335C1074.9 1335.3 1078.9 1335.5 1082.9 1335.7C1086.9 1335.9 1090.9 1336.2 1095 1336.4C1099 1336.6 1103 1336.8 1107 1337C1111.1 1337.1 1115.1 1337.3 1119.1 1337.5C1123.1 1337.6 1127.2 1337.8 1131.2 1337.9C1135.2 1338.1 1139.2 1338.2 1143.3 1338.3C1147.3 1338.4 1151.3 1338.5 1155.3 1338.6C1159.4 1338.7 1163.4 1338.8 1167.4 1338.9C1171.5 1339 1175.5 1339 1179.5 1339.1C1183.5 1339.1 1187.6 1339.2 1191.6 1339.2C1195.6 1339.2 1199.7 1339.2 1203.7 1339.2C1207.7 1339.2 1211.7 1339.2 1215.8 1339.2C1219.8 1339.1 1223.8 1339.1 1227.8 1339C1231.9 1339 1235.9 1338.9 1239.9 1338.8C1243.9 1338.7 1247.9 1338.6 1252 1338.4C1256 1338.3 1260 1338.2 1264 1338C1268 1337.8 1272 1337.6 1276 1337.4C1280 1337.2 1284.1 1337 1288.1 1336.7C1292.1 1336.5 1296.1 1336.2 1300.1 1335.9C1304.1 1335.6 1308.1 1335.3 1312.1 1335C1316 1334.6 1320 1334.3 1324 1333.9C1328 1333.5 1332 1333.1 1336 1332.6C1340 1332.2 1343.9 1331.7 1347.9 1331.2C1351.9 1330.7 1355.8 1330.2 1359.8 1329.7C1363.8 1329.1 1367.7 1328.6 1371.7 1328C1375.6 1327.4 1379.6 1326.7 1383.5 1326.1C1387.5 1325.4 1391.4 1324.8 1395.4 1324.1C1399.3 1323.3 1403.2 1322.6 1407.2 1321.9C1411.1 1321.1 1415 1320.3 1419 1319.5C1422.9 1318.7 1426.8 1317.9 1430.7 1317.1C1434.6 1316.2 1438.5 1315.4 1442.5 1314.5C1446.4 1313.6 1450.3 1312.7 1454.2 1311.8C1458.1 1310.8 1462 1309.9 1465.9 1308.9C1469.8 1308 1473.7 1307 1477.6 1306C1481.5 1305 1485.4 1304 1489.3 1303C1493.1 1302 1497 1301 1500.9 1299.9C1504.8 1298.9 1508.7 1297.8 1512.6 1296.8C1516.5 1295.7 1520.3 1294.6 1524.2 1293.5C1528.1 1292.5 1532 1291.4 1535.9 1290.3C1539.7 1289.1 1543.6 1288 1547.5 1286.9C1551.4 1285.8 1555.3 1284.7 1559.1 1283.5C1563 1282.4 1566.9 1281.3 1570.8 1280.1C1574.6 1279 1578.5 1277.9 1582.4 1276.7C1586.2 1275.6 1590.1 1274.4 1594 1273.3C1597.9 1272.1 1601.7 1271 1605.6 1269.8C1609.5 1268.7 1613.4 1267.5 1617.2 1266.4C1621.1 1265.2 1625 1264.1 1628.9 1262.9C1632.7 1261.8 1636.6 1260.6 1640.5 1259.5C1644.3 1258.3 1648.2 1257.1 1652 1255.9C1655.9 1254.7 1659.8 1253.5 1663.6 1252.3C1667.4 1251.1 1671.3 1249.9 1675.1 1248.6C1678.9 1247.4 1682.7 1246.1 1686.5 1244.8C1690.3 1243.5 1694.1 1242.2 1697.9 1240.8C1701.7 1239.5 1705.5 1238.1 1709.2 1236.7C1713 1235.3 1716.7 1233.8 1720.4 1232.4C1724.2 1230.9 1727.9 1229.4 1731.6 1227.8C1735.3 1226.3 1738.9 1224.7 1742.6 1223.1C1746.2 1221.5 1749.9 1219.8 1753.5 1218.1C1757.1 1216.4 1760.7 1214.6 1764.3 1212.8C1767.8 1211 1771.4 1209.1 1774.9 1207.2C1778.4 1205.3 1781.9 1203.3 1785.4 1201.3C1788.9 1199.3 1792.3 1197.2 1795.7 1195C1799.1 1192.9 1802.5 1190.7 1805.8 1188.4C1809.2 1186.1 1812.5 1183.8 1815.7 1181.4C1818.9 1179 1822.1 1176.5 1825.2 1173.9C1828.3 1171.4 1831.3 1168.7 1834.3 1166C1837.2 1163.3 1840.1 1160.5 1842.9 1157.6C1845.6 1154.7 1848.3 1151.7 1850.9 1148.7C1853.4 1145.6 1855.9 1142.5 1858.2 1139.2C1860.6 1136 1862.8 1132.6 1864.8 1129.2C1866.9 1125.8 1868.8 1122.2 1870.6 1118.6C1872.4 1115 1874 1111.2 1875.4 1107.4C1876.9 1103.5 1878.6 1097.5 1879.3 1095.6" stroke-width="1.21" stroke-dasharray="130 4 6 4 70 4 6 4 490 3 3 3 3 3 860 3 3 3 3 3 3 3 500"/>
<path d="M341.7 1116.7L336.7 1115.8C333 1113.5 330 1112.4 326.7 1112.4L320 1112.5L294 1113.9C291.5 1114.2 291.5 1117.2 294 1117.4L316.7 1120.8" stroke-width="1"/>
<path d="M292.8 1117.3L357.5 1167.6" stroke-width="1.32"/>
<path d="M315.8 1121.5L365 1158.3" stroke-width="1.21"/>
<path d="M365 1158.3C367.5 1161 365.5 1166.5 357.5 1167.6" stroke-width="1.1"/>
<path d="M357.5 1167.8C371.1 1172.5 410.5 1186.5 439.2 1196.2C467.9 1205.9 511 1219.6 529.5 1225.8C548 1232 545.2 1231.2 550 1233.3C554.8 1235.4 555 1235.8 558.3 1238.3C561.6 1240.8 566.1 1245.2 570 1248.3C573.9 1251.4 579.8 1255.3 581.7 1256.7" stroke-width="1.32"/>
<path d="M550 1233.3L653.3 1270.3" stroke-width="1.1"/>
<path d="M579.2 1256.5C577.9 1256.1 574.3 1254.7 571.8 1254C569.2 1253.3 566.6 1252.9 564 1252.6C561.4 1252.3 558.7 1252.1 556 1252.1C553.3 1252.1 550.6 1252.2 547.8 1252.4C545.1 1252.6 542.3 1252.8 539.6 1253.2C536.9 1253.7 534.1 1254.2 531.6 1255C529 1255.8 526.4 1256.8 524.1 1258.1C521.8 1259.4 519.6 1261.1 517.7 1262.9C515.8 1264.7 514.1 1266.8 512.7 1269C511.3 1271.2 510.2 1273.6 509.5 1276C508.8 1278.5 508.4 1281.1 508.3 1283.6C508.3 1286.2 508.5 1288.9 509 1291.5C509.5 1294.1 510.3 1296.8 511.2 1299.4C512.1 1302 513.3 1304.6 514.5 1307.1C515.7 1309.6 517.1 1312.1 518.5 1314.5C519.9 1316.8 521.4 1319.1 523 1321.2C524.6 1323.4 526.2 1325.5 527.9 1327.6C529.6 1329.6 531.4 1331.6 533.2 1333.5C535 1335.5 536.9 1337.4 538.8 1339.2C540.7 1341.1 542.6 1342.9 544.5 1344.7C546.5 1346.5 548.5 1348.2 550.4 1350C552.4 1351.8 554.4 1353.5 556.4 1355.3C558.4 1357.1 560.4 1358.9 562.4 1360.7C564.4 1362.4 566.3 1364.3 568.3 1366.1C570.3 1367.9 572.3 1369.7 574.3 1371.5C576.2 1373.4 578.2 1375.2 580.2 1377C582.2 1378.8 584.2 1380.6 586.2 1382.4C588.2 1384.2 590.3 1385.9 592.3 1387.6C594.4 1389.3 596.5 1391 598.6 1392.7C600.7 1394.3 602.8 1395.9 605 1397.5C607.2 1399 609.4 1400.5 611.6 1401.9C613.8 1403.3 616.1 1404.7 618.4 1406C620.8 1407.3 623.1 1408.6 625.5 1409.8C627.9 1411 630.3 1412.2 632.7 1413.3C635.1 1414.4 637.6 1415.5 640.1 1416.5C642.6 1417.6 645 1418.6 647.6 1419.6C650.1 1420.6 652.6 1421.5 655.1 1422.4C657.6 1423.4 660.1 1424.3 662.7 1425.2C665.2 1426.1 667.7 1427 670.3 1427.9C672.8 1428.8 675.3 1429.7 677.9 1430.5C680.4 1431.3 683 1432.2 685.5 1433C688.1 1433.8 690.6 1434.5 693.2 1435.3C695.7 1436 698.3 1436.7 700.9 1437.4C703.5 1438.1 706 1438.7 708.6 1439.3C711.2 1439.9 713.8 1440.5 716.4 1441C719 1441.5 721.7 1442 724.3 1442.5C726.9 1442.9 729.6 1443.3 732.2 1443.6C734.9 1444 737.6 1444.3 740.2 1444.5C742.9 1444.7 747 1444.9 748.3 1445" stroke-width="1.54"/>
<path d="M539.2 1295.8L546.7 1303.3L599.2 1257.5L592.2 1249.2Z" stroke-width="1.21"/>
<path d="M581.7 1256.7L592.2 1249.2" stroke-width="1.21"/>
<path d="M594.5 1249.5L610 1267.8" stroke-width="1.21"/>
<path d="M596.6 1248.6L612 1266.8" stroke-width="0.99"/>
<path d="M610 1268C607.8 1269 606.5 1271 605 1273.3C603.5 1275.6 601.8 1278.6 600.8 1281.7C599.8 1284.8 598.9 1288.4 598.7 1291.7C598.5 1295 598.9 1298.7 599.7 1301.7C600.5 1304.8 601.3 1307 603.3 1310C605.3 1313 608.1 1317 611.7 1320C615.3 1323 620.6 1325.8 625 1328.3C629.4 1330.8 634.4 1333.3 638.3 1335C642.2 1336.7 645.6 1338.3 648.3 1338.3C650.9 1338.3 652.8 1336.8 654.2 1335C655.6 1333.2 655.9 1329.9 656.7 1327.5C657.5 1325.1 658.4 1322.9 659.2 1320.8C660 1318.7 661.3 1317.6 661.7 1315C662.1 1312.4 662.1 1308.3 661.7 1305C661.3 1301.7 659.9 1298.3 659.2 1295C658.5 1291.7 658.8 1287.8 657.5 1285C656.2 1282.2 654.3 1280.5 651.7 1278.3C649.1 1276.1 645.6 1273.4 641.7 1271.7C637.8 1270 632.2 1269 628.3 1268.3C624.4 1267.6 621.3 1267.5 618.3 1267.5C615.2 1267.5 612.2 1267 610 1268Z" stroke-width="1.32"/>
<path d="M629.2 1276.7C631 1291 633.5 1308 636.7 1324.2C638.5 1312 639.3 1300 636.5 1292.5C634.5 1287 631.5 1281 629.2 1276.7Z" stroke-width="0.9"/>
<path d="M611.7 1303L826.7 1272.5" stroke-width="0.99" stroke-dasharray="62 13 74 10 65 12 60"/>
<path d="M659.2 1325L755 1440" stroke-width="1.1"/>
<path d="M660.8 1324L756.5 1438.8" stroke-width="0.99"/>
<path d="M748.3 1445L752.5 1450.8L802.5 1408.3L798.3 1403.3Z" stroke-width="1.21"/>
<path d="M653.3 1270.3C653.9 1270.6 655.6 1271.4 657 1272.3C658.4 1273.2 659.5 1274 661.7 1275.8C663.9 1277.5 667.2 1280.1 670 1282.8C672.8 1285.5 676.9 1290.2 678.3 1291.7" stroke-width="1.1"/>
<path d="M678.3 1291.7L695 1306.7L745 1351.7L791.7 1395L795.5 1396.6" stroke-width="1.1" stroke-dasharray="8 6"/>
<path d="M795.5 1396.7C797.5 1396.6 803.5 1396.5 807.5 1396.4C811.6 1396.4 815.6 1396.3 819.6 1396.2C823.6 1396.1 827.7 1396 831.7 1395.9C835.7 1395.8 839.7 1395.7 843.7 1395.6C847.8 1395.5 851.8 1395.4 855.8 1395.3C859.8 1395.2 863.8 1395.1 867.8 1395C871.8 1394.9 875.9 1394.8 879.9 1394.6C883.9 1394.5 887.9 1394.4 891.9 1394.3C895.9 1394.2 899.9 1394 903.9 1393.9C907.9 1393.8 911.9 1393.6 915.9 1393.5C920 1393.4 924 1393.2 928 1393.1C932 1393 936 1392.8 940 1392.7C944 1392.6 948 1392.4 952 1392.3C956 1392.1 960 1392 964 1391.8C968 1391.7 972 1391.6 976 1391.4C980 1391.3 984 1391.1 988 1391C992 1390.8 996 1390.7 1000 1390.5C1004 1390.4 1008.1 1390.2 1012.1 1390.1C1016.1 1389.9 1020.1 1389.8 1024.1 1389.6C1028.1 1389.5 1032.1 1389.3 1036.1 1389.2C1040.1 1389 1044.1 1388.9 1048.1 1388.7C1052.1 1388.6 1056.1 1388.5 1060.1 1388.3C1064.1 1388.2 1068.1 1388 1072.1 1387.9C1076.1 1387.7 1080.2 1387.6 1084.2 1387.4C1088.2 1387.3 1092.2 1387.2 1096.2 1387C1100.2 1386.9 1104.2 1386.8 1108.2 1386.6C1112.2 1386.5 1116.2 1386.3 1120.3 1386.2C1124.3 1386.1 1128.3 1386 1132.3 1385.8C1136.3 1385.7 1140.3 1385.6 1144.4 1385.5C1148.4 1385.3 1152.4 1385.2 1156.4 1385.1C1160.4 1385 1164.4 1384.9 1168.5 1384.7C1172.5 1384.6 1176.5 1384.5 1180.5 1384.4C1184.6 1384.3 1188.6 1384.2 1192.6 1384.1C1196.6 1383.9 1200.7 1383.8 1204.7 1383.7C1208.7 1383.6 1212.7 1383.4 1216.8 1383.3C1220.8 1383.1 1224.8 1383 1228.8 1382.8C1232.8 1382.7 1236.9 1382.5 1240.9 1382.3C1244.9 1382.1 1248.9 1381.9 1252.9 1381.7C1256.9 1381.5 1260.9 1381.2 1265 1381C1269 1380.7 1273 1380.5 1277 1380.2C1281 1379.9 1285 1379.6 1289 1379.2C1293 1378.9 1297 1378.5 1300.9 1378.2C1304.9 1377.8 1308.9 1377.4 1312.9 1376.9C1316.9 1376.5 1320.9 1376 1324.8 1375.5C1328.8 1375 1332.8 1374.5 1336.7 1374C1340.7 1373.4 1344.7 1372.8 1348.6 1372.2C1352.6 1371.6 1356.5 1370.9 1360.5 1370.2C1364.4 1369.6 1368.3 1368.8 1372.3 1368.1C1376.2 1367.3 1380.1 1366.6 1384 1365.8C1388 1365 1391.9 1364.1 1395.8 1363.3C1399.7 1362.4 1403.6 1361.6 1407.5 1360.7C1411.4 1359.8 1415.3 1358.8 1419.2 1357.9C1423.1 1356.9 1427 1356 1430.9 1355C1434.8 1354 1438.7 1353 1442.6 1351.9C1446.4 1350.9 1450.3 1349.8 1454.2 1348.8C1458.1 1347.7 1461.9 1346.6 1465.8 1345.5C1469.7 1344.4 1473.5 1343.3 1477.4 1342.2C1481.3 1341 1485.1 1339.9 1489 1338.7C1492.8 1337.6 1496.7 1336.4 1500.5 1335.2C1504.4 1334 1508.2 1332.8 1512.1 1331.6C1515.9 1330.4 1519.7 1329.2 1523.6 1328C1527.4 1326.8 1531.2 1325.5 1535.1 1324.3C1538.9 1323 1542.7 1321.8 1546.6 1320.6C1550.4 1319.3 1554.2 1318.1 1558 1316.8C1561.9 1315.5 1565.7 1314.3 1569.5 1313C1573.3 1311.8 1577.1 1310.5 1581 1309.2C1584.8 1308 1588.6 1306.7 1592.4 1305.4C1596.2 1304.2 1600 1302.9 1603.8 1301.7C1607.6 1300.4 1611.4 1299.1 1615.2 1297.9C1619.1 1296.6 1622.9 1295.4 1626.7 1294.2C1630.5 1292.9 1634.3 1291.7 1638.1 1290.4C1641.9 1289.2 1645.7 1288 1649.5 1286.7C1653.3 1285.5 1657.1 1284.3 1660.9 1283C1664.7 1281.8 1668.5 1280.5 1672.3 1279.3C1676.1 1278.1 1679.9 1276.8 1683.7 1275.6C1687.5 1274.4 1691.3 1273.1 1695.1 1271.9C1698.9 1270.7 1702.7 1269.4 1706.5 1268.2C1710.3 1266.9 1714.1 1265.7 1717.9 1264.4C1721.7 1263.2 1725.5 1261.9 1729.3 1260.7C1733.1 1259.4 1736.9 1258.2 1740.6 1256.9C1744.4 1255.6 1748.2 1254.3 1752 1253.1C1755.8 1251.8 1759.7 1250.5 1763.5 1249.2C1767.3 1247.9 1771.1 1246.6 1774.9 1245.3C1778.7 1244 1782.5 1242.7 1786.3 1241.4C1790.1 1240.1 1793.9 1238.7 1797.7 1237.4C1801.5 1236.1 1805.3 1234.7 1809.1 1233.4C1812.9 1232 1816.7 1230.6 1820.6 1229.3C1824.4 1227.9 1828.2 1226.5 1832 1225.1C1835.8 1223.7 1839.6 1222.3 1843.4 1220.8C1847.2 1219.4 1851 1217.9 1854.8 1216.4C1858.5 1214.9 1862.3 1213.3 1866 1211.7C1869.6 1210.1 1873.3 1208.4 1876.9 1206.7C1880.5 1204.9 1884.1 1203.1 1887.6 1201.2C1891.2 1199.3 1894.6 1197.4 1898 1195.3C1901.4 1193.3 1904.8 1191.1 1908 1188.9C1911.3 1186.6 1914.5 1184.2 1917.6 1181.8C1920.6 1179.3 1923.7 1176.7 1926.5 1174C1929.4 1171.3 1932.2 1168.5 1934.9 1165.6C1937.5 1162.6 1940.1 1159.6 1942.4 1156.4C1944.8 1153.2 1947 1149.9 1949.1 1146.5C1951.2 1143.1 1953.1 1139.5 1954.8 1135.8C1956.5 1132.1 1958 1128.3 1959.3 1124.4C1960.7 1120.4 1962.1 1114.1 1962.7 1112.1" stroke-width="1.1" stroke-dasharray="9 6"/>
<path d="M1452.6 983.8L1453 1074.9" stroke-width="1.21"/>
<path d="M1478.6 997.5L1479.2 1073.2" stroke-width="1.21"/>
<path d="M1452.5 983.8L1455 992.5L1458.8 997.5L1460 1005L1462.5 1001.3L1465 1018.8L1467.5 1005L1470 1001.3L1472.5 1003.8L1476.3 998.8L1477.5 1005L1478.5 997.5" stroke-width="1.43"/>
<path d="M2103.5 1033.6L1966.6 1043.3L1966.6 1057.9L2116 1047.9" stroke-width="1.32"/>
<path d="M2103.5 1033.6L2104.3 1036.1L2100.1 1037.8L2107.7 1040.3L2101 1044L2113.6 1045.3L2116 1048.4" stroke-width="1.32"/>
<path d="M1967.5 1057.9L1967.5 1079" stroke-width="1.1"/>
<path d="M1980 1037.3L1984 1037.6L1984.3 1040.4" stroke-width="1"/>
<path d="M1977.5 1077.7L1977.5 1087.3" stroke-width="1.1"/>
<path d="M1967.5 1087.5C1967.5 1088.2 1967.6 1089.8 1967.3 1092C1967 1094.2 1966.6 1097.4 1965.8 1100.8C1965 1104.2 1963 1110.5 1962.4 1112.5" stroke-width="1.1"/>
<path d="M1962.4 1112.5C1962.9 1111.3 1964.2 1107.5 1965.5 1105.5C1966.8 1103.5 1968.2 1101.8 1970 1100.3C1971.8 1098.8 1973.9 1097.4 1976 1096.5C1978.1 1095.6 1981.5 1095.2 1982.6 1094.9" stroke-width="1.32"/>
<text x="1521.8" y="623.2" font-family="Liberation Serif" font-size="27" font-weight="bold" textLength="89.5" lengthAdjust="spacingAndGlyphs" transform="rotate(-0.22 1566.5 623.2)">Clapotis</text>
<text x="1474.5" y="673.9" font-family="Liberation Sans" font-size="16.2" font-weight="normal" textLength="184.0" lengthAdjust="spacingAndGlyphs" transform="rotate(-0.22 1566.5 673.9)">Construction Ismael Poitou</text>
<text x="1461.3" y="692.6" font-family="Liberation Sans" font-size="16.2" font-weight="normal" textLength="210.3" lengthAdjust="spacingAndGlyphs" transform="rotate(-0.22 1566.5 692.6)">du service des phares et balises</text>
<text x="1527.0" y="731.7" font-family="Liberation Sans" font-size="16.2" font-weight="normal" textLength="79.0" lengthAdjust="spacingAndGlyphs" transform="rotate(-0.22 1566.5 731.7)">Boyardville</text>
<text x="1550.3" y="751.4" font-family="Liberation Sans" font-size="16.2" font-weight="normal" textLength="32.4" lengthAdjust="spacingAndGlyphs" transform="rotate(-0.22 1566.5 751.4)">1920</text>
<text x="1380.4" y="829.9" font-family="Liberation Sans" font-size="16.2" font-weight="normal" textLength="372.2" lengthAdjust="spacingAndGlyphs" transform="rotate(-0.22 1566.5 829.9)">Relevé en 2010 par Bernard Moreau et Herve Coutand</text>
<text x="1489.3" y="868.0" font-family="Liberation Sans" font-size="16.2" font-weight="normal" textLength="154.3" lengthAdjust="spacingAndGlyphs" transform="rotate(-0.22 1566.5 868.0)">Dessin Herve Coutand</text>
<text x="1524.9" y="886.9" font-family="Liberation Sans" font-size="16.2" font-weight="normal" textLength="83.2" lengthAdjust="spacingAndGlyphs" transform="rotate(-0.22 1566.5 886.9)">échelle 1/20</text>
<path d="M686.5 1556.6L1436.6 1553.9" stroke-width="0.9"/>
<path d="M686.5 1559.5L1436.6 1556.8" stroke-width="0.9"/>
<path d="M686.5 1562.5L1436.6 1559.8" stroke-width="0.9"/>
<path d="M686.5 1565.4L1436.6 1562.7" stroke-width="0.9"/>
<path d="M686.5 1568.4L1436.6 1565.7" stroke-width="0.9"/>
<path d="M686.5 1571.4L1436.6 1568.7" stroke-width="0.9"/>
<path d="M686.5 1574.3L1436.6 1571.6" stroke-width="0.9"/>
<path d="M686.5 1577.3L1436.6 1574.6" stroke-width="0.9"/>
<path d="M686.5 1580.2L1436.6 1577.5" stroke-width="0.9"/>
<path d="M686.5 1553.6L1436.6 1550.9L1436.6 1580.5L686.5 1583.2Z" stroke-width="1.2"/>
<path d="M683.7 1585.3L1435.1 1582.4" stroke-width="3.4"/>
<path d="M684.7 1556.1L684.7 1586.4" stroke-width="2.6"/>
<path d="M836.5 1553.1L836.5 1582.7" stroke-width="1.3"/>
<path d="M986.5 1552.5L986.5 1582.1" stroke-width="1.3"/>
<path d="M1136.6 1552L1136.6 1581.6" stroke-width="1.3"/>
<path d="M1286.6 1551.4L1286.6 1581" stroke-width="1.3"/>
<path d="M687 1555.1L701.5 1583.1" stroke-width="1.1"/>
<path d="M701.5 1553.5L701.5 1583.1" stroke-width="1.1"/>
<path d="M702 1555L716.5 1583.1" stroke-width="1.1"/>
<path d="M716.5 1553.5L716.5 1583.1" stroke-width="1.1"/>
<path d="M717 1555L731.5 1583" stroke-width="1.1"/>
<path d="M731.5 1553.4L731.5 1583" stroke-width="1.1"/>
<path d="M732 1554.9L746.5 1583" stroke-width="1.1"/>
<path d="M746.5 1553.4L746.5 1583" stroke-width="1.1"/>
<path d="M747 1554.9L761.5 1582.9" stroke-width="1.1"/>
<path d="M761.5 1553.3L761.5 1582.9" stroke-width="1.1"/>
<path d="M762 1554.8L776.5 1582.9" stroke-width="1.1"/>
<path d="M776.5 1553.3L776.5 1582.9" stroke-width="1.1"/>
<path d="M777 1554.8L791.5 1582.8" stroke-width="1.1"/>
<path d="M791.5 1553.2L791.5 1582.8" stroke-width="1.1"/>
<path d="M792 1554.7L806.5 1582.8" stroke-width="1.1"/>
<path d="M806.5 1553.2L806.5 1582.8" stroke-width="1.1"/>
<path d="M807 1554.7L821.5 1582.7" stroke-width="1.1"/>
<path d="M821.5 1553.1L821.5 1582.7" stroke-width="1.1"/>
<path d="M822 1554.6L836.5 1582.7" stroke-width="1.1"/>
<text x="686.5" y="1552.1" font-family="Liberation Sans" font-size="5" font-weight="bold" text-anchor="middle">0</text>
<text x="836.5" y="1551.6" font-family="Liberation Sans" font-size="5" font-weight="bold" text-anchor="middle">1</text>
<text x="986.5" y="1551.0" font-family="Liberation Sans" font-size="5" font-weight="bold" text-anchor="middle">2</text>
<text x="1136.6" y="1550.5" font-family="Liberation Sans" font-size="5" font-weight="bold" text-anchor="middle">3</text>
<text x="1286.6" y="1549.9" font-family="Liberation Sans" font-size="5" font-weight="bold" text-anchor="middle">4</text>
<text x="1436.6" y="1549.4" font-family="Liberation Sans" font-size="5" font-weight="bold" text-anchor="middle">5</text>
</svg>
</body></html>
